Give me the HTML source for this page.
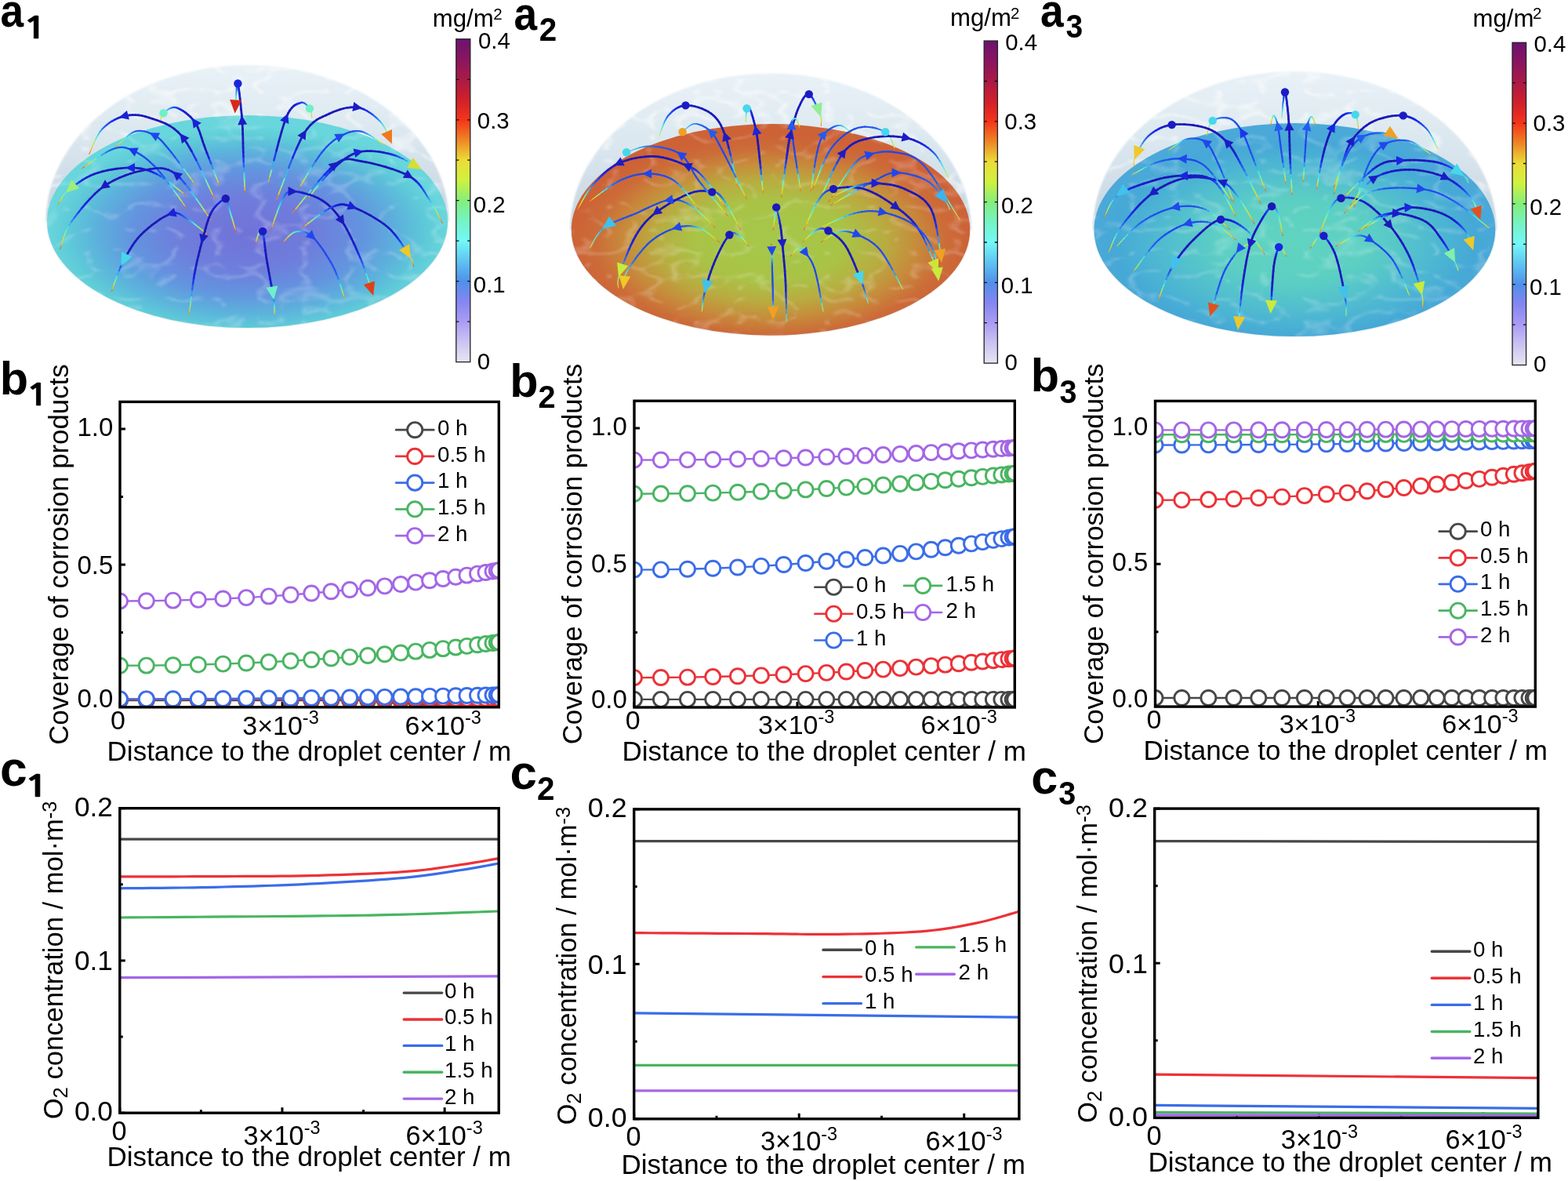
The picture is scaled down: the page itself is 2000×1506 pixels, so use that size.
<!DOCTYPE html>
<html><head><meta charset="utf-8"><title>Droplet corrosion simulation</title>
<style>html,body{margin:0;padding:0;background:#fff;}svg{display:block;}</style></head>
<body><svg xmlns="http://www.w3.org/2000/svg" width="2000" height="1506" viewBox="0 0 2000 1506" font-family="'Liberation Sans', Arial, sans-serif">
<defs>
<linearGradient id="cbar" x1="0" y1="0" x2="0" y2="1"><stop offset="0.0000" stop-color="#6b1370"/><stop offset="0.0625" stop-color="#8a1560"/><stop offset="0.1250" stop-color="#aa1a45"/><stop offset="0.1875" stop-color="#d0202a"/><stop offset="0.2500" stop-color="#f5341a"/><stop offset="0.3125" stop-color="#ee8624"/><stop offset="0.3750" stop-color="#ecdc38"/><stop offset="0.4375" stop-color="#cff23e"/><stop offset="0.5000" stop-color="#84ee7c"/><stop offset="0.5625" stop-color="#74f4c4"/><stop offset="0.6250" stop-color="#74f8f8"/><stop offset="0.6875" stop-color="#5ec4f2"/><stop offset="0.7500" stop-color="#5090ea"/><stop offset="0.8125" stop-color="#8486f2"/><stop offset="0.8750" stop-color="#aa9cf4"/><stop offset="0.9375" stop-color="#cac4f2"/><stop offset="1.0000" stop-color="#e6e6f2"/></linearGradient>
<filter id="soft" x="-2%" y="-2%" width="104%" height="104%"><feGaussianBlur stdDeviation="0.9"/></filter>
<radialGradient id="base0" gradientUnits="userSpaceOnUse" cx="315.5" cy="296.5" r="255.5" gradientTransform="translate(315.5,296.5) scale(1,0.5303) translate(-315.5,-296.5)"><stop offset="0.0" stop-color="#7272d8"/><stop offset="0.35" stop-color="#6e7edc"/><stop offset="0.58" stop-color="#6394df"/><stop offset="0.76" stop-color="#5cb2dc"/><stop offset="0.9" stop-color="#5ecbd8"/><stop offset="1.0" stop-color="#68d6dc"/></radialGradient>
<linearGradient id="domeg0" gradientUnits="userSpaceOnUse" x1="0" y1="83" x2="0" y2="282.5"><stop offset="0" stop-color="#e9f2f7"/><stop offset="0.45" stop-color="#dbe7ef"/><stop offset="0.8" stop-color="#cddbe5"/><stop offset="1" stop-color="#c7d5e0"/></linearGradient>
<clipPath id="dclip0"><path d="M58.5,282.5 A257,199.5 0 0 1 572.5,282.5 L571,282.5 A255.5,135.5 0 0 1 60,282.5 Z"/></clipPath>
<clipPath id="bclip0"><ellipse cx="315.5" cy="282.5" rx="255.5" ry="135.5"/></clipPath>
<filter id="marb0" x="0" y="0" width="1" height="1" filterUnits="objectBoundingBox"><feTurbulence type="turbulence" baseFrequency="0.018 0.034" numOctaves="2" seed="3"/><feColorMatrix type="matrix" values="0 0 0 0 1 0 0 0 0 1 0 0 0 0 1 -6 0 0 0 1.0"/><feGaussianBlur stdDeviation="1.3"/></filter>
<radialGradient id="base1" gradientUnits="userSpaceOnUse" cx="983" cy="306.9" r="254.2" gradientTransform="translate(983,306.9) scale(1,0.5303) translate(-983,-306.9)"><stop offset="0.0" stop-color="#a4c84a"/><stop offset="0.38" stop-color="#a9c346"/><stop offset="0.58" stop-color="#b9ab40"/><stop offset="0.74" stop-color="#c78a3b"/><stop offset="0.88" stop-color="#cc6c38"/><stop offset="1.0" stop-color="#cd6236"/></radialGradient>
<linearGradient id="domeg1" gradientUnits="userSpaceOnUse" x1="0" y1="93.5" x2="0" y2="292.9"><stop offset="0" stop-color="#e9f2f7"/><stop offset="0.45" stop-color="#dbe7ef"/><stop offset="0.8" stop-color="#cddbe5"/><stop offset="1" stop-color="#c7d5e0"/></linearGradient>
<clipPath id="dclip1"><path d="M727.3,292.9 A255.7,199.4 0 0 1 1238.7,292.9 L1237.2,292.9 A254.2,134.8 0 0 1 728.8,292.9 Z"/></clipPath>
<clipPath id="bclip1"><ellipse cx="983" cy="292.9" rx="254.2" ry="134.8"/></clipPath>
<filter id="marb1" x="0" y="0" width="1" height="1" filterUnits="objectBoundingBox"><feTurbulence type="turbulence" baseFrequency="0.018 0.034" numOctaves="2" seed="5"/><feColorMatrix type="matrix" values="0 0 0 0 1 0 0 0 0 1 0 0 0 0 1 -6 0 0 0 1.0"/><feGaussianBlur stdDeviation="1.3"/></filter>
<radialGradient id="base2" gradientUnits="userSpaceOnUse" cx="1651.4" cy="307.1" r="255.9" gradientTransform="translate(1651.4,307.1) scale(1,0.5315) translate(-1651.4,-307.1)"><stop offset="0.0" stop-color="#60d4c0"/><stop offset="0.38" stop-color="#5ccfc3"/><stop offset="0.6" stop-color="#53c0cd"/><stop offset="0.78" stop-color="#4ab2d4"/><stop offset="0.9" stop-color="#46a8d6"/><stop offset="1.0" stop-color="#4aa9d8"/></radialGradient>
<linearGradient id="domeg2" gradientUnits="userSpaceOnUse" x1="0" y1="91.1" x2="0" y2="293.1"><stop offset="0" stop-color="#e9f2f7"/><stop offset="0.45" stop-color="#dbe7ef"/><stop offset="0.8" stop-color="#cddbe5"/><stop offset="1" stop-color="#c7d5e0"/></linearGradient>
<clipPath id="dclip2"><path d="M1394,293.1 A257.4,202 0 0 1 1908.8,293.1 L1907.3,293.1 A255.9,136 0 0 1 1395.5,293.1 Z"/></clipPath>
<clipPath id="bclip2"><ellipse cx="1651.4" cy="293.1" rx="255.9" ry="136"/></clipPath>
<filter id="marb2" x="0" y="0" width="1" height="1" filterUnits="objectBoundingBox"><feTurbulence type="turbulence" baseFrequency="0.018 0.034" numOctaves="2" seed="7"/><feColorMatrix type="matrix" values="0 0 0 0 1 0 0 0 0 1 0 0 0 0 1 -6 0 0 0 1.0"/><feGaussianBlur stdDeviation="1.3"/></filter>
<clipPath id="clip0"><rect x="153" y="512.4" width="483.3" height="389.4"/></clipPath>
<clipPath id="clip1"><rect x="809" y="511.25" width="485.3" height="390.75"/></clipPath>
<clipPath id="clip2"><rect x="1473.5" y="511.4" width="484.8" height="389.7"/></clipPath>
<clipPath id="clip3"><rect x="152.8" y="1030.7" width="483.4" height="388.5"/></clipPath>
<clipPath id="clip4"><rect x="808.7" y="1031.9" width="491.2" height="394.9"/></clipPath>
<clipPath id="clip5"><rect x="1472.7" y="1031.1" width="489.2" height="394.3"/></clipPath>
</defs>
<rect width="2000" height="1506" fill="#fff"/>
<path d="M58.5,282.5 A257,199.5 0 0 1 572.5,282.5 L571,282.5 A255.5,135.5 0 0 1 60,282.5 Z" fill="url(#domeg0)" filter="url(#soft)"/>
<g clip-path="url(#dclip0)"><rect x="57" y="80" width="517" height="341" fill="#fff" filter="url(#marb0)" opacity="0.55"/></g>
<ellipse cx="315.5" cy="282.5" rx="255.5" ry="135.5" fill="url(#base0)"/>
<g clip-path="url(#bclip0)"><rect x="57" y="80" width="517" height="341" fill="#fff" filter="url(#marb0)" opacity="0.22" transform="translate(0,0)"/></g>
<g fill="none" stroke-linecap="round"><path d="M312.4,246L312.3,242.5" stroke="#ed6e1d" stroke-width="1.0"/><path d="M312.3,242.5L312.1,237.8" stroke="#efc928" stroke-width="1.3"/><path d="M312.1,237.8L311.8,232.2" stroke="#cae93b" stroke-width="1.5"/><path d="M311.8,232.2L311.6,225.9" stroke="#80efab" stroke-width="1.8"/><path d="M311.6,225.9L311.3,219.3" stroke="#4edce4" stroke-width="2.0"/><path d="M311.3,219.3L311,212.6" stroke="#369eee" stroke-width="2.2"/><path d="M311,212.6L310.7,206.1" stroke="#2664ef" stroke-width="2.3"/><path d="M310.7,206.1L310.5,200" stroke="#1f43ed" stroke-width="2.5"/><path d="M310.5,200L310.3,194.2" stroke="#1926e6" stroke-width="2.6"/><path d="M310.3,194.2L310.1,188.3" stroke="#1c1dc9" stroke-width="2.7"/><path d="M310.1,188.3L310,182.4" stroke="#1c1cc4" stroke-width="2.7"/><path d="M310,182.4L309.9,176.5" stroke="#1c1abf" stroke-width="2.7"/><path d="M309.9,176.5L309.7,170.6" stroke="#1d19bb" stroke-width="2.7"/><path d="M309.7,170.6L309.5,164.7" stroke="#1d18b7" stroke-width="2.7"/><path d="M309.5,164.7L309.2,158.9" stroke="#1d18b5" stroke-width="2.7"/><path d="M309.2,158.9L308.8,153" stroke="#1d17b5" stroke-width="2.7"/><path d="M308.8,153L308.3,146.7" stroke="#1d18b6" stroke-width="2.7"/><path d="M308.3,146.7L307.6,139.8" stroke="#1d18b8" stroke-width="2.7"/><path d="M307.6,139.8L306.9,132.7" stroke="#1d1abc" stroke-width="2.7"/><path d="M306.9,132.7L306.1,125.7" stroke="#1c1bc1" stroke-width="2.7"/><path d="M306.1,125.7L305.4,119.2" stroke="#1c1dc7" stroke-width="2.7"/><path d="M305.4,119.2L304.6,113.5" stroke="#1b1fcf" stroke-width="2.7"/><path d="M304.6,113.5L304,109.2" stroke="#1a25e2" stroke-width="2.6"/><path d="M304,109.2L303.4,106.5" stroke="#1b2fec" stroke-width="2.5"/><path d="M303.4,106.5L302.9,105.7" stroke="#1c38ec" stroke-width="2.4"/><path d="M302.9,105.7L302.6,106.6" stroke="#1d3cec" stroke-width="2.4"/><path d="M302.6,106.6L302.2,108.8" stroke="#1f45ed" stroke-width="2.3"/><path d="M302.2,108.8L301.9,111.8" stroke="#2253ee" stroke-width="2.2"/><path d="M301.9,111.8L301.7,115.4" stroke="#2767f0" stroke-width="2.1"/><path d="M301.7,115.4L301.4,119" stroke="#318eee" stroke-width="1.9"/><path d="M301.4,119L301.2,122.3" stroke="#3ebcec" stroke-width="1.8"/><path d="M301.2,122.3L301,125" stroke="#4fdde3" stroke-width="1.7"/><path d="M301,125L300.8,127.3" stroke="#64ead1" stroke-width="1.6"/><path d="M300.8,127.3L300.6,129.6" stroke="#80efac" stroke-width="1.5"/><path d="M300.6,129.6L300.4,132" stroke="#a6ed70" stroke-width="1.4"/><path d="M300.4,132L300.3,134.4" stroke="#cbe93b" stroke-width="1.3"/><path d="M300.3,134.4L300.2,136.5" stroke="#ddd831" stroke-width="1.2"/><path d="M300.2,136.5L300.1,138.5" stroke="#efc928" stroke-width="1.1"/><path d="M300.1,138.5L300,140.1" stroke="#f0a524" stroke-width="1.1"/><path d="M300,140.1L299.9,141.4" stroke="#f08620" stroke-width="1.0"/><path d="M279.7,236.2L278.3,232.6" stroke="#f07e1f" stroke-width="1.1"/><path d="M278.3,232.6L276.4,227.6" stroke="#dfd730" stroke-width="1.4"/><path d="M276.4,227.6L274.2,221.8" stroke="#98ee87" stroke-width="1.7"/><path d="M274.2,221.8L271.7,215.3" stroke="#50dde3" stroke-width="2.0"/><path d="M271.7,215.3L269.1,208.5" stroke="#318cef" stroke-width="2.2"/><path d="M269.1,208.5L266.6,201.8" stroke="#214fee" stroke-width="2.4"/><path d="M266.6,201.8L264.1,195.5" stroke="#1926e5" stroke-width="2.6"/><path d="M264.1,195.5L262,190" stroke="#1c1dc7" stroke-width="2.7"/><path d="M262,190L260.2,185" stroke="#1c1bc1" stroke-width="2.7"/><path d="M260.2,185L258.5,180.1" stroke="#1d1abc" stroke-width="2.7"/><path d="M258.5,180.1L257,175.4" stroke="#1d18b8" stroke-width="2.7"/><path d="M257,175.4L255.5,170.9" stroke="#1d18b6" stroke-width="2.7"/><path d="M255.5,170.9L254,166.6" stroke="#1d17b5" stroke-width="2.7"/><path d="M254,166.6L252.3,162.5" stroke="#1d17b5" stroke-width="2.7"/><path d="M252.3,162.5L250.5,158.8" stroke="#1d18b6" stroke-width="2.7"/><path d="M250.5,158.8L248.3,155.3" stroke="#1d18b8" stroke-width="2.7"/><path d="M248.3,155.3L245.8,152.1" stroke="#1d19bb" stroke-width="2.7"/><path d="M245.8,152.1L242.9,149" stroke="#1c1abf" stroke-width="2.7"/><path d="M242.9,149L239.8,146.2" stroke="#1c1cc3" stroke-width="2.7"/><path d="M239.8,146.2L236.6,143.6" stroke="#1c1dc7" stroke-width="2.7"/><path d="M236.6,143.6L233.4,141.4" stroke="#1b1ecc" stroke-width="2.7"/><path d="M233.4,141.4L230.2,139.6" stroke="#1a22d9" stroke-width="2.7"/><path d="M230.2,139.6L227.3,138.1" stroke="#1928eb" stroke-width="2.5"/><path d="M227.3,138.1L224.6,137.2" stroke="#1c37ec" stroke-width="2.4"/><path d="M224.6,137.2L222.1,136.9" stroke="#2047ed" stroke-width="2.2"/><path d="M222.1,136.9L219.7,137.2" stroke="#2356ee" stroke-width="2.1"/><path d="M219.7,137.2L217.5,137.9" stroke="#2767f0" stroke-width="2.0"/><path d="M217.5,137.9L215.3,139" stroke="#2e82ef" stroke-width="1.9"/><path d="M215.3,139L213.3,140.4" stroke="#38a5ed" stroke-width="1.8"/><path d="M213.3,140.4L211.5,141.8" stroke="#42c9ec" stroke-width="1.7"/><path d="M211.5,141.8L209.9,143.1" stroke="#52dfe0" stroke-width="1.6"/><path d="M209.9,143.1L208.5,144.2" stroke="#65ead0" stroke-width="1.5"/><path d="M208.5,144.2L207.4,145.2" stroke="#7aefb5" stroke-width="1.4"/><path d="M207.4,145.2L206.7,146.4" stroke="#94ee8d" stroke-width="1.3"/><path d="M206.7,146.4L206.1,147.6" stroke="#aded67" stroke-width="1.3"/><path d="M206.1,147.6L205.7,148.8" stroke="#c5eb41" stroke-width="1.2"/><path d="M205.7,148.8L205.5,149.9" stroke="#d2e337" stroke-width="1.2"/><path d="M205.5,149.9L205.3,151" stroke="#dcda32" stroke-width="1.1"/><path d="M205.3,151L205.2,151.9" stroke="#e5d12d" stroke-width="1.1"/><path d="M205.2,151.9L205,152.5" stroke="#edcb2a" stroke-width="1.0"/><path d="M274,254.3L270.9,247.8" stroke="#f08420" stroke-width="1.1"/><path d="M270.9,247.8L266.7,238.7" stroke="#d9dd34" stroke-width="1.5"/><path d="M266.7,238.7L261.7,227.9" stroke="#81efab" stroke-width="1.8"/><path d="M261.7,227.9L256.2,216.1" stroke="#42c7ec" stroke-width="2.0"/><path d="M256.2,216.1L250.3,204.1" stroke="#2769f0" stroke-width="2.3"/><path d="M250.3,204.1L244.4,192.7" stroke="#1c36ec" stroke-width="2.5"/><path d="M244.4,192.7L238.5,182.7" stroke="#1c1ec9" stroke-width="2.7"/><path d="M238.5,182.7L233,174.8" stroke="#1c1cc2" stroke-width="2.7"/><path d="M233,174.8L227.6,168.9" stroke="#1d1abd" stroke-width="2.7"/><path d="M227.6,168.9L222.1,164.2" stroke="#1d19ba" stroke-width="2.7"/><path d="M222.1,164.2L216.6,160.5" stroke="#1d18b7" stroke-width="2.7"/><path d="M216.6,160.5L211,157.5" stroke="#1d18b6" stroke-width="2.7"/><path d="M211,157.5L205.4,155.2" stroke="#1d17b5" stroke-width="2.7"/><path d="M205.4,155.2L200.1,153.3" stroke="#1d17b5" stroke-width="2.7"/><path d="M200.1,153.3L194.9,151.6" stroke="#1d18b6" stroke-width="2.7"/><path d="M194.9,151.6L190,150" stroke="#1d18b7" stroke-width="2.7"/><path d="M190,150L185.4,148.6" stroke="#1d19b9" stroke-width="2.7"/><path d="M185.4,148.6L181,147.5" stroke="#1d19bb" stroke-width="2.7"/><path d="M181,147.5L176.9,146.9" stroke="#1d1abd" stroke-width="2.7"/><path d="M176.9,146.9L172.8,146.6" stroke="#1c1abf" stroke-width="2.7"/><path d="M172.8,146.6L168.9,146.6" stroke="#1c1bc1" stroke-width="2.7"/><path d="M168.9,146.6L165.1,146.9" stroke="#1c1cc4" stroke-width="2.7"/><path d="M165.1,146.9L161.3,147.5" stroke="#1c1dc6" stroke-width="2.7"/><path d="M161.3,147.5L157.6,148.3" stroke="#1c1dc9" stroke-width="2.7"/><path d="M157.6,148.3L153.8,149.4" stroke="#1b1ecb" stroke-width="2.7"/><path d="M153.8,149.4L150.1,150.8" stroke="#1b20d2" stroke-width="2.7"/><path d="M150.1,150.8L146.4,152.6" stroke="#1a24df" stroke-width="2.6"/><path d="M146.4,152.6L142.8,154.6" stroke="#1a2beb" stroke-width="2.5"/><path d="M142.8,154.6L139.3,156.8" stroke="#1d39ec" stroke-width="2.4"/><path d="M139.3,156.8L136,159.4" stroke="#2049ed" stroke-width="2.3"/><path d="M136,159.4L132.9,162.1" stroke="#245bef" stroke-width="2.2"/><path d="M132.9,162.1L130,165" stroke="#286ff0" stroke-width="2.1"/><path d="M130,165L127.3,168.4" stroke="#3497ee" stroke-width="1.9"/><path d="M127.3,168.4L124.7,172.6" stroke="#41c6ec" stroke-width="1.8"/><path d="M124.7,172.6L122.3,177.1" stroke="#5ce5d8" stroke-width="1.7"/><path d="M122.3,177.1L120.1,181.8" stroke="#8aee9c" stroke-width="1.5"/><path d="M120.1,181.8L118.1,186.3" stroke="#c9ea3c" stroke-width="1.4"/><path d="M118.1,186.3L116.4,190.5" stroke="#e6d02d" stroke-width="1.2"/><path d="M116.4,190.5L114.9,194" stroke="#f09d23" stroke-width="1.1"/><path d="M114.9,194L113.7,196.5" stroke="#eb671d" stroke-width="1.0"/><path d="M249.7,236.2L246.9,232.4" stroke="#f0781e" stroke-width="1.0"/><path d="M246.9,232.4L243.1,227.2" stroke="#e5d22e" stroke-width="1.3"/><path d="M243.1,227.2L238.5,221" stroke="#a9ed6c" stroke-width="1.5"/><path d="M238.5,221L233.5,214.2" stroke="#5de5d7" stroke-width="1.8"/><path d="M233.5,214.2L228.4,207.3" stroke="#39a9ed" stroke-width="2.0"/><path d="M228.4,207.3L223.4,200.7" stroke="#2664ef" stroke-width="2.1"/><path d="M223.4,200.7L218.8,194.7" stroke="#2252ee" stroke-width="2.2"/><path d="M218.8,194.7L215,190" stroke="#214dee" stroke-width="2.2"/><path d="M215,190L211.9,186.3" stroke="#204aed" stroke-width="2.2"/><path d="M211.9,186.3L209.3,183.2" stroke="#2048ed" stroke-width="2.2"/><path d="M209.3,183.2L207,180.6" stroke="#2047ed" stroke-width="2.2"/><path d="M207,180.6L204.9,178.4" stroke="#2047ed" stroke-width="2.2"/><path d="M204.9,178.4L202.8,176.5" stroke="#2047ed" stroke-width="2.2"/><path d="M202.8,176.5L200.8,174.9" stroke="#2048ed" stroke-width="2.2"/><path d="M200.8,174.9L198.5,173.4" stroke="#2048ed" stroke-width="2.2"/><path d="M198.5,173.4L196,172" stroke="#2049ed" stroke-width="2.2"/><path d="M196,172L193.2,170.7" stroke="#204bed" stroke-width="2.2"/><path d="M193.2,170.7L190.3,169.4" stroke="#214cee" stroke-width="2.2"/><path d="M190.3,169.4L187.3,168.3" stroke="#214fee" stroke-width="2.2"/><path d="M187.3,168.3L184.2,167.5" stroke="#2251ee" stroke-width="2.2"/><path d="M184.2,167.5L181,167" stroke="#2253ee" stroke-width="2.2"/><path d="M181,167L177.9,166.8" stroke="#2356ee" stroke-width="2.2"/><path d="M177.9,166.8L174.7,167.1" stroke="#2459ef" stroke-width="2.2"/><path d="M174.7,167.1L171.6,167.9" stroke="#2562ef" stroke-width="2.2"/><path d="M171.6,167.9L168.3,169.5" stroke="#2971f0" stroke-width="2.0"/><path d="M168.3,169.5L164.8,171.9" stroke="#3395ee" stroke-width="1.9"/><path d="M164.8,171.9L161.1,174.8" stroke="#41c6ec" stroke-width="1.8"/><path d="M161.1,174.8L157.5,178.1" stroke="#60e7d4" stroke-width="1.6"/><path d="M157.5,178.1L154.1,181.4" stroke="#9ded7f" stroke-width="1.4"/><path d="M154.1,181.4L151,184.5" stroke="#d7de34" stroke-width="1.3"/><path d="M151,184.5L148.4,187" stroke="#f0b225" stroke-width="1.2"/><path d="M148.4,187L146.5,188.8" stroke="#ed6e1d" stroke-width="1.0"/><path d="M238.5,266.2L235.5,262.1" stroke="#ee711e" stroke-width="1.0"/><path d="M235.5,262.1L231.4,256.3" stroke="#ebcc2a" stroke-width="1.3"/><path d="M231.4,256.3L226.6,249.5" stroke="#beec4c" stroke-width="1.5"/><path d="M226.6,249.5L221.2,242.1" stroke="#6defc9" stroke-width="1.7"/><path d="M221.2,242.1L215.6,234.4" stroke="#43cdeb" stroke-width="1.9"/><path d="M215.6,234.4L210,227" stroke="#2e84ef" stroke-width="2.1"/><path d="M210,227L204.7,220.4" stroke="#2357ee" stroke-width="2.2"/><path d="M204.7,220.4L200,215" stroke="#2252ee" stroke-width="2.2"/><path d="M200,215L195.7,210.6" stroke="#214eee" stroke-width="2.2"/><path d="M195.7,210.6L191.5,206.7" stroke="#204bed" stroke-width="2.2"/><path d="M191.5,206.7L187.5,203.2" stroke="#2049ed" stroke-width="2.2"/><path d="M187.5,203.2L183.6,200.2" stroke="#2048ed" stroke-width="2.2"/><path d="M183.6,200.2L179.7,197.5" stroke="#2047ed" stroke-width="2.2"/><path d="M179.7,197.5L176,195.3" stroke="#2047ed" stroke-width="2.2"/><path d="M176,195.3L172.4,193.3" stroke="#2048ed" stroke-width="2.2"/><path d="M172.4,193.3L168.8,191.6" stroke="#2049ed" stroke-width="2.2"/><path d="M168.8,191.6L165.5,190.2" stroke="#204aed" stroke-width="2.2"/><path d="M165.5,190.2L162.4,189.1" stroke="#214cee" stroke-width="2.2"/><path d="M162.4,189.1L159.6,188.3" stroke="#214eee" stroke-width="2.2"/><path d="M159.6,188.3L156.7,187.9" stroke="#214fee" stroke-width="2.2"/><path d="M156.7,187.9L153.9,187.9" stroke="#2251ee" stroke-width="2.2"/><path d="M153.9,187.9L150.8,188.2" stroke="#2253ee" stroke-width="2.2"/><path d="M150.8,188.2L147.5,189" stroke="#2355ee" stroke-width="2.2"/><path d="M147.5,189L143.7,190.2" stroke="#2357ee" stroke-width="2.2"/><path d="M143.7,190.2L139.2,192.2" stroke="#255fef" stroke-width="2.2"/><path d="M139.2,192.2L134,195.1" stroke="#2970f0" stroke-width="2.0"/><path d="M134,195.1L128.3,198.5" stroke="#36a0ee" stroke-width="1.9"/><path d="M128.3,198.5L122.6,202.3" stroke="#4cdbe6" stroke-width="1.7"/><path d="M122.6,202.3L117,206.1" stroke="#7fefad" stroke-width="1.5"/><path d="M117,206.1L112,209.6" stroke="#cde73a" stroke-width="1.3"/><path d="M112,209.6L107.7,212.5" stroke="#f0c027" stroke-width="1.2"/><path d="M107.7,212.5L104.6,214.6" stroke="#ee721e" stroke-width="1.1"/><path d="M269.2,280.8L265.7,275.9" stroke="#ee721e" stroke-width="1.1"/><path d="M265.7,275.9L261.1,269" stroke="#eacd2b" stroke-width="1.3"/><path d="M261.1,269L255.5,260.8" stroke="#b8ec54" stroke-width="1.6"/><path d="M255.5,260.8L249.3,251.9" stroke="#69edcd" stroke-width="1.8"/><path d="M249.3,251.9L242.9,242.9" stroke="#41c4ec" stroke-width="2.1"/><path d="M242.9,242.9L236.4,234.6" stroke="#2c7bef" stroke-width="2.2"/><path d="M236.4,234.6L230.2,227.5" stroke="#2252ee" stroke-width="2.4"/><path d="M230.2,227.5L224.6,222.3" stroke="#1c36ec" stroke-width="2.5"/><path d="M224.6,222.3L219.5,218.9" stroke="#1a24df" stroke-width="2.6"/><path d="M219.5,218.9L214.8,216.6" stroke="#1c1eca" stroke-width="2.7"/><path d="M214.8,216.6L210.1,215.2" stroke="#1c1dc7" stroke-width="2.7"/><path d="M210.1,215.2L205.6,214.5" stroke="#1c1cc4" stroke-width="2.7"/><path d="M205.6,214.5L200.9,214.5" stroke="#1c1bc2" stroke-width="2.7"/><path d="M200.9,214.5L196.1,215" stroke="#1c1abf" stroke-width="2.7"/><path d="M196.1,215L191,215.8" stroke="#1d1abd" stroke-width="2.7"/><path d="M191,215.8L185.5,216.7" stroke="#1d19ba" stroke-width="2.7"/><path d="M185.5,216.7L179.5,217.9" stroke="#1d18b8" stroke-width="2.7"/><path d="M179.5,217.9L173,219.5" stroke="#1d18b6" stroke-width="2.7"/><path d="M173,219.5L166.2,221.5" stroke="#1d17b5" stroke-width="2.7"/><path d="M166.2,221.5L159.2,223.9" stroke="#1d17b5" stroke-width="2.7"/><path d="M159.2,223.9L152.2,226.8" stroke="#1d17b5" stroke-width="2.7"/><path d="M152.2,226.8L145.3,230" stroke="#1d18b7" stroke-width="2.7"/><path d="M145.3,230L138.7,233.6" stroke="#1d19b9" stroke-width="2.7"/><path d="M138.7,233.6L132.5,237.6" stroke="#1d19bc" stroke-width="2.7"/><path d="M132.5,237.6L126.5,242.2" stroke="#1c1bbf" stroke-width="2.7"/><path d="M126.5,242.2L120.6,247.6" stroke="#1c1cc4" stroke-width="2.7"/><path d="M120.6,247.6L114.7,253.6" stroke="#1c1dc8" stroke-width="2.7"/><path d="M114.7,253.6L109.1,259.8" stroke="#1b20d0" stroke-width="2.7"/><path d="M109.1,259.8L103.7,266.2" stroke="#1927e8" stroke-width="2.6"/><path d="M103.7,266.2L98.8,272.4" stroke="#1e3eed" stroke-width="2.4"/><path d="M98.8,272.4L94.3,278.3" stroke="#245bef" stroke-width="2.2"/><path d="M94.3,278.3L90.5,283.7" stroke="#2e82ef" stroke-width="2.0"/><path d="M90.5,283.7L87.3,288.8" stroke="#3db9ec" stroke-width="1.8"/><path d="M87.3,288.8L84.7,293.8" stroke="#55e0de" stroke-width="1.7"/><path d="M84.7,293.8L82.6,298.8" stroke="#7befb4" stroke-width="1.6"/><path d="M82.6,298.8L80.9,303.5" stroke="#b3ec5c" stroke-width="1.4"/><path d="M80.9,303.5L79.6,307.9" stroke="#d8dd34" stroke-width="1.3"/><path d="M79.6,307.9L78.4,311.8" stroke="#f0c628" stroke-width="1.2"/><path d="M78.4,311.8L77.5,315.1" stroke="#f09121" stroke-width="1.1"/><path d="M77.5,315.1L76.6,317.6" stroke="#ea641d" stroke-width="1.0"/><path d="M236.6,248.6L233.8,246.4" stroke="#ec6b1d" stroke-width="1.0"/><path d="M233.8,246.4L230,243.4" stroke="#f0c528" stroke-width="1.3"/><path d="M230,243.4L225.4,239.8" stroke="#cde73a" stroke-width="1.5"/><path d="M225.4,239.8L220.4,235.8" stroke="#88efa0" stroke-width="1.7"/><path d="M220.4,235.8L215.1,231.8" stroke="#54e0df" stroke-width="1.9"/><path d="M215.1,231.8L209.8,228" stroke="#3aaded" stroke-width="2.1"/><path d="M209.8,228L204.7,224.6" stroke="#2970f0" stroke-width="2.3"/><path d="M204.7,224.6L200,222" stroke="#2252ee" stroke-width="2.4"/><path d="M200,222L195.7,220" stroke="#1d3aec" stroke-width="2.5"/><path d="M195.7,220L191.6,218.3" stroke="#1926e6" stroke-width="2.6"/><path d="M191.6,218.3L187.6,216.9" stroke="#1c1eca" stroke-width="2.7"/><path d="M187.6,216.9L183.6,215.8" stroke="#1c1dc7" stroke-width="2.7"/><path d="M183.6,215.8L179.5,214.9" stroke="#1c1cc3" stroke-width="2.7"/><path d="M179.5,214.9L175.3,214.4" stroke="#1c1bc0" stroke-width="2.7"/><path d="M175.3,214.4L170.8,214" stroke="#1d1abd" stroke-width="2.7"/><path d="M170.8,214L166,213.9" stroke="#1d19ba" stroke-width="2.7"/><path d="M166,213.9L160.7,214" stroke="#1d18b8" stroke-width="2.7"/><path d="M160.7,214L155.1,214.5" stroke="#1d18b6" stroke-width="2.7"/><path d="M155.1,214.5L149.1,215.1" stroke="#1d17b5" stroke-width="2.7"/><path d="M149.1,215.1L143,216.1" stroke="#1d17b5" stroke-width="2.7"/><path d="M143,216.1L136.9,217.2" stroke="#1d18b7" stroke-width="2.7"/><path d="M136.9,217.2L130.9,218.6" stroke="#1d19ba" stroke-width="2.7"/><path d="M130.9,218.6L125.3,220.2" stroke="#1d1abd" stroke-width="2.7"/><path d="M125.3,220.2L120,222" stroke="#1c1bc1" stroke-width="2.7"/><path d="M120,222L115,224.1" stroke="#1c1dc6" stroke-width="2.7"/><path d="M115,224.1L110.1,226.6" stroke="#1c1eca" stroke-width="2.7"/><path d="M110.1,226.6L105.3,229.4" stroke="#1b22d7" stroke-width="2.7"/><path d="M105.3,229.4L100.8,232.4" stroke="#1a2beb" stroke-width="2.5"/><path d="M100.8,232.4L96.5,235.5" stroke="#1f43ed" stroke-width="2.3"/><path d="M96.5,235.5L92.5,238.5" stroke="#255eef" stroke-width="2.1"/><path d="M92.5,238.5L89,241.3" stroke="#2f86ef" stroke-width="2.0"/><path d="M89,241.3L85.9,243.9" stroke="#3ebbec" stroke-width="1.8"/><path d="M85.9,243.9L83.3,246.3" stroke="#53dfe0" stroke-width="1.7"/><path d="M83.3,246.3L81.2,248.8" stroke="#6ef0c8" stroke-width="1.5"/><path d="M81.2,248.8L79.5,251.2" stroke="#9ced80" stroke-width="1.4"/><path d="M79.5,251.2L78.1,253.6" stroke="#c8eb3c" stroke-width="1.3"/><path d="M78.1,253.6L77,255.7" stroke="#dcda32" stroke-width="1.2"/><path d="M77,255.7L76.1,257.6" stroke="#eeca29" stroke-width="1.2"/><path d="M76.1,257.6L75.3,259.3" stroke="#f0a724" stroke-width="1.1"/><path d="M75.3,259.3L74.6,260.5" stroke="#f08720" stroke-width="1.0"/><path d="M265.2,299.7L263.2,298.1" stroke="#e85d1c" stroke-width="1.0"/><path d="M263.2,298.1L260.6,295.9" stroke="#f0a424" stroke-width="1.2"/><path d="M260.6,295.9L257.5,293.2" stroke="#e2d42f" stroke-width="1.4"/><path d="M257.5,293.2L254,290.3" stroke="#c3eb44" stroke-width="1.6"/><path d="M254,290.3L250.3,287.4" stroke="#8aee9c" stroke-width="1.7"/><path d="M250.3,287.4L246.7,284.5" stroke="#60e7d4" stroke-width="1.9"/><path d="M246.7,284.5L243.2,282" stroke="#45d5eb" stroke-width="2.0"/><path d="M243.2,282L240,280" stroke="#3aaced" stroke-width="2.1"/><path d="M240,280L237.2,278.2" stroke="#308aef" stroke-width="2.2"/><path d="M237.2,278.2L234.7,276.5" stroke="#286cf0" stroke-width="2.3"/><path d="M234.7,276.5L232.2,274.8" stroke="#245def" stroke-width="2.4"/><path d="M232.2,274.8L229.8,273.3" stroke="#214eee" stroke-width="2.4"/><path d="M229.8,273.3L227.3,272.2" stroke="#1e41ed" stroke-width="2.5"/><path d="M227.3,272.2L224.6,271.6" stroke="#1b33ec" stroke-width="2.5"/><path d="M224.6,271.6L221.5,271.7" stroke="#1927e8" stroke-width="2.6"/><path d="M221.5,271.7L218,272.5" stroke="#1b20d2" stroke-width="2.7"/><path d="M218,272.5L213.9,274.2" stroke="#1c1dc8" stroke-width="2.7"/><path d="M213.9,274.2L209.2,276.6" stroke="#1c1cc4" stroke-width="2.7"/><path d="M209.2,276.6L204.1,279.7" stroke="#1c1bbf" stroke-width="2.7"/><path d="M204.1,279.7L198.9,283.3" stroke="#1d19bb" stroke-width="2.7"/><path d="M198.9,283.3L193.6,287.2" stroke="#1d18b8" stroke-width="2.7"/><path d="M193.6,287.2L188.5,291.4" stroke="#1d18b6" stroke-width="2.7"/><path d="M188.5,291.4L183.7,295.6" stroke="#1d17b5" stroke-width="2.7"/><path d="M183.7,295.6L179.5,299.7" stroke="#1d18b5" stroke-width="2.7"/><path d="M179.5,299.7L175.7,303.9" stroke="#1d18b7" stroke-width="2.7"/><path d="M175.7,303.9L172.2,308.3" stroke="#1d19ba" stroke-width="2.7"/><path d="M172.2,308.3L169,313" stroke="#1c1abe" stroke-width="2.7"/><path d="M169,313L166,317.8" stroke="#1c1bc2" stroke-width="2.7"/><path d="M166,317.8L163.1,322.7" stroke="#1c1dc7" stroke-width="2.7"/><path d="M163.1,322.7L160.5,327.5" stroke="#1b1ecc" stroke-width="2.7"/><path d="M160.5,327.5L158,332.3" stroke="#1a23dc" stroke-width="2.7"/><path d="M158,332.3L155.6,336.9" stroke="#1b31ec" stroke-width="2.5"/><path d="M155.6,336.9L153.3,341.6" stroke="#204bed" stroke-width="2.3"/><path d="M153.3,341.6L151.2,346.6" stroke="#276bf0" stroke-width="2.1"/><path d="M151.2,346.6L149.3,351.8" stroke="#3aaced" stroke-width="1.9"/><path d="M149.3,351.8L147.5,356.8" stroke="#58e2db" stroke-width="1.7"/><path d="M147.5,356.8L145.8,361.5" stroke="#97ee89" stroke-width="1.5"/><path d="M145.8,361.5L144.4,365.7" stroke="#d5df35" stroke-width="1.3"/><path d="M144.4,365.7L143.3,369.3" stroke="#f0b526" stroke-width="1.2"/><path d="M143.3,369.3L142.3,372" stroke="#ed6f1d" stroke-width="1.1"/><path d="M301,295.7L300.3,293.2" stroke="#e75b1c" stroke-width="1.0"/><path d="M300.3,293.2L299.3,289.7" stroke="#f09f23" stroke-width="1.2"/><path d="M299.3,289.7L298.1,285.6" stroke="#e5d12d" stroke-width="1.4"/><path d="M298.1,285.6L296.8,281.1" stroke="#cae93b" stroke-width="1.5"/><path d="M296.8,281.1L295.4,276.5" stroke="#97ee89" stroke-width="1.7"/><path d="M295.4,276.5L294.1,272.1" stroke="#69edcc" stroke-width="1.8"/><path d="M294.1,272.1L293,268.1" stroke="#51dee2" stroke-width="1.9"/><path d="M293,268.1L292,265" stroke="#41c7ec" stroke-width="2.0"/><path d="M292,265L291.3,262.4" stroke="#3aaced" stroke-width="2.1"/><path d="M291.3,262.4L290.9,260.1" stroke="#3396ee" stroke-width="2.2"/><path d="M290.9,260.1L290.7,257.9" stroke="#2e82ef" stroke-width="2.2"/><path d="M290.7,257.9L290.5,256.1" stroke="#2971f0" stroke-width="2.3"/><path d="M290.5,256.1L290.2,254.7" stroke="#2768f0" stroke-width="2.3"/><path d="M290.2,254.7L289.7,253.7" stroke="#2562ef" stroke-width="2.3"/><path d="M289.7,253.7L288.9,253.2" stroke="#245def" stroke-width="2.4"/><path d="M288.9,253.2L287.8,253.2" stroke="#2359ee" stroke-width="2.4"/><path d="M287.8,253.2L286.2,253.8" stroke="#2252ee" stroke-width="2.4"/><path d="M286.2,253.8L284.2,255" stroke="#2049ed" stroke-width="2.4"/><path d="M284.2,255L281.8,256.6" stroke="#1e3eed" stroke-width="2.5"/><path d="M281.8,256.6L279.4,258.7" stroke="#1b30ec" stroke-width="2.6"/><path d="M279.4,258.7L276.8,261.1" stroke="#1a25e2" stroke-width="2.6"/><path d="M276.8,261.1L274.3,263.8" stroke="#1b1fcd" stroke-width="2.7"/><path d="M274.3,263.8L272,266.8" stroke="#1c1dc8" stroke-width="2.7"/><path d="M272,266.8L270,270" stroke="#1c1cc5" stroke-width="2.7"/><path d="M270,270L268.3,273.4" stroke="#1c1bc2" stroke-width="2.7"/><path d="M268.3,273.4L266.7,277.2" stroke="#1c1bbf" stroke-width="2.7"/><path d="M266.7,277.2L265.2,281.4" stroke="#1d1abd" stroke-width="2.7"/><path d="M265.2,281.4L263.8,285.7" stroke="#1d19ba" stroke-width="2.7"/><path d="M263.8,285.7L262.5,290.3" stroke="#1d18b8" stroke-width="2.7"/><path d="M262.5,290.3L261.2,295.1" stroke="#1d18b6" stroke-width="2.7"/><path d="M261.2,295.1L259.8,300" stroke="#1d17b5" stroke-width="2.7"/><path d="M259.8,300L258.5,305" stroke="#1d17b5" stroke-width="2.7"/><path d="M258.5,305L257.1,310.1" stroke="#1d17b5" stroke-width="2.7"/><path d="M257.1,310.1L255.7,315.4" stroke="#1d18b6" stroke-width="2.7"/><path d="M255.7,315.4L254.3,320.9" stroke="#1d18b9" stroke-width="2.7"/><path d="M254.3,320.9L253,326.5" stroke="#1d19bb" stroke-width="2.7"/><path d="M253,326.5L251.6,332.2" stroke="#1c1abf" stroke-width="2.7"/><path d="M251.6,332.2L250.3,338.1" stroke="#1c1cc3" stroke-width="2.7"/><path d="M250.3,338.1L249.1,344" stroke="#1c1dc8" stroke-width="2.7"/><path d="M249.1,344L248,350" stroke="#1b1fce" stroke-width="2.7"/><path d="M248,350L246.9,356.5" stroke="#1a25e2" stroke-width="2.6"/><path d="M246.9,356.5L245.9,363.6" stroke="#1d3bec" stroke-width="2.4"/><path d="M245.9,363.6L244.9,371" stroke="#245def" stroke-width="2.1"/><path d="M244.9,371L244,378.5" stroke="#369eee" stroke-width="1.9"/><path d="M244,378.5L243.2,385.5" stroke="#58e2db" stroke-width="1.6"/><path d="M243.2,385.5L242.4,391.9" stroke="#a2ed78" stroke-width="1.4"/><path d="M242.4,391.9L241.8,397.3" stroke="#dfd731" stroke-width="1.2"/><path d="M241.8,397.3L241.3,401.3" stroke="#f09d23" stroke-width="1.1"/><path d="M342.4,231.9L344.2,225.2" stroke="#f0ac25" stroke-width="1.2"/><path d="M344.2,225.2L346.6,215.7" stroke="#99ee86" stroke-width="1.7"/><path d="M346.6,215.7L349.4,204.5" stroke="#3aaded" stroke-width="2.1"/><path d="M349.4,204.5L352.6,192.2" stroke="#1e3eed" stroke-width="2.5"/><path d="M352.6,192.2L355.8,179.8" stroke="#1c1cc4" stroke-width="2.7"/><path d="M355.8,179.8L359.1,168.1" stroke="#1d18b9" stroke-width="2.7"/><path d="M359.1,168.1L362.2,157.9" stroke="#1d17b5" stroke-width="2.7"/><path d="M362.2,157.9L365,150.1" stroke="#1d18b8" stroke-width="2.7"/><path d="M365,150.1L367.5,144.5" stroke="#1d1abd" stroke-width="2.7"/><path d="M367.5,144.5L370,140.3" stroke="#1c1cc3" stroke-width="2.7"/><path d="M370,140.3L372.5,137.2" stroke="#1c1dc8" stroke-width="2.7"/><path d="M372.5,137.2L374.8,135" stroke="#1b1ecc" stroke-width="2.7"/><path d="M374.8,135L377.1,133.5" stroke="#1b21d5" stroke-width="2.7"/><path d="M377.1,133.5L379.3,132.5" stroke="#1a25e2" stroke-width="2.6"/><path d="M379.3,132.5L381.4,131.8" stroke="#1a2ceb" stroke-width="2.5"/><path d="M381.4,131.8L383.3,131.1" stroke="#1c37ec" stroke-width="2.4"/><path d="M383.3,131.1L385.1,130.7" stroke="#1f43ed" stroke-width="2.3"/><path d="M385.1,130.7L386.9,131" stroke="#214eee" stroke-width="2.2"/><path d="M386.9,131L388.6,131.7" stroke="#245bef" stroke-width="2.1"/><path d="M388.6,131.7L390.1,132.8" stroke="#2768f0" stroke-width="2.0"/><path d="M390.1,132.8L391.5,134.2" stroke="#2d7fef" stroke-width="1.9"/><path d="M391.5,134.2L392.8,135.7" stroke="#359cee" stroke-width="1.8"/><path d="M392.8,135.7L394,137.1" stroke="#3ebaec" stroke-width="1.7"/><path d="M394,137.1L395,138.4" stroke="#46d7eb" stroke-width="1.6"/><path d="M395,138.4L395.8,139.7" stroke="#55e1de" stroke-width="1.6"/><path d="M395.8,139.7L396.4,141.3" stroke="#65ebd0" stroke-width="1.5"/><path d="M396.4,141.3L396.9,142.9" stroke="#7eefb0" stroke-width="1.4"/><path d="M396.9,142.9L397.2,144.7" stroke="#9eed7d" stroke-width="1.3"/><path d="M397.2,144.7L397.4,146.3" stroke="#bfec4a" stroke-width="1.2"/><path d="M397.4,146.3L397.6,147.8" stroke="#d3e237" stroke-width="1.1"/><path d="M397.6,147.8L397.7,149.1" stroke="#e0d630" stroke-width="1.1"/><path d="M397.7,149.1L397.9,150" stroke="#ebcc2a" stroke-width="1.0"/><path d="M352.6,254.6L355.3,247.7" stroke="#f08820" stroke-width="1.1"/><path d="M355.3,247.7L359,238.1" stroke="#d5e035" stroke-width="1.5"/><path d="M359,238.1L363.3,226.7" stroke="#75f0bd" stroke-width="1.8"/><path d="M363.3,226.7L368.1,214.2" stroke="#3db8ec" stroke-width="2.1"/><path d="M368.1,214.2L373.1,201.5" stroke="#255eef" stroke-width="2.3"/><path d="M373.1,201.5L378.2,189.5" stroke="#1a2aeb" stroke-width="2.6"/><path d="M378.2,189.5L383.1,178.9" stroke="#1c1dc7" stroke-width="2.7"/><path d="M383.1,178.9L387.6,170.6" stroke="#1c1bc0" stroke-width="2.7"/><path d="M387.6,170.6L391.7,164.5" stroke="#1d19bb" stroke-width="2.7"/><path d="M391.7,164.5L395.8,159.7" stroke="#1d18b8" stroke-width="2.7"/><path d="M395.8,159.7L399.8,155.9" stroke="#1d18b6" stroke-width="2.7"/><path d="M399.8,155.9L403.7,153" stroke="#1d18b5" stroke-width="2.7"/><path d="M403.7,153L407.7,150.7" stroke="#1d17b5" stroke-width="2.7"/><path d="M407.7,150.7L411.7,148.8" stroke="#1d17b5" stroke-width="2.7"/><path d="M411.7,148.8L415.8,147" stroke="#1d17b5" stroke-width="2.7"/><path d="M415.8,147L420,145" stroke="#1d18b6" stroke-width="2.7"/><path d="M420,145L424.4,143" stroke="#1d18b8" stroke-width="2.7"/><path d="M424.4,143L429,141.2" stroke="#1d19b9" stroke-width="2.7"/><path d="M429,141.2L433.7,139.6" stroke="#1d19bc" stroke-width="2.7"/><path d="M433.7,139.6L438.4,138.3" stroke="#1c1abe" stroke-width="2.7"/><path d="M438.4,138.3L443.1,137.3" stroke="#1c1bc1" stroke-width="2.7"/><path d="M443.1,137.3L447.7,136.8" stroke="#1c1cc4" stroke-width="2.7"/><path d="M447.7,136.8L452.1,136.6" stroke="#1c1dc7" stroke-width="2.7"/><path d="M452.1,136.6L456.3,137" stroke="#1c1eca" stroke-width="2.7"/><path d="M456.3,137L460.4,138" stroke="#1b20d0" stroke-width="2.7"/><path d="M460.4,138L464.4,139.5" stroke="#1a23db" stroke-width="2.7"/><path d="M464.4,139.5L468.3,141.5" stroke="#1928eb" stroke-width="2.5"/><path d="M468.3,141.5L472.1,143.9" stroke="#1c36ec" stroke-width="2.4"/><path d="M472.1,143.9L475.7,146.5" stroke="#2047ed" stroke-width="2.3"/><path d="M475.7,146.5L479.1,149.3" stroke="#245bef" stroke-width="2.2"/><path d="M479.1,149.3L482.2,152.2" stroke="#2970f0" stroke-width="2.0"/><path d="M482.2,152.2L485,155" stroke="#3496ee" stroke-width="1.9"/><path d="M485,155L487.5,158" stroke="#3fbeec" stroke-width="1.8"/><path d="M487.5,158L489.8,161.5" stroke="#51dee2" stroke-width="1.7"/><path d="M489.8,161.5L491.8,165.2" stroke="#6cefca" stroke-width="1.6"/><path d="M491.8,165.2L493.6,169" stroke="#9ced80" stroke-width="1.4"/><path d="M493.6,169L495.2,172.7" stroke="#cbe83a" stroke-width="1.3"/><path d="M495.2,172.7L496.6,176" stroke="#e3d42f" stroke-width="1.2"/><path d="M496.6,176L497.7,178.8" stroke="#f0b426" stroke-width="1.1"/><path d="M497.7,178.8L498.7,180.8" stroke="#f08a20" stroke-width="1.0"/><path d="M381,240.7L383.3,237" stroke="#ee711e" stroke-width="1.0"/><path d="M383.3,237L386.3,231.9" stroke="#eccc2a" stroke-width="1.3"/><path d="M386.3,231.9L390,225.8" stroke="#bfec4a" stroke-width="1.5"/><path d="M390,225.8L394,219.2" stroke="#6ef0c8" stroke-width="1.7"/><path d="M394,219.2L398.2,212.4" stroke="#44ceeb" stroke-width="1.9"/><path d="M398.2,212.4L402.4,205.8" stroke="#2f86ef" stroke-width="2.0"/><path d="M402.4,205.8L406.4,199.9" stroke="#2358ee" stroke-width="2.2"/><path d="M406.4,199.9L410,195" stroke="#2252ee" stroke-width="2.2"/><path d="M410,195L413.3,191" stroke="#214eee" stroke-width="2.2"/><path d="M413.3,191L416.4,187.6" stroke="#214bee" stroke-width="2.2"/><path d="M416.4,187.6L419.4,184.5" stroke="#2049ed" stroke-width="2.2"/><path d="M419.4,184.5L422.4,181.8" stroke="#2048ed" stroke-width="2.2"/><path d="M422.4,181.8L425.3,179.4" stroke="#2047ed" stroke-width="2.2"/><path d="M425.3,179.4L428.3,177.2" stroke="#2047ed" stroke-width="2.2"/><path d="M428.3,177.2L431.3,175.3" stroke="#2048ed" stroke-width="2.2"/><path d="M431.3,175.3L434.4,173.5" stroke="#2049ed" stroke-width="2.2"/><path d="M434.4,173.5L437.6,171.9" stroke="#204aed" stroke-width="2.2"/><path d="M437.6,171.9L440.8,170.4" stroke="#214cee" stroke-width="2.2"/><path d="M440.8,170.4L444,169.1" stroke="#214eee" stroke-width="2.2"/><path d="M444,169.1L447.2,168.1" stroke="#2250ee" stroke-width="2.2"/><path d="M447.2,168.1L450.5,167.4" stroke="#2253ee" stroke-width="2.2"/><path d="M450.5,167.4L453.8,167.1" stroke="#2355ee" stroke-width="2.2"/><path d="M453.8,167.1L457.2,167.1" stroke="#2358ee" stroke-width="2.2"/><path d="M457.2,167.1L460.7,167.6" stroke="#255fef" stroke-width="2.2"/><path d="M460.7,167.6L464.5,168.8" stroke="#276bf0" stroke-width="2.1"/><path d="M464.5,168.8L468.6,170.8" stroke="#2f88ef" stroke-width="1.9"/><path d="M468.6,170.8L473,173.3" stroke="#3cb3ed" stroke-width="1.8"/><path d="M473,173.3L477.3,176" stroke="#50dde2" stroke-width="1.6"/><path d="M477.3,176L481.4,178.9" stroke="#78efb9" stroke-width="1.4"/><path d="M481.4,178.9L485.1,181.5" stroke="#b8ec56" stroke-width="1.3"/><path d="M485.1,181.5L488.3,183.7" stroke="#ddd831" stroke-width="1.2"/><path d="M488.3,183.7L490.6,185.2" stroke="#f0ba26" stroke-width="1.0"/><path d="M392,253.8L394.5,250.7" stroke="#ef751e" stroke-width="1.1"/><path d="M394.5,250.7L397.9,246.4" stroke="#e7d02c" stroke-width="1.4"/><path d="M397.9,246.4L402,241.3" stroke="#b2ec5f" stroke-width="1.6"/><path d="M402,241.3L406.4,235.7" stroke="#64ead1" stroke-width="1.9"/><path d="M406.4,235.7L411.2,230" stroke="#3db8ec" stroke-width="2.1"/><path d="M411.2,230L416,224.4" stroke="#286cf0" stroke-width="2.3"/><path d="M416,224.4L420.7,219.3" stroke="#1f45ed" stroke-width="2.5"/><path d="M420.7,219.3L425,215" stroke="#1926e5" stroke-width="2.6"/><path d="M425,215L429,211.4" stroke="#1c1dc9" stroke-width="2.7"/><path d="M429,211.4L433,207.9" stroke="#1c1cc4" stroke-width="2.7"/><path d="M433,207.9L436.9,204.7" stroke="#1c1bbf" stroke-width="2.7"/><path d="M436.9,204.7L440.8,201.8" stroke="#1d19bc" stroke-width="2.7"/><path d="M440.8,201.8L444.8,199.3" stroke="#1d19b9" stroke-width="2.7"/><path d="M444.8,199.3L448.9,197.1" stroke="#1d18b7" stroke-width="2.7"/><path d="M448.9,197.1L453.3,195.3" stroke="#1d17b5" stroke-width="2.7"/><path d="M453.3,195.3L457.8,193.9" stroke="#1d17b5" stroke-width="2.7"/><path d="M457.8,193.9L462.7,193" stroke="#1d17b5" stroke-width="2.7"/><path d="M462.7,193L467.9,192.6" stroke="#1d18b7" stroke-width="2.7"/><path d="M467.9,192.6L473.2,192.7" stroke="#1d19b9" stroke-width="2.7"/><path d="M473.2,192.7L478.8,193" stroke="#1d1abd" stroke-width="2.7"/><path d="M478.8,193L484.3,193.7" stroke="#1c1bc1" stroke-width="2.7"/><path d="M484.3,193.7L489.7,194.7" stroke="#1c1dc6" stroke-width="2.7"/><path d="M489.7,194.7L495,195.8" stroke="#1b1ecb" stroke-width="2.7"/><path d="M495,195.8L500,197" stroke="#1a23da" stroke-width="2.7"/><path d="M500,197L505,198.6" stroke="#1a2eeb" stroke-width="2.4"/><path d="M505,198.6L510.1,200.8" stroke="#2047ed" stroke-width="2.2"/><path d="M510.1,200.8L515.3,203.2" stroke="#2666ef" stroke-width="2.0"/><path d="M515.3,203.2L520.2,205.9" stroke="#37a2ee" stroke-width="1.8"/><path d="M520.2,205.9L524.9,208.5" stroke="#51dee2" stroke-width="1.6"/><path d="M524.9,208.5L529,210.9" stroke="#84efa6" stroke-width="1.4"/><path d="M529,210.9L532.5,213" stroke="#c8eb3c" stroke-width="1.2"/><path d="M532.5,213L535.2,214.4" stroke="#e4d32e" stroke-width="1.1"/><path d="M373,271.4L377.3,266.3" stroke="#f07c1e" stroke-width="1.1"/><path d="M377.3,266.3L383.2,259" stroke="#e1d630" stroke-width="1.4"/><path d="M383.2,259L390.2,250.4" stroke="#9aee83" stroke-width="1.7"/><path d="M390.2,250.4L397.9,241" stroke="#51dee1" stroke-width="1.9"/><path d="M397.9,241L405.9,231.5" stroke="#3290ee" stroke-width="2.2"/><path d="M405.9,231.5L413.7,222.8" stroke="#2254ee" stroke-width="2.4"/><path d="M413.7,222.8L420.9,215.4" stroke="#1a2deb" stroke-width="2.6"/><path d="M420.9,215.4L427,210" stroke="#1c1eca" stroke-width="2.7"/><path d="M427,210L432,206.6" stroke="#1c1cc5" stroke-width="2.7"/><path d="M432,206.6L436.2,204.3" stroke="#1c1bc2" stroke-width="2.7"/><path d="M436.2,204.3L439.9,203.1" stroke="#1c1bc0" stroke-width="2.7"/><path d="M439.9,203.1L443.4,202.8" stroke="#1c1abe" stroke-width="2.7"/><path d="M443.4,202.8L446.9,203" stroke="#1d1abc" stroke-width="2.7"/><path d="M446.9,203L450.8,203.7" stroke="#1d19ba" stroke-width="2.7"/><path d="M450.8,203.7L455.3,204.6" stroke="#1d19b9" stroke-width="2.7"/><path d="M455.3,204.6L460.7,205.6" stroke="#1d18b7" stroke-width="2.7"/><path d="M460.7,205.6L467.3,206.8" stroke="#1d18b6" stroke-width="2.7"/><path d="M467.3,206.8L474.9,208.4" stroke="#1d17b5" stroke-width="2.7"/><path d="M474.9,208.4L483.2,210.5" stroke="#1d17b5" stroke-width="2.7"/><path d="M483.2,210.5L491.8,212.9" stroke="#1d18b7" stroke-width="2.7"/><path d="M491.8,212.9L500.4,215.6" stroke="#1d19ba" stroke-width="2.7"/><path d="M500.4,215.6L508.5,218.5" stroke="#1c1abe" stroke-width="2.7"/><path d="M508.5,218.5L515.8,221.5" stroke="#1c1bc2" stroke-width="2.7"/><path d="M515.8,221.5L522,224.6" stroke="#1c1dc7" stroke-width="2.7"/><path d="M522,224.6L527,227.9" stroke="#1b1ecb" stroke-width="2.7"/><path d="M527,227.9L531.2,231.4" stroke="#1b21d4" stroke-width="2.7"/><path d="M531.2,231.4L534.8,235.2" stroke="#1a26e4" stroke-width="2.6"/><path d="M534.8,235.2L537.8,239.1" stroke="#1b32ec" stroke-width="2.5"/><path d="M537.8,239.1L540.5,243.2" stroke="#1f43ed" stroke-width="2.3"/><path d="M540.5,243.2L543,247.2" stroke="#2356ee" stroke-width="2.2"/><path d="M543,247.2L545.5,251.2" stroke="#276bf0" stroke-width="2.1"/><path d="M545.5,251.2L548,255" stroke="#3292ee" stroke-width="2.0"/><path d="M548,255L550.6,258.9" stroke="#3fbeec" stroke-width="1.8"/><path d="M550.6,258.9L553.2,263.1" stroke="#54e0df" stroke-width="1.7"/><path d="M553.2,263.1L555.6,267.4" stroke="#75f0bd" stroke-width="1.6"/><path d="M555.6,267.4L557.8,271.6" stroke="#aded67" stroke-width="1.4"/><path d="M557.8,271.6L559.9,275.6" stroke="#d6df35" stroke-width="1.3"/><path d="M559.9,275.6L561.7,279.2" stroke="#efc928" stroke-width="1.2"/><path d="M561.7,279.2L563.2,282.2" stroke="#f09221" stroke-width="1.1"/><path d="M563.2,282.2L564.4,284.5" stroke="#ea641d" stroke-width="1.0"/><path d="M346.1,292.2L347.2,289.2" stroke="#e85e1c" stroke-width="1.0"/><path d="M347.2,289.2L348.6,284.9" stroke="#f0a624" stroke-width="1.2"/><path d="M348.6,284.9L350.3,279.8" stroke="#e1d530" stroke-width="1.4"/><path d="M350.3,279.8L352.2,274.3" stroke="#bfeb4a" stroke-width="1.6"/><path d="M352.2,274.3L354.2,268.7" stroke="#86efa2" stroke-width="1.7"/><path d="M354.2,268.7L356.2,263.3" stroke="#5ee6d6" stroke-width="1.9"/><path d="M356.2,263.3L358.2,258.6" stroke="#45d4eb" stroke-width="2.0"/><path d="M358.2,258.6L360,255" stroke="#3bafed" stroke-width="2.1"/><path d="M360,255L361.6,252.2" stroke="#3393ee" stroke-width="2.2"/><path d="M361.6,252.2L362.9,249.9" stroke="#2c7def" stroke-width="2.2"/><path d="M362.9,249.9L364.1,248" stroke="#286cf0" stroke-width="2.3"/><path d="M364.1,248L365.4,246.5" stroke="#2664ef" stroke-width="2.3"/><path d="M365.4,246.5L366.8,245.4" stroke="#245cef" stroke-width="2.4"/><path d="M366.8,245.4L368.6,244.7" stroke="#2355ee" stroke-width="2.4"/><path d="M368.6,244.7L370.8,244.2" stroke="#214cee" stroke-width="2.4"/><path d="M370.8,244.2L373.6,244.1" stroke="#1f43ed" stroke-width="2.5"/><path d="M373.6,244.1L377.1,244.3" stroke="#1c36ec" stroke-width="2.5"/><path d="M377.1,244.3L381.3,244.9" stroke="#1928eb" stroke-width="2.6"/><path d="M381.3,244.9L386,245.9" stroke="#1b21d3" stroke-width="2.7"/><path d="M386,245.9L391,247.2" stroke="#1c1dc8" stroke-width="2.7"/><path d="M391,247.2L396.1,248.8" stroke="#1c1cc5" stroke-width="2.7"/><path d="M396.1,248.8L401.1,250.6" stroke="#1c1bc1" stroke-width="2.7"/><path d="M401.1,250.6L405.8,252.7" stroke="#1c1abe" stroke-width="2.7"/><path d="M405.8,252.7L410,255" stroke="#1d19bc" stroke-width="2.7"/><path d="M410,255L413.8,257.5" stroke="#1d19b9" stroke-width="2.7"/><path d="M413.8,257.5L417.3,260.1" stroke="#1d18b8" stroke-width="2.7"/><path d="M417.3,260.1L420.6,263" stroke="#1d18b6" stroke-width="2.7"/><path d="M420.6,263L423.8,266.1" stroke="#1d18b5" stroke-width="2.7"/><path d="M423.8,266.1L426.9,269.6" stroke="#1d17b5" stroke-width="2.7"/><path d="M426.9,269.6L430,273.3" stroke="#1d17b5" stroke-width="2.7"/><path d="M430,273.3L433,277.4" stroke="#1d17b5" stroke-width="2.7"/><path d="M433,277.4L436.1,281.9" stroke="#1d18b6" stroke-width="2.7"/><path d="M436.1,281.9L439.3,286.9" stroke="#1d18b8" stroke-width="2.7"/><path d="M439.3,286.9L442.4,292.5" stroke="#1d19bb" stroke-width="2.7"/><path d="M442.4,292.5L445.6,298.6" stroke="#1c1abe" stroke-width="2.7"/><path d="M445.6,298.6L448.7,304.9" stroke="#1c1cc3" stroke-width="2.7"/><path d="M448.7,304.9L451.8,311.3" stroke="#1c1dc7" stroke-width="2.7"/><path d="M451.8,311.3L454.7,317.8" stroke="#1b1fcd" stroke-width="2.7"/><path d="M454.7,317.8L457.4,324" stroke="#1a24de" stroke-width="2.6"/><path d="M457.4,324L460,330" stroke="#1b33ec" stroke-width="2.4"/><path d="M460,330L462.4,336" stroke="#214bee" stroke-width="2.3"/><path d="M462.4,336L464.8,342.3" stroke="#2769f0" stroke-width="2.1"/><path d="M464.8,342.3L467,348.7" stroke="#38a4ed" stroke-width="1.9"/><path d="M467,348.7L469.1,355" stroke="#51dee1" stroke-width="1.7"/><path d="M469.1,355L471.1,360.9" stroke="#85efa4" stroke-width="1.5"/><path d="M471.1,360.9L472.8,366.2" stroke="#cae93b" stroke-width="1.3"/><path d="M472.8,366.2L474.2,370.6" stroke="#eacd2b" stroke-width="1.2"/><path d="M474.2,370.6L475.3,374" stroke="#f09522" stroke-width="1.1"/><path d="M326.1,310L326.4,309" stroke="#e24d1b" stroke-width="0.9"/><path d="M326.4,309L326.8,307.6" stroke="#f07e1f" stroke-width="1.1"/><path d="M326.8,307.6L327.2,306" stroke="#f0af25" stroke-width="1.2"/><path d="M327.2,306L327.7,304.2" stroke="#e6d02d" stroke-width="1.4"/><path d="M327.7,304.2L328.3,302.4" stroke="#d4e136" stroke-width="1.5"/><path d="M328.3,302.4L328.8,300.6" stroke="#bdec4d" stroke-width="1.6"/><path d="M328.8,300.6L329.4,299.2" stroke="#9eed7d" stroke-width="1.7"/><path d="M329.4,299.2L330,298" stroke="#86efa3" stroke-width="1.7"/><path d="M330,298L330.6,296.9" stroke="#71f0c4" stroke-width="1.8"/><path d="M330.6,296.9L331.2,295.7" stroke="#64ead1" stroke-width="1.9"/><path d="M331.2,295.7L331.8,294.5" stroke="#58e2dc" stroke-width="1.9"/><path d="M331.8,294.5L332.5,293.6" stroke="#4cdbe5" stroke-width="2.0"/><path d="M332.5,293.6L333.1,292.9" stroke="#45d2eb" stroke-width="2.0"/><path d="M333.1,292.9L333.8,292.9" stroke="#41c7ec" stroke-width="2.0"/><path d="M333.8,292.9L334.5,293.5" stroke="#3ebbec" stroke-width="2.1"/><path d="M334.5,293.5L335.1,295" stroke="#39a9ed" stroke-width="2.1"/><path d="M335.1,295L335.7,297.5" stroke="#308bef" stroke-width="2.2"/><path d="M335.7,297.5L336.2,300.7" stroke="#2768f0" stroke-width="2.3"/><path d="M336.2,300.7L336.8,304.7" stroke="#214dee" stroke-width="2.4"/><path d="M336.8,304.7L337.3,309.2" stroke="#1a2feb" stroke-width="2.6"/><path d="M337.3,309.2L337.9,314.1" stroke="#1c1eca" stroke-width="2.7"/><path d="M337.9,314.1L338.5,319.3" stroke="#1c1cc4" stroke-width="2.7"/><path d="M338.5,319.3L339.2,324.7" stroke="#1c1abe" stroke-width="2.7"/><path d="M339.2,324.7L340,330" stroke="#1d19b9" stroke-width="2.7"/><path d="M340,330L341,335.7" stroke="#1d18b6" stroke-width="2.7"/><path d="M341,335.7L342.1,342" stroke="#1d17b5" stroke-width="2.7"/><path d="M342.1,342L343.3,348.8" stroke="#1d18b7" stroke-width="2.7"/><path d="M343.3,348.8L344.6,355.7" stroke="#1d1abc" stroke-width="2.7"/><path d="M344.6,355.7L345.9,362.4" stroke="#1c1cc4" stroke-width="2.7"/><path d="M345.9,362.4L347,368.8" stroke="#1b1ecc" stroke-width="2.7"/><path d="M347,368.8L348,374.6" stroke="#1928ea" stroke-width="2.5"/><path d="M348,374.6L348.8,379.5" stroke="#2048ed" stroke-width="2.2"/><path d="M348.8,379.5L349.3,383.6" stroke="#276af0" stroke-width="2.0"/><path d="M349.3,383.6L349.7,387.2" stroke="#37a4ed" stroke-width="1.8"/><path d="M349.7,387.2L349.9,390.2" stroke="#4bdae7" stroke-width="1.6"/><path d="M349.9,390.2L350.1,392.9" stroke="#6aedcc" stroke-width="1.5"/><path d="M350.1,392.9L350.1,395.2" stroke="#97ee88" stroke-width="1.3"/><path d="M350.1,395.2L350.1,397.1" stroke="#c3eb44" stroke-width="1.2"/><path d="M350.1,397.1L350.1,398.7" stroke="#d8dd34" stroke-width="1.1"/><path d="M350.1,398.7L350.2,400.1" stroke="#e8cf2c" stroke-width="1.0"/><path d="M360.5,309.4L361.7,308.2" stroke="#e4511c" stroke-width="0.9"/><path d="M361.7,308.2L363.4,306.5" stroke="#f08820" stroke-width="1.1"/><path d="M363.4,306.5L365.3,304.4" stroke="#f0bf27" stroke-width="1.2"/><path d="M365.3,304.4L367.4,302.1" stroke="#ded831" stroke-width="1.3"/><path d="M367.4,302.1L369.7,299.9" stroke="#c9ea3c" stroke-width="1.5"/><path d="M369.7,299.9L372.2,298" stroke="#a2ed77" stroke-width="1.6"/><path d="M372.2,298L374.6,296.5" stroke="#7eefaf" stroke-width="1.7"/><path d="M374.6,296.5L377,295.6" stroke="#65ebcf" stroke-width="1.7"/><path d="M377,295.6L379.4,295.2" stroke="#56e1dd" stroke-width="1.8"/><path d="M379.4,295.2L381.9,295" stroke="#47d7ea" stroke-width="1.9"/><path d="M381.9,295L384.4,295.1" stroke="#3fbeec" stroke-width="1.9"/><path d="M384.4,295.1L387,295.5" stroke="#37a4ed" stroke-width="2.0"/><path d="M387,295.5L389.7,296.3" stroke="#3089ef" stroke-width="2.0"/><path d="M389.7,296.3L392.5,297.5" stroke="#286df0" stroke-width="2.1"/><path d="M392.5,297.5L395.3,299.4" stroke="#245cef" stroke-width="2.2"/><path d="M395.3,299.4L398.3,301.8" stroke="#2355ee" stroke-width="2.2"/><path d="M398.3,301.8L401.5,305" stroke="#2251ee" stroke-width="2.2"/><path d="M401.5,305L404.9,309" stroke="#214dee" stroke-width="2.2"/><path d="M404.9,309L408.4,313.7" stroke="#204aed" stroke-width="2.2"/><path d="M408.4,313.7L412.1,318.7" stroke="#2048ed" stroke-width="2.2"/><path d="M412.1,318.7L415.6,324.1" stroke="#2047ed" stroke-width="2.2"/><path d="M415.6,324.1L419,329.5" stroke="#2048ed" stroke-width="2.2"/><path d="M419,329.5L422.2,334.9" stroke="#214bee" stroke-width="2.2"/><path d="M422.2,334.9L425,340" stroke="#2150ee" stroke-width="2.2"/><path d="M425,340L427.5,345.3" stroke="#2354ee" stroke-width="2.2"/><path d="M427.5,345.3L429.8,351" stroke="#245cef" stroke-width="2.2"/><path d="M429.8,351L432,356.9" stroke="#2b77f0" stroke-width="2.0"/><path d="M432,356.9L434,362.8" stroke="#3db6ed" stroke-width="1.8"/><path d="M434,362.8L435.7,368.4" stroke="#60e7d4" stroke-width="1.6"/><path d="M435.7,368.4L437.3,373.5" stroke="#a9ed6d" stroke-width="1.4"/><path d="M437.3,373.5L438.6,377.7" stroke="#e0d630" stroke-width="1.2"/><path d="M438.6,377.7L439.6,380.9" stroke="#f09d23" stroke-width="1.1"/><path d="M386,290.1L389,287.9" stroke="#ed6e1d" stroke-width="1.0"/><path d="M389,287.9L393,284.8" stroke="#efc929" stroke-width="1.3"/><path d="M393,284.8L397.9,281.1" stroke="#c8eb3c" stroke-width="1.6"/><path d="M397.9,281.1L403.2,277.1" stroke="#7befb4" stroke-width="1.8"/><path d="M403.2,277.1L408.7,273" stroke="#4bdae7" stroke-width="2.0"/><path d="M408.7,273L414.2,269.3" stroke="#359cee" stroke-width="2.2"/><path d="M414.2,269.3L419.3,266.2" stroke="#2666ef" stroke-width="2.3"/><path d="M419.3,266.2L423.7,264" stroke="#204bed" stroke-width="2.4"/><path d="M423.7,264L427.4,262.6" stroke="#1c35ec" stroke-width="2.5"/><path d="M427.4,262.6L430.6,261.6" stroke="#1926e5" stroke-width="2.6"/><path d="M430.6,261.6L433.5,260.9" stroke="#1b20d0" stroke-width="2.7"/><path d="M433.5,260.9L436.3,260.7" stroke="#1c1dc9" stroke-width="2.7"/><path d="M436.3,260.7L439.2,260.9" stroke="#1c1dc6" stroke-width="2.7"/><path d="M439.2,260.9L442.3,261.6" stroke="#1c1cc4" stroke-width="2.7"/><path d="M442.3,261.6L445.8,262.6" stroke="#1c1bc1" stroke-width="2.7"/><path d="M445.8,262.6L449.9,264" stroke="#1c1abe" stroke-width="2.7"/><path d="M449.9,264L454.8,265.9" stroke="#1d19bb" stroke-width="2.7"/><path d="M454.8,265.9L460.3,268.4" stroke="#1d18b8" stroke-width="2.7"/><path d="M460.3,268.4L466.2,271.4" stroke="#1d18b6" stroke-width="2.7"/><path d="M466.2,271.4L472.4,274.7" stroke="#1d17b5" stroke-width="2.7"/><path d="M472.4,274.7L478.5,278.3" stroke="#1d18b6" stroke-width="2.7"/><path d="M478.5,278.3L484.5,282.1" stroke="#1d18b8" stroke-width="2.7"/><path d="M484.5,282.1L490.1,286" stroke="#1d1abc" stroke-width="2.7"/><path d="M490.1,286L495,290" stroke="#1c1bc1" stroke-width="2.7"/><path d="M495,290L499.5,294.3" stroke="#1c1dc6" stroke-width="2.7"/><path d="M499.5,294.3L503.7,299.1" stroke="#1b1ecc" stroke-width="2.7"/><path d="M503.7,299.1L507.7,304.2" stroke="#1a25e1" stroke-width="2.6"/><path d="M507.7,304.2L511.4,309.4" stroke="#1d3cec" stroke-width="2.4"/><path d="M511.4,309.4L514.7,314.6" stroke="#255fef" stroke-width="2.2"/><path d="M514.7,314.6L517.8,319.4" stroke="#3498ee" stroke-width="1.9"/><path d="M517.8,319.4L520.4,323.7" stroke="#4cdbe6" stroke-width="1.7"/><path d="M520.4,323.7L522.7,327.2" stroke="#77f0ba" stroke-width="1.6"/><path d="M522.7,327.2L524.4,330" stroke="#b2ec5e" stroke-width="1.4"/><path d="M524.4,330L525.6,332.3" stroke="#d5df35" stroke-width="1.3"/><path d="M525.6,332.3L526.4,334.2" stroke="#e8cf2c" stroke-width="1.2"/><path d="M526.4,334.2L526.9,335.7" stroke="#f0b526" stroke-width="1.2"/><path d="M526.9,335.7L527.1,336.9" stroke="#f09822" stroke-width="1.1"/><path d="M527.1,336.9L527.3,338" stroke="#f0801f" stroke-width="1.1"/><path d="M527.3,338L527.4,338.8" stroke="#ec6b1d" stroke-width="1.0"/><path d="M527.4,338.8L527.6,339.6" stroke="#e6591c" stroke-width="1.0"/></g><path d="M308.4,147L315.2,158.5L303.3,159.4Z" fill="#1c1cc5"/><circle cx="303.4" cy="106.5" r="5.2" fill="#1a25e0"/><path d="M299.7,144.4L293.2,127L308.2,127.9Z" fill="#d72819"/><path d="M244.9,150.4L256.7,156.8L246.8,163.7Z" fill="#1b21d5"/><circle cx="208.5" cy="144.2" r="5.2" fill="#6ef0c8"/><path d="M229.3,170.1L241.4,175.8L232,183.2Z" fill="#1c1cc5"/><path d="M151.8,149.8L161.9,141L164.9,152.6Z" fill="#1b21d5"/><path d="M190.7,169.2L204.1,169.4L198.6,180.1Z" fill="#2047ed"/><path d="M163.3,189.1L176.7,188.6L171.8,199.5Z" fill="#1c34ec"/><path d="M220,218.5L233.1,221.5L225.4,230.8Z" fill="#1c1eca"/><path d="M127.6,241.1L133.9,229.2L140.9,239Z" fill="#1c1bc0"/><path d="M160,213.9L172,207.9L172,219.9Z" fill="#1a25e0"/><path d="M83.7,245.9L91.2,228.9L101.3,240Z" fill="#9eed7d"/><path d="M212.3,274.3L221.9,264.9L225.6,276.4Z" fill="#1b21d5"/><path d="M154.3,339.6L155,321L168.5,327.6Z" fill="#46d7eb"/><circle cx="287.8" cy="253.2" r="5.2" fill="#1d17b5"/><path d="M256.9,310.8L254.3,297.7L265.8,300.8Z" fill="#1c1cc5"/><path d="M367.2,144.5L368.4,157.9L357.2,153.5Z" fill="#1b21d5"/><circle cx="395" cy="138.4" r="5.2" fill="#6ef0c8"/><path d="M390.6,165.4L389.7,178.8L379.4,172.7Z" fill="#1c1cc5"/><path d="M462.2,138L449.4,142L451.3,130.1Z" fill="#1c1cc5"/><path d="M499.9,183.5L486.2,171L500,165Z" fill="#f0781e"/><path d="M439.7,170.6L432,181.6L426.3,171.1Z" fill="#2047ed"/><path d="M463.6,192.5L453.3,201.1L450.6,189.4Z" fill="#1b21d5"/><path d="M537.8,215.9L519.3,214.1L526.7,201Z" fill="#d5df35"/><path d="M431.6,206.2L426.2,218.4L418.6,209.2Z" fill="#1c1cc5"/><path d="M527.2,227.6L513.8,226.8L519.8,216.4Z" fill="#1c1cc5"/><path d="M379.6,244.2L367.5,250L367.7,238Z" fill="#1c1cc5"/><path d="M439.4,286.9L427.8,280.1L437.9,273.6Z" fill="#1d19ba"/><path d="M476.2,376.9L463.8,363L478.1,358.4Z" fill="#de401a"/><circle cx="335.1" cy="295" r="5.2" fill="#1c1cc5"/><path d="M349.2,382.5L339.4,366.7L354.2,364.6Z" fill="#6ef0c8"/><path d="M402.7,305.9L389.8,302.1L398,293.3Z" fill="#2047ed"/><path d="M455.5,266.1L442.2,267.5L446.4,256.3Z" fill="#1b21d5"/><path d="M524.3,329.8L509,319.1L521.9,311.3Z" fill="#f0c828"/>
<path d="M727.3,292.9 A255.7,199.4 0 0 1 1238.7,292.9 L1237.2,292.9 A254.2,134.8 0 0 1 728.8,292.9 Z" fill="url(#domeg1)" filter="url(#soft)"/>
<g clip-path="url(#dclip1)"><rect x="725.8" y="90.5" width="514.4" height="340.2" fill="#fff" filter="url(#marb1)" opacity="0.55"/></g>
<ellipse cx="983" cy="292.9" rx="254.2" ry="134.8" fill="url(#base1)"/>
<g clip-path="url(#bclip1)"><rect x="725.8" y="90.5" width="514.4" height="340.2" fill="#fff" filter="url(#marb1)" opacity="0.22" transform="translate(0,0)"/></g>
<g fill="none" stroke-linecap="round"><path d="M940.8,238.4L939.6,233.1" stroke="#f0811f" stroke-width="1.1"/><path d="M939.6,233.1L938.1,225.9" stroke="#dcd932" stroke-width="1.4"/><path d="M938.1,225.9L936.2,217.2" stroke="#8cee99" stroke-width="1.7"/><path d="M936.2,217.2L934.1,207.7" stroke="#46d7eb" stroke-width="2.0"/><path d="M934.1,207.7L931.9,198" stroke="#2b79ef" stroke-width="2.2"/><path d="M931.9,198L929.6,188.6" stroke="#1f44ed" stroke-width="2.5"/><path d="M929.6,188.6L927.4,180.2" stroke="#1b22d7" stroke-width="2.7"/><path d="M927.4,180.2L925.2,173.4" stroke="#1c1cc5" stroke-width="2.7"/><path d="M925.2,173.4L923.1,168" stroke="#1c1bc0" stroke-width="2.7"/><path d="M923.1,168L921.2,163.3" stroke="#1d1abc" stroke-width="2.7"/><path d="M921.2,163.3L919.2,159.2" stroke="#1d19ba" stroke-width="2.7"/><path d="M919.2,159.2L917.2,155.7" stroke="#1d18b8" stroke-width="2.7"/><path d="M917.2,155.7L915,152.6" stroke="#1d18b6" stroke-width="2.7"/><path d="M915,152.6L912.6,149.8" stroke="#1d17b5" stroke-width="2.7"/><path d="M912.6,149.8L910,147.3" stroke="#1d17b5" stroke-width="2.7"/><path d="M910,147.3L907,144.8" stroke="#1d17b5" stroke-width="2.7"/><path d="M907,144.8L903.6,142.5" stroke="#1d18b5" stroke-width="2.7"/><path d="M903.6,142.5L899.6,140.4" stroke="#1d18b7" stroke-width="2.7"/><path d="M899.6,140.4L895.4,138.5" stroke="#1d18b8" stroke-width="2.7"/><path d="M895.4,138.5L891,137" stroke="#1d19bb" stroke-width="2.7"/><path d="M891,137L886.6,135.8" stroke="#1c1abe" stroke-width="2.7"/><path d="M886.6,135.8L882.2,134.9" stroke="#1c1bc1" stroke-width="2.7"/><path d="M882.2,134.9L878.2,134.5" stroke="#1c1cc4" stroke-width="2.7"/><path d="M878.2,134.5L874.5,134.4" stroke="#1c1dc8" stroke-width="2.7"/><path d="M874.5,134.4L871.2,134.8" stroke="#1b1ecb" stroke-width="2.7"/><path d="M871.2,134.8L868,135.7" stroke="#1b1fcf" stroke-width="2.7"/><path d="M868,135.7L865,137" stroke="#1b22d7" stroke-width="2.7"/><path d="M865,137L862.1,138.6" stroke="#1a25e2" stroke-width="2.5"/><path d="M862.1,138.6L859.5,140.5" stroke="#1a2ceb" stroke-width="2.4"/><path d="M859.5,140.5L856.9,142.7" stroke="#1c37ec" stroke-width="2.3"/><path d="M856.9,142.7L854.6,145" stroke="#1f44ed" stroke-width="2.2"/><path d="M854.6,145L852.4,147.4" stroke="#2252ee" stroke-width="2.1"/><path d="M852.4,147.4L850.4,150.2" stroke="#2562ef" stroke-width="2.0"/><path d="M850.4,150.2L848.5,153.6" stroke="#2b7aef" stroke-width="1.8"/><path d="M848.5,153.6L846.7,157.3" stroke="#37a2ee" stroke-width="1.7"/><path d="M846.7,157.3L845.2,161.2" stroke="#43ceeb" stroke-width="1.5"/><path d="M845.2,161.2L843.8,165" stroke="#5be4d8" stroke-width="1.4"/><path d="M843.8,165L842.6,168.4" stroke="#7befb4" stroke-width="1.3"/><path d="M842.6,168.4L841.5,171.3" stroke="#a5ed73" stroke-width="1.1"/><path d="M841.5,171.3L840.7,173.4" stroke="#c7eb3e" stroke-width="1.0"/><path d="M952.5,254L950.1,249.2" stroke="#f0811f" stroke-width="1.1"/><path d="M950.1,249.2L946.8,242.5" stroke="#dcda32" stroke-width="1.4"/><path d="M946.8,242.5L942.8,234.5" stroke="#8bee9b" stroke-width="1.6"/><path d="M942.8,234.5L938.5,225.7" stroke="#45d5eb" stroke-width="1.9"/><path d="M938.5,225.7L934.1,216.8" stroke="#2a76f0" stroke-width="2.1"/><path d="M934.1,216.8L929.8,208.2" stroke="#2253ee" stroke-width="2.2"/><path d="M929.8,208.2L925.9,200.5" stroke="#214cee" stroke-width="2.2"/><path d="M925.9,200.5L922.6,194.2" stroke="#2049ed" stroke-width="2.2"/><path d="M922.6,194.2L920,189.2" stroke="#2047ed" stroke-width="2.2"/><path d="M920,189.2L917.8,185" stroke="#2047ed" stroke-width="2.2"/><path d="M917.8,185L915.9,181.3" stroke="#2048ed" stroke-width="2.2"/><path d="M915.9,181.3L914.2,178.1" stroke="#204aed" stroke-width="2.2"/><path d="M914.2,178.1L912.6,175.3" stroke="#214cee" stroke-width="2.2"/><path d="M912.6,175.3L910.9,172.8" stroke="#214eee" stroke-width="2.2"/><path d="M910.9,172.8L909.1,170.5" stroke="#2250ee" stroke-width="2.2"/><path d="M909.1,170.5L907,168.2" stroke="#2252ee" stroke-width="2.2"/><path d="M907,168.2L904.6,166" stroke="#2355ee" stroke-width="2.2"/><path d="M904.6,166L902,164" stroke="#2357ee" stroke-width="2.2"/><path d="M902,164L899.4,162.2" stroke="#245aef" stroke-width="2.2"/><path d="M899.4,162.2L896.6,160.7" stroke="#255eef" stroke-width="2.1"/><path d="M896.6,160.7L893.8,159.5" stroke="#2663ef" stroke-width="2.0"/><path d="M893.8,159.5L891.2,158.6" stroke="#2769f0" stroke-width="1.9"/><path d="M891.2,158.6L888.6,158" stroke="#2971f0" stroke-width="1.8"/><path d="M888.6,158L886.2,157.8" stroke="#2c7def" stroke-width="1.7"/><path d="M886.2,157.8L883.9,158.2" stroke="#3089ef" stroke-width="1.6"/><path d="M883.9,158.2L881.6,159.2" stroke="#3395ee" stroke-width="1.5"/><path d="M881.6,159.2L879.3,160.6" stroke="#38a4ed" stroke-width="1.4"/><path d="M879.3,160.6L877.1,162.4" stroke="#3cb5ed" stroke-width="1.3"/><path d="M877.1,162.4L875.1,164.1" stroke="#41c6ec" stroke-width="1.3"/><path d="M875.1,164.1L873.3,165.8" stroke="#46d7eb" stroke-width="1.2"/><path d="M873.3,165.8L871.8,167.3" stroke="#4fdde3" stroke-width="1.1"/><path d="M871.8,167.3L870.6,168.2" stroke="#57e2dc" stroke-width="1.0"/><path d="M973.3,246.2L972.9,242" stroke="#f08720" stroke-width="1.1"/><path d="M972.9,242L972.3,236.3" stroke="#d6df35" stroke-width="1.5"/><path d="M972.3,236.3L971.7,229.5" stroke="#78efb9" stroke-width="1.8"/><path d="M971.7,229.5L970.9,222" stroke="#3ebcec" stroke-width="2.1"/><path d="M970.9,222L970.2,214.3" stroke="#2560ef" stroke-width="2.3"/><path d="M970.2,214.3L969.4,206.8" stroke="#1a2ceb" stroke-width="2.6"/><path d="M969.4,206.8L968.7,199.9" stroke="#1c1dc7" stroke-width="2.7"/><path d="M968.7,199.9L968.1,194.2" stroke="#1c1bc0" stroke-width="2.7"/><path d="M968.1,194.2L967.6,189.5" stroke="#1d19bb" stroke-width="2.7"/><path d="M967.6,189.5L967.1,185.4" stroke="#1d18b8" stroke-width="2.7"/><path d="M967.1,185.4L966.7,181.7" stroke="#1d18b6" stroke-width="2.7"/><path d="M966.7,181.7L966.3,178.4" stroke="#1d17b5" stroke-width="2.7"/><path d="M966.3,178.4L965.9,175.2" stroke="#1d17b5" stroke-width="2.7"/><path d="M965.9,175.2L965.4,172.1" stroke="#1d18b6" stroke-width="2.7"/><path d="M965.4,172.1L964.9,169" stroke="#1d18b7" stroke-width="2.7"/><path d="M964.9,169L964.2,165.6" stroke="#1d19b9" stroke-width="2.7"/><path d="M964.2,165.6L963.4,161.9" stroke="#1d1abc" stroke-width="2.7"/><path d="M963.4,161.9L962.4,158" stroke="#1c1bc0" stroke-width="2.7"/><path d="M962.4,158L961.4,154.1" stroke="#1c1cc4" stroke-width="2.7"/><path d="M961.4,154.1L960.3,150.2" stroke="#1c1ec9" stroke-width="2.7"/><path d="M960.3,150.2L959.2,146.5" stroke="#1b20d0" stroke-width="2.7"/><path d="M959.2,146.5L958.2,143.2" stroke="#1a25e1" stroke-width="2.6"/><path d="M958.2,143.2L957.2,140.4" stroke="#1b2fec" stroke-width="2.4"/><path d="M957.2,140.4L956.4,138.3" stroke="#1e3ded" stroke-width="2.3"/><path d="M956.4,138.3L955.7,136.9" stroke="#2049ed" stroke-width="2.2"/><path d="M955.7,136.9L955.1,136" stroke="#2252ee" stroke-width="2.1"/><path d="M955.1,136L954.5,135.6" stroke="#2358ee" stroke-width="2.1"/><path d="M954.5,135.6L954,135.5" stroke="#245cef" stroke-width="2.0"/><path d="M954,135.5L953.6,135.9" stroke="#2560ef" stroke-width="2.0"/><path d="M953.6,135.9L953.2,136.5" stroke="#2665ef" stroke-width="2.0"/><path d="M953.2,136.5L952.8,137.3" stroke="#276bf0" stroke-width="1.9"/><path d="M952.8,137.3L952.5,138.3" stroke="#2a76f0" stroke-width="1.9"/><path d="M952.5,138.3L952.2,139.7" stroke="#2f88ef" stroke-width="1.8"/><path d="M952.2,139.7L952,141.7" stroke="#37a2ee" stroke-width="1.7"/><path d="M952,141.7L951.8,144.1" stroke="#41c6ec" stroke-width="1.6"/><path d="M951.8,144.1L951.6,146.8" stroke="#54e0df" stroke-width="1.5"/><path d="M951.6,146.8L951.5,149.4" stroke="#6ff0c7" stroke-width="1.4"/><path d="M951.5,149.4L951.4,151.8" stroke="#9ded7f" stroke-width="1.2"/><path d="M951.4,151.8L951.3,153.8" stroke="#c8eb3c" stroke-width="1.1"/><path d="M951.3,153.8L951.2,155.2" stroke="#d8dd34" stroke-width="1.0"/><path d="M996.7,251.4L997.2,247.5" stroke="#ee711e" stroke-width="1.1"/><path d="M997.2,247.5L997.9,242.1" stroke="#ebcc2a" stroke-width="1.3"/><path d="M997.9,242.1L998.7,235.7" stroke="#beec4c" stroke-width="1.6"/><path d="M998.7,235.7L999.6,228.7" stroke="#6defc9" stroke-width="1.8"/><path d="M999.6,228.7L1000.6,221.4" stroke="#43cdeb" stroke-width="2.0"/><path d="M1000.6,221.4L1001.5,214.2" stroke="#2e84ef" stroke-width="2.2"/><path d="M1001.5,214.2L1002.4,207.6" stroke="#2356ee" stroke-width="2.4"/><path d="M1002.4,207.6L1003.2,202" stroke="#1c38ec" stroke-width="2.5"/><path d="M1003.2,202L1003.9,197.2" stroke="#1a24de" stroke-width="2.6"/><path d="M1003.9,197.2L1004.5,193" stroke="#1c1ec9" stroke-width="2.7"/><path d="M1004.5,193L1005,189.1" stroke="#1c1cc5" stroke-width="2.7"/><path d="M1005,189.1L1005.6,185.4" stroke="#1c1bc2" stroke-width="2.7"/><path d="M1005.6,185.4L1006.1,181.9" stroke="#1c1bbf" stroke-width="2.7"/><path d="M1006.1,181.9L1006.8,178.4" stroke="#1d1abd" stroke-width="2.7"/><path d="M1006.8,178.4L1007.5,174.7" stroke="#1d19ba" stroke-width="2.7"/><path d="M1007.5,174.7L1008.4,170.8" stroke="#1d18b8" stroke-width="2.7"/><path d="M1008.4,170.8L1009.4,166.6" stroke="#1d18b7" stroke-width="2.7"/><path d="M1009.4,166.6L1010.6,162.1" stroke="#1d18b5" stroke-width="2.7"/><path d="M1010.6,162.1L1011.8,157.6" stroke="#1d17b5" stroke-width="2.7"/><path d="M1011.8,157.6L1013.1,153" stroke="#1d17b5" stroke-width="2.7"/><path d="M1013.1,153L1014.5,148.6" stroke="#1d18b6" stroke-width="2.7"/><path d="M1014.5,148.6L1015.9,144.3" stroke="#1d18b8" stroke-width="2.7"/><path d="M1015.9,144.3L1017.3,140.4" stroke="#1d19ba" stroke-width="2.7"/><path d="M1017.3,140.4L1018.8,137" stroke="#1d1abc" stroke-width="2.7"/><path d="M1018.8,137L1020.3,133.8" stroke="#1c1abf" stroke-width="2.7"/><path d="M1020.3,133.8L1021.8,130.6" stroke="#1c1bc2" stroke-width="2.7"/><path d="M1021.8,130.6L1023.4,127.5" stroke="#1c1cc5" stroke-width="2.7"/><path d="M1023.4,127.5L1025.1,124.8" stroke="#1c1dc8" stroke-width="2.7"/><path d="M1025.1,124.8L1026.7,122.6" stroke="#1c1eca" stroke-width="2.7"/><path d="M1026.7,122.6L1028.4,120.9" stroke="#1b1fcd" stroke-width="2.7"/><path d="M1028.4,120.9L1030.1,120" stroke="#1b21d3" stroke-width="2.7"/><path d="M1030.1,120L1031.8,120.1" stroke="#1a23da" stroke-width="2.7"/><path d="M1031.8,120.1L1033.6,121.4" stroke="#1a25e2" stroke-width="2.6"/><path d="M1033.6,121.4L1035.6,123.9" stroke="#1a2beb" stroke-width="2.5"/><path d="M1035.6,123.9L1037.6,127.2" stroke="#1d3bec" stroke-width="2.4"/><path d="M1037.6,127.2L1039.7,131.2" stroke="#2250ee" stroke-width="2.2"/><path d="M1039.7,131.2L1041.6,135.3" stroke="#276bf0" stroke-width="2.1"/><path d="M1041.6,135.3L1043.4,139.4" stroke="#369eee" stroke-width="1.9"/><path d="M1043.4,139.4L1044.9,143.1" stroke="#46d6eb" stroke-width="1.7"/><path d="M1044.9,143.1L1046.1,146.1" stroke="#62e9d2" stroke-width="1.6"/><path d="M1046.1,146.1L1046.9,148.5" stroke="#85efa5" stroke-width="1.5"/><path d="M1046.9,148.5L1047.4,150.8" stroke="#aaed6a" stroke-width="1.4"/><path d="M1047.4,150.8L1047.6,152.9" stroke="#cbe83b" stroke-width="1.3"/><path d="M1047.6,152.9L1047.6,154.9" stroke="#dbda33" stroke-width="1.2"/><path d="M1047.6,154.9L1047.6,156.6" stroke="#eacd2b" stroke-width="1.2"/><path d="M1047.6,156.6L1047.5,158.1" stroke="#f0b726" stroke-width="1.1"/><path d="M1047.5,158.1L1047.4,159.4" stroke="#f09a22" stroke-width="1.1"/><path d="M1047.4,159.4L1047.4,160.4" stroke="#f0831f" stroke-width="1.0"/><path d="M1021.4,243.6L1020.8,239.7" stroke="#f07d1f" stroke-width="1.1"/><path d="M1020.8,239.7L1019.9,234.4" stroke="#e0d630" stroke-width="1.3"/><path d="M1019.9,234.4L1018.9,228.1" stroke="#99ee86" stroke-width="1.6"/><path d="M1018.9,228.1L1017.7,221.1" stroke="#50dde2" stroke-width="1.8"/><path d="M1017.7,221.1L1016.6,213.8" stroke="#318def" stroke-width="2.0"/><path d="M1016.6,213.8L1015.5,206.7" stroke="#2356ee" stroke-width="2.2"/><path d="M1015.5,206.7L1014.4,200" stroke="#214fee" stroke-width="2.2"/><path d="M1014.4,200L1013.6,194.2" stroke="#204aed" stroke-width="2.2"/><path d="M1013.6,194.2L1012.9,188.9" stroke="#2047ed" stroke-width="2.2"/><path d="M1012.9,188.9L1012.1,183.8" stroke="#2047ed" stroke-width="2.2"/><path d="M1012.1,183.8L1011.5,178.8" stroke="#2049ed" stroke-width="2.2"/><path d="M1011.5,178.8L1010.8,174.1" stroke="#214cee" stroke-width="2.2"/><path d="M1010.8,174.1L1010.3,169.6" stroke="#2251ee" stroke-width="2.2"/><path d="M1010.3,169.6L1009.9,165.6" stroke="#2355ee" stroke-width="2.2"/><path d="M1009.9,165.6L1009.7,162.1" stroke="#245aef" stroke-width="2.2"/><path d="M1009.7,162.1L1009.7,159.1" stroke="#2667ef" stroke-width="2.1"/><path d="M1009.7,159.1L1009.9,156.7" stroke="#2c7bef" stroke-width="2.0"/><path d="M1009.9,156.7L1010.4,154.8" stroke="#3395ee" stroke-width="1.9"/><path d="M1010.4,154.8L1011,153.3" stroke="#3aaced" stroke-width="1.8"/><path d="M1011,153.3L1011.7,152.3" stroke="#40c1ec" stroke-width="1.8"/><path d="M1011.7,152.3L1012.6,151.6" stroke="#45d3eb" stroke-width="1.7"/><path d="M1012.6,151.6L1013.4,151.2" stroke="#4cdbe5" stroke-width="1.7"/><path d="M1013.4,151.2L1014.2,151.2" stroke="#54e0de" stroke-width="1.6"/><path d="M1014.2,151.2L1014.9,151.3" stroke="#5ce5d8" stroke-width="1.6"/><path d="M1014.9,151.3L1015.6,151.9" stroke="#64ead1" stroke-width="1.5"/><path d="M1015.6,151.9L1016.3,153.1" stroke="#72f0c2" stroke-width="1.5"/><path d="M1016.3,153.1L1017.1,154.8" stroke="#90ee93" stroke-width="1.4"/><path d="M1017.1,154.8L1017.8,156.7" stroke="#b5ec59" stroke-width="1.3"/><path d="M1017.8,156.7L1018.5,158.6" stroke="#d3e136" stroke-width="1.3"/><path d="M1018.5,158.6L1019.2,160.4" stroke="#e8cf2c" stroke-width="1.2"/><path d="M1019.2,160.4L1019.7,162" stroke="#f0ac25" stroke-width="1.1"/><path d="M1019.7,162L1020.1,163" stroke="#f08720" stroke-width="1.0"/><path d="M1034.4,243.6L1035,239.6" stroke="#f0791e" stroke-width="1.0"/><path d="M1035,239.6L1035.8,234.1" stroke="#e3d32e" stroke-width="1.3"/><path d="M1035.8,234.1L1036.7,227.6" stroke="#a3ed75" stroke-width="1.6"/><path d="M1036.7,227.6L1037.7,220.4" stroke="#58e2db" stroke-width="1.8"/><path d="M1037.7,220.4L1038.8,213" stroke="#36a0ee" stroke-width="2.0"/><path d="M1038.8,213L1040,205.9" stroke="#245def" stroke-width="2.2"/><path d="M1040,205.9L1041.1,199.5" stroke="#2251ee" stroke-width="2.2"/><path d="M1041.1,199.5L1042.2,194.2" stroke="#214cee" stroke-width="2.2"/><path d="M1042.2,194.2L1043.2,189.9" stroke="#2049ed" stroke-width="2.2"/><path d="M1043.2,189.9L1044.1,186.2" stroke="#2048ed" stroke-width="2.2"/><path d="M1044.1,186.2L1045.1,183" stroke="#2047ed" stroke-width="2.2"/><path d="M1045.1,183L1046,180.1" stroke="#2047ed" stroke-width="2.2"/><path d="M1046,180.1L1047.1,177.5" stroke="#2048ed" stroke-width="2.2"/><path d="M1047.1,177.5L1048.3,175.2" stroke="#2049ed" stroke-width="2.2"/><path d="M1048.3,175.2L1049.7,173" stroke="#204bed" stroke-width="2.2"/><path d="M1049.7,173L1051.3,170.8" stroke="#214cee" stroke-width="2.2"/><path d="M1051.3,170.8L1053.3,168.7" stroke="#214fee" stroke-width="2.2"/><path d="M1053.3,168.7L1055.5,166.7" stroke="#2251ee" stroke-width="2.2"/><path d="M1055.5,166.7L1058,164.8" stroke="#2254ee" stroke-width="2.2"/><path d="M1058,164.8L1060.6,163.2" stroke="#2357ee" stroke-width="2.2"/><path d="M1060.6,163.2L1063.2,161.8" stroke="#245cef" stroke-width="2.2"/><path d="M1063.2,161.8L1065.9,160.8" stroke="#2666ef" stroke-width="2.1"/><path d="M1065.9,160.8L1068.4,160.1" stroke="#2a75f0" stroke-width="2.0"/><path d="M1068.4,160.1L1070.8,159.9" stroke="#318def" stroke-width="1.9"/><path d="M1070.8,159.9L1073.2,160.3" stroke="#38a6ed" stroke-width="1.8"/><path d="M1073.2,160.3L1075.6,161.3" stroke="#41c4ec" stroke-width="1.7"/><path d="M1075.6,161.3L1078.1,162.9" stroke="#50dde2" stroke-width="1.6"/><path d="M1078.1,162.9L1080.5,164.7" stroke="#68eccd" stroke-width="1.4"/><path d="M1080.5,164.7L1082.7,166.5" stroke="#91ee92" stroke-width="1.3"/><path d="M1082.7,166.5L1084.7,168.3" stroke="#beec4b" stroke-width="1.2"/><path d="M1084.7,168.3L1086.4,169.8" stroke="#d8dd34" stroke-width="1.1"/><path d="M1086.4,169.8L1087.7,170.8" stroke="#e9ce2c" stroke-width="1.0"/><path d="M1037,241L1038.7,236.8" stroke="#ed6f1d" stroke-width="1.0"/><path d="M1038.7,236.8L1041,231" stroke="#edcb29" stroke-width="1.3"/><path d="M1041,231L1043.6,224.2" stroke="#c4eb42" stroke-width="1.5"/><path d="M1043.6,224.2L1046.6,216.6" stroke="#75f0bd" stroke-width="1.7"/><path d="M1046.6,216.6L1049.8,208.9" stroke="#46d7eb" stroke-width="1.9"/><path d="M1049.8,208.9L1053.3,201.4" stroke="#3290ee" stroke-width="2.0"/><path d="M1053.3,201.4L1056.8,194.6" stroke="#255eef" stroke-width="2.2"/><path d="M1056.8,194.6L1060.4,189" stroke="#2253ee" stroke-width="2.2"/><path d="M1060.4,189L1064.1,184.3" stroke="#214fee" stroke-width="2.2"/><path d="M1064.1,184.3L1068.1,179.9" stroke="#214bee" stroke-width="2.2"/><path d="M1068.1,179.9L1072.3,176" stroke="#2049ed" stroke-width="2.2"/><path d="M1072.3,176L1076.6,172.4" stroke="#2047ed" stroke-width="2.2"/><path d="M1076.6,172.4L1081,169.3" stroke="#2047ed" stroke-width="2.2"/><path d="M1081,169.3L1085.4,166.7" stroke="#2048ed" stroke-width="2.2"/><path d="M1085.4,166.7L1089.8,164.6" stroke="#2049ed" stroke-width="2.2"/><path d="M1089.8,164.6L1094.2,163" stroke="#214bee" stroke-width="2.2"/><path d="M1094.2,163L1098.7,162.1" stroke="#214eee" stroke-width="2.2"/><path d="M1098.7,162.1L1103.4,161.7" stroke="#2251ee" stroke-width="2.2"/><path d="M1103.4,161.7L1108.3,162" stroke="#2254ee" stroke-width="2.2"/><path d="M1108.3,162L1113.1,162.7" stroke="#2357ee" stroke-width="2.2"/><path d="M1113.1,162.7L1117.8,163.7" stroke="#255fef" stroke-width="2.2"/><path d="M1117.8,163.7L1122.1,165.1" stroke="#286cf0" stroke-width="2.0"/><path d="M1122.1,165.1L1126,166.6" stroke="#2f87ef" stroke-width="1.9"/><path d="M1126,166.6L1129.3,168.2" stroke="#38a6ed" stroke-width="1.8"/><path d="M1129.3,168.2L1132,170.2" stroke="#41c4ec" stroke-width="1.7"/><path d="M1132,170.2L1134.1,172.8" stroke="#4ddce5" stroke-width="1.6"/><path d="M1134.1,172.8L1135.9,175.8" stroke="#62e8d3" stroke-width="1.5"/><path d="M1135.9,175.8L1137.3,178.9" stroke="#7fefae" stroke-width="1.4"/><path d="M1137.3,178.9L1138.5,182" stroke="#a6ed71" stroke-width="1.3"/><path d="M1138.5,182L1139.4,184.9" stroke="#cbe93b" stroke-width="1.2"/><path d="M1139.4,184.9L1140.3,187.3" stroke="#dcda32" stroke-width="1.1"/><path d="M1140.3,187.3L1141,189" stroke="#eacd2b" stroke-width="1.0"/><path d="M1044.8,256.6L1047.2,251.5" stroke="#f0771e" stroke-width="1.1"/><path d="M1047.2,251.5L1050.3,244.4" stroke="#e5d22e" stroke-width="1.4"/><path d="M1050.3,244.4L1054.1,235.8" stroke="#a9ed6c" stroke-width="1.6"/><path d="M1054.1,235.8L1058.3,226.5" stroke="#5de5d7" stroke-width="1.9"/><path d="M1058.3,226.5L1062.7,217.1" stroke="#39aaed" stroke-width="2.1"/><path d="M1062.7,217.1L1067.3,208.2" stroke="#2664ef" stroke-width="2.3"/><path d="M1067.3,208.2L1071.8,200.3" stroke="#1e3eed" stroke-width="2.5"/><path d="M1071.8,200.3L1076,194.2" stroke="#1a24de" stroke-width="2.6"/><path d="M1076,194.2L1080,189.7" stroke="#1c1dc8" stroke-width="2.7"/><path d="M1080,189.7L1084,186.1" stroke="#1c1cc5" stroke-width="2.7"/><path d="M1084,186.1L1087.9,183.3" stroke="#1c1bc1" stroke-width="2.7"/><path d="M1087.9,183.3L1091.9,181.2" stroke="#1c1abe" stroke-width="2.7"/><path d="M1091.9,181.2L1096.1,179.5" stroke="#1d1abc" stroke-width="2.7"/><path d="M1096.1,179.5L1100.4,178.2" stroke="#1d19ba" stroke-width="2.7"/><path d="M1100.4,178.2L1104.9,177.1" stroke="#1d18b8" stroke-width="2.7"/><path d="M1104.9,177.1L1109.8,176" stroke="#1d18b6" stroke-width="2.7"/><path d="M1109.8,176L1115.1,175" stroke="#1d18b5" stroke-width="2.7"/><path d="M1115.1,175L1120.9,174.3" stroke="#1d17b5" stroke-width="2.7"/><path d="M1120.9,174.3L1127,173.9" stroke="#1d17b5" stroke-width="2.7"/><path d="M1127,173.9L1133.2,173.7" stroke="#1d18b6" stroke-width="2.7"/><path d="M1133.2,173.7L1139.4,173.9" stroke="#1d18b8" stroke-width="2.7"/><path d="M1139.4,173.9L1145.5,174.3" stroke="#1d19bb" stroke-width="2.7"/><path d="M1145.5,174.3L1151.3,175" stroke="#1c1abe" stroke-width="2.7"/><path d="M1151.3,175L1156.6,176" stroke="#1c1bc1" stroke-width="2.7"/><path d="M1156.6,176L1161.5,177.3" stroke="#1c1cc4" stroke-width="2.7"/><path d="M1161.5,177.3L1166.3,178.9" stroke="#1c1dc8" stroke-width="2.7"/><path d="M1166.3,178.9L1170.9,180.9" stroke="#1b1ecb" stroke-width="2.7"/><path d="M1170.9,180.9L1175.2,183.1" stroke="#1b20d3" stroke-width="2.7"/><path d="M1175.2,183.1L1179.3,185.5" stroke="#1a24df" stroke-width="2.6"/><path d="M1179.3,185.5L1183.3,188.2" stroke="#1a2ceb" stroke-width="2.5"/><path d="M1183.3,188.2L1186.9,191.1" stroke="#1d3aec" stroke-width="2.3"/><path d="M1186.9,191.1L1190.4,194.2" stroke="#204aed" stroke-width="2.2"/><path d="M1190.4,194.2L1193.7,197.8" stroke="#245def" stroke-width="2.0"/><path d="M1193.7,197.8L1196.7,202.1" stroke="#2a76f0" stroke-width="1.9"/><path d="M1196.7,202.1L1199.6,206.8" stroke="#37a4ed" stroke-width="1.7"/><path d="M1199.6,206.8L1202.3,211.6" stroke="#46d6eb" stroke-width="1.6"/><path d="M1202.3,211.6L1204.6,216.3" stroke="#64ead1" stroke-width="1.4"/><path d="M1204.6,216.3L1206.7,220.5" stroke="#90ee93" stroke-width="1.3"/><path d="M1206.7,220.5L1208.5,224.1" stroke="#c0eb49" stroke-width="1.1"/><path d="M1208.5,224.1L1209.9,226.7" stroke="#d7de34" stroke-width="1.0"/><path d="M1056.5,257.9L1059.1,253.9" stroke="#e8601c" stroke-width="1.0"/><path d="M1059.1,253.9L1062.6,248.4" stroke="#f0ab24" stroke-width="1.2"/><path d="M1062.6,248.4L1066.8,241.8" stroke="#ddd831" stroke-width="1.4"/><path d="M1066.8,241.8L1071.5,234.7" stroke="#b6ec58" stroke-width="1.5"/><path d="M1071.5,234.7L1076.2,227.4" stroke="#7befb3" stroke-width="1.7"/><path d="M1076.2,227.4L1080.9,220.5" stroke="#57e1dc" stroke-width="1.8"/><path d="M1080.9,220.5L1085.3,214.5" stroke="#41c5ec" stroke-width="1.9"/><path d="M1085.3,214.5L1089,209.8" stroke="#369fee" stroke-width="2.0"/><path d="M1089,209.8L1092.1,206.4" stroke="#2e81ef" stroke-width="2.1"/><path d="M1092.1,206.4L1094.8,203.8" stroke="#286cf0" stroke-width="2.1"/><path d="M1094.8,203.8L1097.2,201.9" stroke="#2562ef" stroke-width="2.2"/><path d="M1097.2,201.9L1099.5,200.5" stroke="#245aef" stroke-width="2.2"/><path d="M1099.5,200.5L1101.8,199.4" stroke="#2356ee" stroke-width="2.2"/><path d="M1101.8,199.4L1104.1,198.5" stroke="#2355ee" stroke-width="2.2"/><path d="M1104.1,198.5L1106.8,197.7" stroke="#2253ee" stroke-width="2.2"/><path d="M1106.8,197.7L1109.8,196.8" stroke="#2252ee" stroke-width="2.2"/><path d="M1109.8,196.8L1113.2,195.9" stroke="#2251ee" stroke-width="2.2"/><path d="M1113.2,195.9L1116.7,195" stroke="#214fee" stroke-width="2.2"/><path d="M1116.7,195L1120.5,194.3" stroke="#214dee" stroke-width="2.2"/><path d="M1120.5,194.3L1124.4,193.7" stroke="#214cee" stroke-width="2.2"/><path d="M1124.4,193.7L1128.5,193.4" stroke="#204bed" stroke-width="2.2"/><path d="M1128.5,193.4L1132.6,193.3" stroke="#204aed" stroke-width="2.2"/><path d="M1132.6,193.3L1136.8,193.6" stroke="#2049ed" stroke-width="2.2"/><path d="M1136.8,193.6L1141,194.2" stroke="#2048ed" stroke-width="2.2"/><path d="M1141,194.2L1145.2,194.9" stroke="#2047ed" stroke-width="2.2"/><path d="M1145.2,194.9L1149.5,195.5" stroke="#2047ed" stroke-width="2.2"/><path d="M1149.5,195.5L1153.8,196.3" stroke="#2047ed" stroke-width="2.2"/><path d="M1153.8,196.3L1158.2,197.4" stroke="#2048ed" stroke-width="2.2"/><path d="M1158.2,197.4L1162.8,199.2" stroke="#2048ed" stroke-width="2.2"/><path d="M1162.8,199.2L1167.4,201.6" stroke="#2049ed" stroke-width="2.2"/><path d="M1167.4,201.6L1172.3,205.1" stroke="#204bed" stroke-width="2.2"/><path d="M1172.3,205.1L1177.4,209.8" stroke="#214dee" stroke-width="2.2"/><path d="M1177.4,209.8L1183.1,216.4" stroke="#2251ee" stroke-width="2.2"/><path d="M1183.1,216.4L1189.5,225.2" stroke="#2355ee" stroke-width="2.2"/><path d="M1189.5,225.2L1196.2,235.2" stroke="#255eef" stroke-width="2.2"/><path d="M1196.2,235.2L1203.1,245.9" stroke="#2d80ef" stroke-width="1.9"/><path d="M1203.1,245.9L1209.6,256.4" stroke="#40c3ec" stroke-width="1.7"/><path d="M1209.6,256.4L1215.5,266.1" stroke="#68edcd" stroke-width="1.4"/><path d="M1215.5,266.1L1220.5,274.2" stroke="#b5ec59" stroke-width="1.2"/><path d="M1220.5,274.2L1224.2,280" stroke="#e1d530" stroke-width="1.1"/><path d="M1059.1,261.8L1063.6,259.3" stroke="#ed701d" stroke-width="1.0"/><path d="M1063.6,259.3L1069.8,255.7" stroke="#edcb2a" stroke-width="1.3"/><path d="M1069.8,255.7L1077.2,251.5" stroke="#c2eb46" stroke-width="1.5"/><path d="M1077.2,251.5L1085.3,246.8" stroke="#72f0c2" stroke-width="1.7"/><path d="M1085.3,246.8L1093.6,242.1" stroke="#45d4eb" stroke-width="1.9"/><path d="M1093.6,242.1L1101.6,237.7" stroke="#318def" stroke-width="2.0"/><path d="M1101.6,237.7L1108.9,233.7" stroke="#245def" stroke-width="2.2"/><path d="M1108.9,233.7L1115,230.6" stroke="#2253ee" stroke-width="2.2"/><path d="M1115,230.6L1119.8,228.2" stroke="#214fee" stroke-width="2.2"/><path d="M1119.8,228.2L1123.8,226.1" stroke="#214dee" stroke-width="2.2"/><path d="M1123.8,226.1L1127.3,224.3" stroke="#204bed" stroke-width="2.2"/><path d="M1127.3,224.3L1130.4,222.8" stroke="#2049ed" stroke-width="2.2"/><path d="M1130.4,222.8L1133.3,221.7" stroke="#2048ed" stroke-width="2.2"/><path d="M1133.3,221.7L1136.4,220.8" stroke="#2048ed" stroke-width="2.2"/><path d="M1136.4,220.8L1139.7,220.4" stroke="#2047ed" stroke-width="2.2"/><path d="M1139.7,220.4L1143.6,220.2" stroke="#2047ed" stroke-width="2.2"/><path d="M1143.6,220.2L1148.1,220.4" stroke="#2047ed" stroke-width="2.2"/><path d="M1148.1,220.4L1153,221" stroke="#2048ed" stroke-width="2.2"/><path d="M1153,221L1158.1,221.9" stroke="#204aed" stroke-width="2.2"/><path d="M1158.1,221.9L1163.4,223.1" stroke="#214cee" stroke-width="2.2"/><path d="M1163.4,223.1L1168.7,224.6" stroke="#214eee" stroke-width="2.2"/><path d="M1168.7,224.6L1173.7,226.4" stroke="#2251ee" stroke-width="2.2"/><path d="M1173.7,226.4L1178.4,228.4" stroke="#2355ee" stroke-width="2.2"/><path d="M1178.4,228.4L1182.6,230.6" stroke="#2357ee" stroke-width="2.2"/><path d="M1182.6,230.6L1186.4,233.2" stroke="#245cef" stroke-width="2.2"/><path d="M1186.4,233.2L1190,236.4" stroke="#2663ef" stroke-width="2.1"/><path d="M1190,236.4L1193.3,239.9" stroke="#286cf0" stroke-width="1.9"/><path d="M1193.3,239.9L1196.4,243.6" stroke="#2d80ef" stroke-width="1.8"/><path d="M1196.4,243.6L1199.2,247.3" stroke="#3497ee" stroke-width="1.7"/><path d="M1199.2,247.3L1201.8,250.8" stroke="#3bb0ed" stroke-width="1.6"/><path d="M1201.8,250.8L1204.1,254" stroke="#42c8ec" stroke-width="1.4"/><path d="M1204.1,254L1206,256.6" stroke="#4bdae7" stroke-width="1.4"/><path d="M1206,256.6L1207.6,258.7" stroke="#56e1dd" stroke-width="1.3"/><path d="M1207.6,258.7L1208.7,260.5" stroke="#60e7d5" stroke-width="1.2"/><path d="M1208.7,260.5L1209.5,262.1" stroke="#68ecce" stroke-width="1.2"/><path d="M1209.5,262.1L1210.1,263.4" stroke="#6ff0c7" stroke-width="1.1"/><path d="M1210.1,263.4L1210.4,264.5" stroke="#78efb8" stroke-width="1.1"/><path d="M1210.4,264.5L1210.7,265.5" stroke="#81efab" stroke-width="1.1"/><path d="M1210.7,265.5L1210.9,266.3" stroke="#88efa0" stroke-width="1.0"/><path d="M1210.9,266.3L1211.2,267" stroke="#8eee97" stroke-width="1.0"/><path d="M1025.3,293L1026.8,289.8" stroke="#e85e1c" stroke-width="1.0"/><path d="M1026.8,289.8L1028.8,285.4" stroke="#f0a724" stroke-width="1.2"/><path d="M1028.8,285.4L1031.2,280.1" stroke="#e0d630" stroke-width="1.4"/><path d="M1031.2,280.1L1033.9,274.3" stroke="#bdec4d" stroke-width="1.6"/><path d="M1033.9,274.3L1036.7,268.4" stroke="#83efa7" stroke-width="1.8"/><path d="M1036.7,268.4L1039.6,262.8" stroke="#5ce5d8" stroke-width="1.9"/><path d="M1039.6,262.8L1042.3,257.9" stroke="#44cfeb" stroke-width="2.0"/><path d="M1042.3,257.9L1044.8,254" stroke="#39a9ed" stroke-width="2.1"/><path d="M1044.8,254L1047,251" stroke="#308bef" stroke-width="2.2"/><path d="M1047,251L1049,248.6" stroke="#2973f0" stroke-width="2.3"/><path d="M1049,248.6L1050.8,246.6" stroke="#2666ef" stroke-width="2.3"/><path d="M1050.8,246.6L1052.7,245.1" stroke="#245cef" stroke-width="2.4"/><path d="M1052.7,245.1L1054.7,243.8" stroke="#2253ee" stroke-width="2.4"/><path d="M1054.7,243.8L1057,242.7" stroke="#204aed" stroke-width="2.4"/><path d="M1057,242.7L1059.7,241.8" stroke="#1e40ed" stroke-width="2.5"/><path d="M1059.7,241.8L1063,241" stroke="#1c35ec" stroke-width="2.5"/><path d="M1063,241L1066.9,240.2" stroke="#1928eb" stroke-width="2.6"/><path d="M1066.9,240.2L1071.2,239.5" stroke="#1b22d7" stroke-width="2.7"/><path d="M1071.2,239.5L1076,239" stroke="#1c1ec9" stroke-width="2.7"/><path d="M1076,239L1081,238.7" stroke="#1c1dc6" stroke-width="2.7"/><path d="M1081,238.7L1086.3,238.7" stroke="#1c1cc3" stroke-width="2.7"/><path d="M1086.3,238.7L1091.6,239.1" stroke="#1c1bc0" stroke-width="2.7"/><path d="M1091.6,239.1L1096.9,239.8" stroke="#1d1abd" stroke-width="2.7"/><path d="M1096.9,239.8L1102,241" stroke="#1d19bb" stroke-width="2.7"/><path d="M1102,241L1107.2,242.8" stroke="#1d18b8" stroke-width="2.7"/><path d="M1107.2,242.8L1112.5,245.1" stroke="#1d18b7" stroke-width="2.7"/><path d="M1112.5,245.1L1118,247.8" stroke="#1d18b5" stroke-width="2.7"/><path d="M1118,247.8L1123.5,250.9" stroke="#1d17b5" stroke-width="2.7"/><path d="M1123.5,250.9L1128.8,254.2" stroke="#1d17b5" stroke-width="2.7"/><path d="M1128.8,254.2L1134.1,257.6" stroke="#1d18b6" stroke-width="2.7"/><path d="M1134.1,257.6L1139,261.1" stroke="#1d18b8" stroke-width="2.7"/><path d="M1139,261.1L1143.6,264.4" stroke="#1d19ba" stroke-width="2.7"/><path d="M1143.6,264.4L1147.8,267.6" stroke="#1d1abc" stroke-width="2.7"/><path d="M1147.8,267.6L1151.8,270.6" stroke="#1c1abf" stroke-width="2.7"/><path d="M1151.8,270.6L1155.5,273.7" stroke="#1c1bc1" stroke-width="2.7"/><path d="M1155.5,273.7L1159,276.9" stroke="#1c1cc4" stroke-width="2.7"/><path d="M1159,276.9L1162.4,280.3" stroke="#1c1dc7" stroke-width="2.7"/><path d="M1162.4,280.3L1165.7,284.1" stroke="#1c1eca" stroke-width="2.7"/><path d="M1165.7,284.1L1169,288.3" stroke="#1b20d0" stroke-width="2.7"/><path d="M1169,288.3L1172.2,293" stroke="#1a24de" stroke-width="2.6"/><path d="M1172.2,293L1175.5,298.7" stroke="#1a2eeb" stroke-width="2.5"/><path d="M1175.5,298.7L1179,305.6" stroke="#1f44ed" stroke-width="2.3"/><path d="M1179,305.6L1182.4,313.1" stroke="#2561ef" stroke-width="2.0"/><path d="M1182.4,313.1L1185.7,320.8" stroke="#3498ee" stroke-width="1.8"/><path d="M1185.7,320.8L1188.8,328.3" stroke="#4cdbe6" stroke-width="1.6"/><path d="M1188.8,328.3L1191.5,335.1" stroke="#7eefae" stroke-width="1.4"/><path d="M1191.5,335.1L1193.8,340.8" stroke="#c5eb40" stroke-width="1.2"/><path d="M1193.8,340.8L1195.6,345" stroke="#e3d32e" stroke-width="1.1"/><path d="M1060.4,251.4L1062.6,250.3" stroke="#e6581c" stroke-width="1.0"/><path d="M1062.6,250.3L1065.5,248.9" stroke="#f09822" stroke-width="1.2"/><path d="M1065.5,248.9L1069,247.1" stroke="#eacd2b" stroke-width="1.3"/><path d="M1069,247.1L1072.9,245.2" stroke="#d1e337" stroke-width="1.5"/><path d="M1072.9,245.2L1077,243.2" stroke="#a8ed6e" stroke-width="1.6"/><path d="M1077,243.2L1081.2,241.4" stroke="#78efb8" stroke-width="1.8"/><path d="M1081.2,241.4L1085.2,239.7" stroke="#5ae4d9" stroke-width="1.9"/><path d="M1085.2,239.7L1089,238.4" stroke="#45d3eb" stroke-width="2.0"/><path d="M1089,238.4L1092.5,237.3" stroke="#3bb0ed" stroke-width="2.1"/><path d="M1092.5,237.3L1096,236.4" stroke="#3290ee" stroke-width="2.2"/><path d="M1096,236.4L1099.4,235.5" stroke="#2972f0" stroke-width="2.3"/><path d="M1099.4,235.5L1102.8,234.8" stroke="#2560ef" stroke-width="2.3"/><path d="M1102.8,234.8L1106.3,234.2" stroke="#2250ee" stroke-width="2.4"/><path d="M1106.3,234.2L1109.9,233.9" stroke="#1e41ed" stroke-width="2.5"/><path d="M1109.9,233.9L1113.7,233.7" stroke="#1b31ec" stroke-width="2.6"/><path d="M1113.7,233.7L1117.6,233.7" stroke="#1a25e0" stroke-width="2.6"/><path d="M1117.6,233.7L1121.8,233.9" stroke="#1c1eca" stroke-width="2.7"/><path d="M1121.8,233.9L1126.2,234.3" stroke="#1c1dc7" stroke-width="2.7"/><path d="M1126.2,234.3L1130.8,234.8" stroke="#1c1cc4" stroke-width="2.7"/><path d="M1130.8,234.8L1135.5,235.4" stroke="#1c1bc0" stroke-width="2.7"/><path d="M1135.5,235.4L1140.2,236.4" stroke="#1d1abd" stroke-width="2.7"/><path d="M1140.2,236.4L1144.9,237.6" stroke="#1d19ba" stroke-width="2.7"/><path d="M1144.9,237.6L1149.5,239.1" stroke="#1d18b8" stroke-width="2.7"/><path d="M1149.5,239.1L1154,241" stroke="#1d18b6" stroke-width="2.7"/><path d="M1154,241L1158.5,243.1" stroke="#1d17b5" stroke-width="2.7"/><path d="M1158.5,243.1L1163.1,245.3" stroke="#1d17b5" stroke-width="2.7"/><path d="M1163.1,245.3L1167.8,247.7" stroke="#1d17b5" stroke-width="2.7"/><path d="M1167.8,247.7L1172.4,250.4" stroke="#1d18b6" stroke-width="2.7"/><path d="M1172.4,250.4L1176.8,253.6" stroke="#1d18b8" stroke-width="2.7"/><path d="M1176.8,253.6L1180.9,257.3" stroke="#1d19bb" stroke-width="2.7"/><path d="M1180.9,257.3L1184.6,261.8" stroke="#1c1abe" stroke-width="2.7"/><path d="M1184.6,261.8L1187.8,267" stroke="#1c1bc2" stroke-width="2.7"/><path d="M1187.8,267L1190.5,273.7" stroke="#1c1dc7" stroke-width="2.7"/><path d="M1190.5,273.7L1192.8,282" stroke="#1b1fcf" stroke-width="2.7"/><path d="M1192.8,282L1194.8,291.4" stroke="#1a2beb" stroke-width="2.5"/><path d="M1194.8,291.4L1196.4,301.1" stroke="#2252ee" stroke-width="2.2"/><path d="M1196.4,301.1L1197.8,310.7" stroke="#3499ee" stroke-width="1.9"/><path d="M1197.8,310.7L1199,319.4" stroke="#5fe7d5" stroke-width="1.6"/><path d="M1199,319.4L1199.9,326.7" stroke="#bcec4e" stroke-width="1.3"/><path d="M1199.9,326.7L1200.8,332" stroke="#eeca29" stroke-width="1.1"/><path d="M1040.9,293L1044.7,291.3" stroke="#e8601c" stroke-width="1.0"/><path d="M1044.7,291.3L1049.8,288.8" stroke="#f0aa24" stroke-width="1.2"/><path d="M1049.8,288.8L1055.9,285.9" stroke="#ded831" stroke-width="1.3"/><path d="M1055.9,285.9L1062.6,282.7" stroke="#b8ec55" stroke-width="1.5"/><path d="M1062.6,282.7L1069.6,279.5" stroke="#7defb0" stroke-width="1.7"/><path d="M1069.6,279.5L1076.6,276.5" stroke="#57e2dc" stroke-width="1.8"/><path d="M1076.6,276.5L1083.2,274" stroke="#40c3ec" stroke-width="1.9"/><path d="M1083.2,274L1089,272.2" stroke="#3499ee" stroke-width="2.0"/><path d="M1089,272.2L1094.2,271" stroke="#2a75f0" stroke-width="2.1"/><path d="M1094.2,271L1099.1,270.1" stroke="#2561ef" stroke-width="2.2"/><path d="M1099.1,270.1L1103.8,269.5" stroke="#2356ee" stroke-width="2.2"/><path d="M1103.8,269.5L1108.3,269.2" stroke="#2253ee" stroke-width="2.2"/><path d="M1108.3,269.2L1112.8,269.2" stroke="#2251ee" stroke-width="2.2"/><path d="M1112.8,269.2L1117.3,269.5" stroke="#214fee" stroke-width="2.2"/><path d="M1117.3,269.5L1121.9,270.1" stroke="#214dee" stroke-width="2.2"/><path d="M1121.9,270.1L1126.7,270.9" stroke="#204bed" stroke-width="2.2"/><path d="M1126.7,270.9L1131.7,272" stroke="#2049ed" stroke-width="2.2"/><path d="M1131.7,272L1137,273.5" stroke="#2048ed" stroke-width="2.2"/><path d="M1137,273.5L1142.4,275.3" stroke="#2047ed" stroke-width="2.2"/><path d="M1142.4,275.3L1147.7,277.3" stroke="#2047ed" stroke-width="2.2"/><path d="M1147.7,277.3L1153,279.6" stroke="#2048ed" stroke-width="2.2"/><path d="M1153,279.6L1158.1,282.1" stroke="#2049ed" stroke-width="2.2"/><path d="M1158.1,282.1L1162.8,284.9" stroke="#204bed" stroke-width="2.2"/><path d="M1162.8,284.9L1167,287.8" stroke="#214dee" stroke-width="2.2"/><path d="M1167,287.8L1170.8,291" stroke="#214fee" stroke-width="2.2"/><path d="M1170.8,291L1174.4,294.5" stroke="#2251ee" stroke-width="2.2"/><path d="M1174.4,294.5L1177.8,298.2" stroke="#2254ee" stroke-width="2.2"/><path d="M1177.8,298.2L1180.8,302.2" stroke="#2357ee" stroke-width="2.2"/><path d="M1180.8,302.2L1183.6,306.3" stroke="#245bef" stroke-width="2.2"/><path d="M1183.6,306.3L1186.1,310.5" stroke="#2663ef" stroke-width="2.1"/><path d="M1186.1,310.5L1188.4,314.8" stroke="#286ff0" stroke-width="2.0"/><path d="M1188.4,314.8L1190.4,319" stroke="#2f87ef" stroke-width="1.9"/><path d="M1190.4,319L1192.1,323.6" stroke="#37a3ed" stroke-width="1.8"/><path d="M1192.1,323.6L1193.4,328.6" stroke="#41c5ec" stroke-width="1.7"/><path d="M1193.4,328.6L1194.4,333.9" stroke="#52dee1" stroke-width="1.6"/><path d="M1194.4,333.9L1195.1,339.1" stroke="#6aeecb" stroke-width="1.4"/><path d="M1195.1,339.1L1195.7,344.2" stroke="#95ee8c" stroke-width="1.3"/><path d="M1195.7,344.2L1196.1,348.7" stroke="#c1eb47" stroke-width="1.2"/><path d="M1196.1,348.7L1196.5,352.6" stroke="#d8dd34" stroke-width="1.1"/><path d="M1196.5,352.6L1196.9,355.4" stroke="#e9ce2c" stroke-width="1.0"/><path d="M1047.4,308.6L1049.2,307.5" stroke="#e5561c" stroke-width="1.0"/><path d="M1049.2,307.5L1051.6,305.9" stroke="#f09321" stroke-width="1.1"/><path d="M1051.6,305.9L1054.5,303.9" stroke="#edca29" stroke-width="1.3"/><path d="M1054.5,303.9L1057.6,301.9" stroke="#d5e035" stroke-width="1.4"/><path d="M1057.6,301.9L1061,299.8" stroke="#b3ec5d" stroke-width="1.5"/><path d="M1061,299.8L1064.4,298" stroke="#86efa3" stroke-width="1.6"/><path d="M1064.4,298L1067.7,296.5" stroke="#64ead0" stroke-width="1.7"/><path d="M1067.7,296.5L1070.8,295.6" stroke="#50dde2" stroke-width="1.8"/><path d="M1070.8,295.6L1073.7,295.2" stroke="#42caec" stroke-width="1.9"/><path d="M1073.7,295.2L1076.5,295" stroke="#3aaeed" stroke-width="2.0"/><path d="M1076.5,295L1079.3,295.1" stroke="#3394ee" stroke-width="2.0"/><path d="M1079.3,295.1L1082.2,295.5" stroke="#2b7aef" stroke-width="2.1"/><path d="M1082.2,295.5L1085,296.2" stroke="#2666ef" stroke-width="2.1"/><path d="M1085,296.2L1088,297" stroke="#2357ee" stroke-width="2.2"/><path d="M1088,297L1091,298.2" stroke="#2254ee" stroke-width="2.2"/><path d="M1091,298.2L1094.2,299.5" stroke="#2252ee" stroke-width="2.2"/><path d="M1094.2,299.5L1097.5,301" stroke="#214fee" stroke-width="2.2"/><path d="M1097.5,301L1101,302.6" stroke="#214dee" stroke-width="2.2"/><path d="M1101,302.6L1104.5,304.4" stroke="#204aed" stroke-width="2.2"/><path d="M1104.5,304.4L1108.2,306.4" stroke="#2049ed" stroke-width="2.2"/><path d="M1108.2,306.4L1111.8,308.8" stroke="#2047ed" stroke-width="2.2"/><path d="M1111.8,308.8L1115.5,311.7" stroke="#2047ed" stroke-width="2.2"/><path d="M1115.5,311.7L1119.2,315" stroke="#2048ed" stroke-width="2.2"/><path d="M1119.2,315L1122.8,319" stroke="#2049ed" stroke-width="2.2"/><path d="M1122.8,319L1126.6,324.1" stroke="#214cee" stroke-width="2.2"/><path d="M1126.6,324.1L1130.6,330.4" stroke="#2251ee" stroke-width="2.2"/><path d="M1130.6,330.4L1134.8,337.5" stroke="#2357ee" stroke-width="2.2"/><path d="M1134.8,337.5L1138.9,344.9" stroke="#2768f0" stroke-width="2.0"/><path d="M1138.9,344.9L1142.8,352.2" stroke="#359aee" stroke-width="1.8"/><path d="M1142.8,352.2L1146.3,358.8" stroke="#4bdae7" stroke-width="1.5"/><path d="M1146.3,358.8L1149.2,364.4" stroke="#79efb6" stroke-width="1.3"/><path d="M1149.2,364.4L1151.4,368.4" stroke="#b9ec53" stroke-width="1.1"/><path d="M1024,308.6L1025.4,307.3" stroke="#e75c1c" stroke-width="1.0"/><path d="M1025.4,307.3L1027.4,305.4" stroke="#f0a223" stroke-width="1.2"/><path d="M1027.4,305.4L1029.7,303.1" stroke="#e3d32e" stroke-width="1.4"/><path d="M1029.7,303.1L1032.2,300.7" stroke="#c6eb3f" stroke-width="1.6"/><path d="M1032.2,300.7L1034.9,298.3" stroke="#8fee95" stroke-width="1.7"/><path d="M1034.9,298.3L1037.5,296.1" stroke="#64ead1" stroke-width="1.9"/><path d="M1037.5,296.1L1040,294.2" stroke="#4bdae7" stroke-width="2.0"/><path d="M1040,294.2L1042.2,293" stroke="#3ebaec" stroke-width="2.1"/><path d="M1042.2,293L1044.1,292.2" stroke="#369eee" stroke-width="2.2"/><path d="M1044.1,292.2L1045.9,291.7" stroke="#2f86ef" stroke-width="2.2"/><path d="M1045.9,291.7L1047.5,291.4" stroke="#2971f0" stroke-width="2.3"/><path d="M1047.5,291.4L1049.1,291.5" stroke="#2665ef" stroke-width="2.3"/><path d="M1049.1,291.5L1050.7,291.7" stroke="#245bef" stroke-width="2.4"/><path d="M1050.7,291.7L1052.5,292.3" stroke="#2150ee" stroke-width="2.4"/><path d="M1052.5,292.3L1054.4,293.2" stroke="#1f43ed" stroke-width="2.5"/><path d="M1054.4,293.2L1056.5,294.3" stroke="#1c36ec" stroke-width="2.5"/><path d="M1056.5,294.3L1058.9,295.7" stroke="#1927e8" stroke-width="2.6"/><path d="M1058.9,295.7L1061.5,297.3" stroke="#1b20d1" stroke-width="2.7"/><path d="M1061.5,297.3L1064.3,299.1" stroke="#1c1dc8" stroke-width="2.7"/><path d="M1064.3,299.1L1067.1,301.2" stroke="#1c1cc4" stroke-width="2.7"/><path d="M1067.1,301.2L1070.1,303.7" stroke="#1c1bc0" stroke-width="2.7"/><path d="M1070.1,303.7L1073,306.6" stroke="#1d1abd" stroke-width="2.7"/><path d="M1073,306.6L1075.8,309.9" stroke="#1d19b9" stroke-width="2.7"/><path d="M1075.8,309.9L1078.6,313.8" stroke="#1d18b7" stroke-width="2.7"/><path d="M1078.6,313.8L1081.4,318.5" stroke="#1d17b5" stroke-width="2.7"/><path d="M1081.4,318.5L1084.2,324.1" stroke="#1d17b5" stroke-width="2.7"/><path d="M1084.2,324.1L1087.1,330.3" stroke="#1d18b7" stroke-width="2.7"/><path d="M1087.1,330.3L1089.9,336.8" stroke="#1d19bb" stroke-width="2.7"/><path d="M1089.9,336.8L1092.6,343.4" stroke="#1c1bc2" stroke-width="2.7"/><path d="M1092.6,343.4L1095.1,349.7" stroke="#1c1ec9" stroke-width="2.7"/><path d="M1095.1,349.7L1097.4,355.6" stroke="#1b22d6" stroke-width="2.6"/><path d="M1097.4,355.6L1099.4,360.6" stroke="#1a2beb" stroke-width="2.4"/><path d="M1099.4,360.6L1101.1,365" stroke="#1e41ed" stroke-width="2.1"/><path d="M1101.1,365L1102.4,369.2" stroke="#2358ee" stroke-width="1.9"/><path d="M1102.4,369.2L1103.6,373" stroke="#2972f0" stroke-width="1.7"/><path d="M1103.6,373L1104.6,376.5" stroke="#369dee" stroke-width="1.6"/><path d="M1104.6,376.5L1105.4,379.7" stroke="#42c8ec" stroke-width="1.4"/><path d="M1105.4,379.7L1106.1,382.4" stroke="#54e0df" stroke-width="1.3"/><path d="M1106.1,382.4L1106.7,384.7" stroke="#68edcd" stroke-width="1.1"/><path d="M1106.7,384.7L1107.2,386.6" stroke="#83efa8" stroke-width="1.0"/><path d="M1008.4,326.8L1009.2,325.9" stroke="#e34f1b" stroke-width="0.9"/><path d="M1009.2,325.9L1010.3,324.5" stroke="#f0831f" stroke-width="1.1"/><path d="M1010.3,324.5L1011.6,322.9" stroke="#f0b726" stroke-width="1.2"/><path d="M1011.6,322.9L1013,321.2" stroke="#e2d42f" stroke-width="1.3"/><path d="M1013,321.2L1014.5,319.5" stroke="#cee639" stroke-width="1.4"/><path d="M1014.5,319.5L1016,318.1" stroke="#b0ec61" stroke-width="1.5"/><path d="M1016,318.1L1017.5,317" stroke="#91ee91" stroke-width="1.6"/><path d="M1017.5,317L1018.8,316.4" stroke="#79efb7" stroke-width="1.7"/><path d="M1018.8,316.4L1020,316.3" stroke="#69edcc" stroke-width="1.7"/><path d="M1020,316.3L1021.1,316.5" stroke="#60e7d5" stroke-width="1.8"/><path d="M1021.1,316.5L1022.2,316.9" stroke="#56e1dd" stroke-width="1.8"/><path d="M1022.2,316.9L1023.3,317.6" stroke="#4cdbe5" stroke-width="1.8"/><path d="M1023.3,317.6L1024.4,318.6" stroke="#44d0eb" stroke-width="1.9"/><path d="M1024.4,318.6L1025.5,319.8" stroke="#3ebbec" stroke-width="1.9"/><path d="M1025.5,319.8L1026.6,321.2" stroke="#37a4ed" stroke-width="2.0"/><path d="M1026.6,321.2L1027.9,322.9" stroke="#308bef" stroke-width="2.0"/><path d="M1027.9,322.9L1029.2,324.7" stroke="#2970f0" stroke-width="2.1"/><path d="M1029.2,324.7L1030.7,326.6" stroke="#255fef" stroke-width="2.2"/><path d="M1030.7,326.6L1032.2,328.7" stroke="#2355ee" stroke-width="2.2"/><path d="M1032.2,328.7L1033.7,331.1" stroke="#2252ee" stroke-width="2.2"/><path d="M1033.7,331.1L1035.2,333.8" stroke="#214fee" stroke-width="2.2"/><path d="M1035.2,333.8L1036.7,337" stroke="#214cee" stroke-width="2.2"/><path d="M1036.7,337L1038.2,340.7" stroke="#204aed" stroke-width="2.2"/><path d="M1038.2,340.7L1039.6,345" stroke="#2048ed" stroke-width="2.2"/><path d="M1039.6,345L1041,350.4" stroke="#2047ed" stroke-width="2.2"/><path d="M1041,350.4L1042.5,357.1" stroke="#2049ed" stroke-width="2.2"/><path d="M1042.5,357.1L1044.1,364.6" stroke="#214fee" stroke-width="2.2"/><path d="M1044.1,364.6L1045.5,372.4" stroke="#2357ee" stroke-width="2.2"/><path d="M1045.5,372.4L1046.9,380" stroke="#286ef0" stroke-width="2.0"/><path d="M1046.9,380L1048.2,387" stroke="#3eb9ec" stroke-width="1.6"/><path d="M1048.2,387L1049.2,392.8" stroke="#67ecce" stroke-width="1.3"/><path d="M1049.2,392.8L1050,397" stroke="#b1ec5f" stroke-width="1.1"/><path d="M986.3,293L986.5,291.3" stroke="#e4521c" stroke-width="1.0"/><path d="M986.5,291.3L986.8,289" stroke="#f08a20" stroke-width="1.1"/><path d="M986.8,289L987.1,286.2" stroke="#f0c227" stroke-width="1.3"/><path d="M987.1,286.2L987.5,283.1" stroke="#dcd932" stroke-width="1.4"/><path d="M987.5,283.1L987.9,280" stroke="#c6eb40" stroke-width="1.6"/><path d="M987.9,280L988.3,277" stroke="#9ded7f" stroke-width="1.7"/><path d="M988.3,277L988.6,274.3" stroke="#7aefb5" stroke-width="1.8"/><path d="M988.6,274.3L988.9,272.2" stroke="#65ead0" stroke-width="1.9"/><path d="M988.9,272.2L989.1,270.4" stroke="#58e2db" stroke-width="1.9"/><path d="M989.1,270.4L989.2,268.6" stroke="#4cdbe6" stroke-width="2.0"/><path d="M989.2,268.6L989.3,267" stroke="#44cfeb" stroke-width="2.0"/><path d="M989.3,267L989.4,265.5" stroke="#3fbfec" stroke-width="2.1"/><path d="M989.4,265.5L989.5,264.5" stroke="#3bb1ed" stroke-width="2.1"/><path d="M989.5,264.5L989.6,263.9" stroke="#39a8ed" stroke-width="2.1"/><path d="M989.6,263.9L989.9,263.8" stroke="#37a4ed" stroke-width="2.1"/><path d="M989.9,263.8L990.2,264.4" stroke="#369fee" stroke-width="2.1"/><path d="M990.2,264.4L990.7,265.8" stroke="#3394ee" stroke-width="2.2"/><path d="M990.7,265.8L991.3,268.1" stroke="#2d81ef" stroke-width="2.2"/><path d="M991.3,268.1L992,270.9" stroke="#276af0" stroke-width="2.3"/><path d="M992,270.9L992.7,274.1" stroke="#2459ef" stroke-width="2.4"/><path d="M992.7,274.1L993.5,277.7" stroke="#2047ed" stroke-width="2.5"/><path d="M993.5,277.7L994.2,281.2" stroke="#1c35ec" stroke-width="2.5"/><path d="M994.2,281.2L994.8,284.7" stroke="#1a26e4" stroke-width="2.6"/><path d="M994.8,284.7L995.4,287.8" stroke="#1b1fcd" stroke-width="2.7"/><path d="M995.4,287.8L995.8,290.6" stroke="#1c1dc8" stroke-width="2.7"/><path d="M995.8,290.6L996.2,293.1" stroke="#1c1dc6" stroke-width="2.7"/><path d="M996.2,293.1L996.5,295.5" stroke="#1c1cc3" stroke-width="2.7"/><path d="M996.5,295.5L996.8,298" stroke="#1c1bc1" stroke-width="2.7"/><path d="M996.8,298L997,300.7" stroke="#1c1bbf" stroke-width="2.7"/><path d="M997,300.7L997.3,303.7" stroke="#1d1abd" stroke-width="2.7"/><path d="M997.3,303.7L997.6,307.2" stroke="#1d19bb" stroke-width="2.7"/><path d="M997.6,307.2L998,311.2" stroke="#1d19b9" stroke-width="2.7"/><path d="M998,311.2L998.4,315.9" stroke="#1d18b7" stroke-width="2.7"/><path d="M998.4,315.9L998.9,321.1" stroke="#1d17b5" stroke-width="2.7"/><path d="M998.9,321.1L999.5,326.8" stroke="#1d17b5" stroke-width="2.7"/><path d="M999.5,326.8L1000,332.8" stroke="#1d18b6" stroke-width="2.7"/><path d="M1000,332.8L1000.6,339" stroke="#1d18b8" stroke-width="2.7"/><path d="M1000.6,339L1001.1,345.4" stroke="#1d19bb" stroke-width="2.7"/><path d="M1001.1,345.4L1001.5,351.7" stroke="#1c1bc0" stroke-width="2.7"/><path d="M1001.5,351.7L1001.9,358" stroke="#1c1cc5" stroke-width="2.7"/><path d="M1001.9,358L1002.2,364.6" stroke="#1b1ecb" stroke-width="2.7"/><path d="M1002.2,364.6L1002.4,371.9" stroke="#1a22d8" stroke-width="2.6"/><path d="M1002.4,371.9L1002.6,379.4" stroke="#1a2deb" stroke-width="2.3"/><path d="M1002.6,379.4L1002.8,386.9" stroke="#2047ed" stroke-width="2.0"/><path d="M1002.8,386.9L1002.9,394.1" stroke="#2666ef" stroke-width="1.7"/><path d="M1002.9,394.1L1003,400.5" stroke="#359cee" stroke-width="1.5"/><path d="M1003,400.5L1003.1,406" stroke="#45d5eb" stroke-width="1.3"/><path d="M1003.1,406L1003.2,410" stroke="#61e8d3" stroke-width="1.1"/><path d="M983.7,311.2L983.8,311.8" stroke="#df411b" stroke-width="0.9"/><path d="M983.8,311.8L983.8,312.5" stroke="#e9601d" stroke-width="1.0"/><path d="M983.8,312.5L983.9,313.3" stroke="#f07d1f" stroke-width="1.1"/><path d="M983.9,313.3L984.1,314.2" stroke="#f09922" stroke-width="1.1"/><path d="M984.1,314.2L984.2,315.3" stroke="#f0b826" stroke-width="1.2"/><path d="M984.2,315.3L984.3,316.7" stroke="#e8cf2c" stroke-width="1.3"/><path d="M984.3,316.7L984.4,318.4" stroke="#d9dc33" stroke-width="1.4"/><path d="M984.4,318.4L984.5,320.3" stroke="#c8eb3c" stroke-width="1.5"/><path d="M984.5,320.3L984.6,322.6" stroke="#a1ed79" stroke-width="1.6"/><path d="M984.6,322.6L984.6,325.3" stroke="#76f0bc" stroke-width="1.7"/><path d="M984.6,325.3L984.7,328.4" stroke="#58e2db" stroke-width="1.8"/><path d="M984.7,328.4L984.7,331.6" stroke="#41c6ec" stroke-width="1.9"/><path d="M984.7,331.6L984.8,335" stroke="#3396ee" stroke-width="2.0"/><path d="M984.8,335L984.9,338.4" stroke="#276af0" stroke-width="2.1"/><path d="M984.9,338.4L984.9,341.7" stroke="#2356ee" stroke-width="2.2"/><path d="M984.9,341.7L985,345" stroke="#2252ee" stroke-width="2.2"/><path d="M985,345L985.1,348.1" stroke="#214eee" stroke-width="2.2"/><path d="M985.1,348.1L985.2,351.2" stroke="#214bee" stroke-width="2.2"/><path d="M985.2,351.2L985.3,354.3" stroke="#2049ed" stroke-width="2.2"/><path d="M985.3,354.3L985.4,357.4" stroke="#2048ed" stroke-width="2.2"/><path d="M985.4,357.4L985.5,360.6" stroke="#2047ed" stroke-width="2.2"/><path d="M985.5,360.6L985.6,363.9" stroke="#2048ed" stroke-width="2.2"/><path d="M985.6,363.9L985.7,367.4" stroke="#2049ed" stroke-width="2.2"/><path d="M985.7,367.4L985.8,371" stroke="#214cee" stroke-width="2.2"/><path d="M985.8,371L985.9,375.1" stroke="#2250ee" stroke-width="2.2"/><path d="M985.9,375.1L985.9,379.7" stroke="#2355ee" stroke-width="2.2"/><path d="M985.9,379.7L986,384.6" stroke="#2560ef" stroke-width="2.2"/><path d="M986,384.6L986.1,389.5" stroke="#308aef" stroke-width="1.9"/><path d="M986.1,389.5L986.2,394.3" stroke="#45d4eb" stroke-width="1.7"/><path d="M986.2,394.3L986.2,398.5" stroke="#7befb4" stroke-width="1.4"/><path d="M986.2,398.5L986.3,402.1" stroke="#cce73a" stroke-width="1.2"/><path d="M986.3,402.1L986.3,404.8" stroke="#f0c728" stroke-width="1.1"/><path d="M955.1,313.8L954.2,312.7" stroke="#e5541c" stroke-width="1.0"/><path d="M954.2,312.7L953,311.2" stroke="#f08e21" stroke-width="1.1"/><path d="M953,311.2L951.6,309.4" stroke="#f0c728" stroke-width="1.3"/><path d="M951.6,309.4L950.1,307.4" stroke="#d9dc34" stroke-width="1.5"/><path d="M950.1,307.4L948.4,305.4" stroke="#bdec4d" stroke-width="1.6"/><path d="M948.4,305.4L946.7,303.5" stroke="#93ee8f" stroke-width="1.7"/><path d="M946.7,303.5L945,302" stroke="#6df0c9" stroke-width="1.8"/><path d="M945,302L943.4,300.8" stroke="#5be4d9" stroke-width="1.9"/><path d="M943.4,300.8L941.9,299.8" stroke="#4bdae6" stroke-width="2.0"/><path d="M941.9,299.8L940.4,298.9" stroke="#41c7ec" stroke-width="2.0"/><path d="M940.4,298.9L938.8,298" stroke="#3bafed" stroke-width="2.1"/><path d="M938.8,298L937.3,297.3" stroke="#3498ee" stroke-width="2.2"/><path d="M937.3,297.3L935.7,297" stroke="#2e82ef" stroke-width="2.2"/><path d="M935.7,297L934,297.2" stroke="#286ef0" stroke-width="2.3"/><path d="M934,297.2L932.3,298" stroke="#2561ef" stroke-width="2.3"/><path d="M932.3,298L930.4,299.5" stroke="#2252ee" stroke-width="2.4"/><path d="M930.4,299.5L928.3,301.9" stroke="#1e3fed" stroke-width="2.5"/><path d="M928.3,301.9L926.1,305.1" stroke="#1928eb" stroke-width="2.6"/><path d="M926.1,305.1L923.7,308.9" stroke="#1c1eca" stroke-width="2.7"/><path d="M923.7,308.9L921.3,313.2" stroke="#1c1cc4" stroke-width="2.7"/><path d="M921.3,313.2L918.9,317.9" stroke="#1c1abf" stroke-width="2.7"/><path d="M918.9,317.9L916.5,322.6" stroke="#1d19ba" stroke-width="2.7"/><path d="M916.5,322.6L914.3,327.4" stroke="#1d18b7" stroke-width="2.7"/><path d="M914.3,327.4L912.2,332" stroke="#1d17b5" stroke-width="2.7"/><path d="M912.2,332L910.3,336.7" stroke="#1d17b5" stroke-width="2.7"/><path d="M910.3,336.7L908.4,341.6" stroke="#1d18b7" stroke-width="2.7"/><path d="M908.4,341.6L906.5,346.7" stroke="#1d19ba" stroke-width="2.7"/><path d="M906.5,346.7L904.8,351.9" stroke="#1c1abf" stroke-width="2.7"/><path d="M904.8,351.9L903.2,357" stroke="#1c1cc5" stroke-width="2.7"/><path d="M903.2,357L901.7,362" stroke="#1b1ecb" stroke-width="2.7"/><path d="M901.7,362L900.4,366.7" stroke="#1a22d9" stroke-width="2.6"/><path d="M900.4,366.7L899.2,371" stroke="#1a2deb" stroke-width="2.4"/><path d="M899.2,371L898.3,375" stroke="#1f43ed" stroke-width="2.2"/><path d="M898.3,375L897.5,379" stroke="#245cef" stroke-width="2.0"/><path d="M897.5,379L896.9,382.8" stroke="#2d81ef" stroke-width="1.8"/><path d="M896.9,382.8L896.4,386.4" stroke="#3cb5ed" stroke-width="1.6"/><path d="M896.4,386.4L896.1,389.7" stroke="#51dee1" stroke-width="1.4"/><path d="M896.1,389.7L895.8,392.6" stroke="#6ff0c7" stroke-width="1.3"/><path d="M895.8,392.6L895.5,395.1" stroke="#9ded7f" stroke-width="1.2"/><path d="M895.5,395.1L895.3,397" stroke="#c4eb42" stroke-width="1.0"/><path d="M917.4,308.6L915.4,307.1" stroke="#e5561c" stroke-width="1.0"/><path d="M915.4,307.1L912.8,304.9" stroke="#f09321" stroke-width="1.1"/><path d="M912.8,304.9L909.7,302.3" stroke="#edcb29" stroke-width="1.3"/><path d="M909.7,302.3L906.2,299.5" stroke="#d5e036" stroke-width="1.4"/><path d="M906.2,299.5L902.5,296.7" stroke="#b2ec5f" stroke-width="1.5"/><path d="M902.5,296.7L898.7,294.1" stroke="#84efa5" stroke-width="1.6"/><path d="M898.7,294.1L895,291.9" stroke="#63e9d1" stroke-width="1.7"/><path d="M895,291.9L891.4,290.4" stroke="#4fdce3" stroke-width="1.8"/><path d="M891.4,290.4L888,289.4" stroke="#41c7ec" stroke-width="1.9"/><path d="M888,289.4L884.6,288.7" stroke="#39aaed" stroke-width="2.0"/><path d="M884.6,288.7L881.1,288.3" stroke="#318eee" stroke-width="2.0"/><path d="M881.1,288.3L877.6,288.1" stroke="#2972f0" stroke-width="2.1"/><path d="M877.6,288.1L874,288.3" stroke="#2561ef" stroke-width="2.2"/><path d="M874,288.3L870.4,288.7" stroke="#2356ee" stroke-width="2.2"/><path d="M870.4,288.7L866.6,289.4" stroke="#2253ee" stroke-width="2.2"/><path d="M866.6,289.4L862.8,290.4" stroke="#2251ee" stroke-width="2.2"/><path d="M862.8,290.4L858.8,291.7" stroke="#214eee" stroke-width="2.2"/><path d="M858.8,291.7L854.6,293.2" stroke="#214cee" stroke-width="2.2"/><path d="M854.6,293.2L850.3,295.1" stroke="#204aed" stroke-width="2.2"/><path d="M850.3,295.1L845.9,297.2" stroke="#2048ed" stroke-width="2.2"/><path d="M845.9,297.2L841.5,299.6" stroke="#2047ed" stroke-width="2.2"/><path d="M841.5,299.6L837.2,302.3" stroke="#2047ed" stroke-width="2.2"/><path d="M837.2,302.3L833,305.3" stroke="#2048ed" stroke-width="2.2"/><path d="M833,305.3L829,308.6" stroke="#2049ed" stroke-width="2.2"/><path d="M829,308.6L825,312.4" stroke="#214bee" stroke-width="2.2"/><path d="M825,312.4L820.9,316.8" stroke="#214eee" stroke-width="2.2"/><path d="M820.9,316.8L816.9,321.6" stroke="#2252ee" stroke-width="2.2"/><path d="M816.9,321.6L812.9,326.6" stroke="#2357ee" stroke-width="2.2"/><path d="M812.9,326.6L809.2,331.7" stroke="#255fef" stroke-width="2.2"/><path d="M809.2,331.7L805.8,336.6" stroke="#2972f0" stroke-width="2.0"/><path d="M805.8,336.6L802.8,341.1" stroke="#3498ee" stroke-width="1.8"/><path d="M802.8,341.1L800.4,345" stroke="#40c1ec" stroke-width="1.7"/><path d="M800.4,345L798.6,348.5" stroke="#50dde2" stroke-width="1.6"/><path d="M798.6,348.5L797.3,351.8" stroke="#65ead0" stroke-width="1.5"/><path d="M797.3,351.8L796.5,354.9" stroke="#82efa8" stroke-width="1.4"/><path d="M796.5,354.9L796,357.7" stroke="#a4ed74" stroke-width="1.3"/><path d="M796,357.7L795.7,360.2" stroke="#c4eb42" stroke-width="1.2"/><path d="M795.7,360.2L795.6,362.4" stroke="#d4e036" stroke-width="1.1"/><path d="M795.6,362.4L795.4,364.3" stroke="#e1d530" stroke-width="1.1"/><path d="M795.4,364.3L795.2,365.8" stroke="#ebcc2a" stroke-width="1.0"/><path d="M912.2,290.4L909.8,288" stroke="#e75b1c" stroke-width="1.0"/><path d="M909.8,288L906.5,284.7" stroke="#f0a023" stroke-width="1.1"/><path d="M906.5,284.7L902.7,280.8" stroke="#e5d22e" stroke-width="1.3"/><path d="M902.7,280.8L898.4,276.5" stroke="#c9ea3b" stroke-width="1.5"/><path d="M898.4,276.5L893.9,272.2" stroke="#95ee8b" stroke-width="1.6"/><path d="M893.9,272.2L889.3,268.1" stroke="#68ecce" stroke-width="1.7"/><path d="M889.3,268.1L885,264.5" stroke="#4edce4" stroke-width="1.8"/><path d="M885,264.5L881,261.8" stroke="#3fbfec" stroke-width="1.9"/><path d="M881,261.8L877.4,259.8" stroke="#369fee" stroke-width="2.0"/><path d="M877.4,259.8L874,258.1" stroke="#2e84ef" stroke-width="2.1"/><path d="M874,258.1L870.7,256.7" stroke="#286cf0" stroke-width="2.1"/><path d="M870.7,256.7L867.3,255.7" stroke="#255fef" stroke-width="2.2"/><path d="M867.3,255.7L864,255.1" stroke="#2356ee" stroke-width="2.2"/><path d="M864,255.1L860.4,254.8" stroke="#2254ee" stroke-width="2.2"/><path d="M860.4,254.8L856.6,254.8" stroke="#2252ee" stroke-width="2.2"/><path d="M856.6,254.8L852.4,255.3" stroke="#2150ee" stroke-width="2.2"/><path d="M852.4,255.3L847.8,256.3" stroke="#214dee" stroke-width="2.2"/><path d="M847.8,256.3L842.9,257.8" stroke="#214bee" stroke-width="2.2"/><path d="M842.9,257.8L837.7,259.9" stroke="#2049ed" stroke-width="2.2"/><path d="M837.7,259.9L832.3,262.2" stroke="#2048ed" stroke-width="2.2"/><path d="M832.3,262.2L826.9,264.7" stroke="#2047ed" stroke-width="2.2"/><path d="M826.9,264.7L821.4,267.3" stroke="#2047ed" stroke-width="2.2"/><path d="M821.4,267.3L816,269.9" stroke="#2048ed" stroke-width="2.2"/><path d="M816,269.9L810.8,272.2" stroke="#204aed" stroke-width="2.2"/><path d="M810.8,272.2L805.5,274.4" stroke="#214cee" stroke-width="2.2"/><path d="M805.5,274.4L800.1,276.5" stroke="#214fee" stroke-width="2.2"/><path d="M800.1,276.5L794.6,278.6" stroke="#2252ee" stroke-width="2.2"/><path d="M794.6,278.6L789.2,280.7" stroke="#2356ee" stroke-width="2.2"/><path d="M789.2,280.7L783.9,282.9" stroke="#2459ef" stroke-width="2.2"/><path d="M783.9,282.9L779,285.3" stroke="#2562ef" stroke-width="2.1"/><path d="M779,285.3L774.5,287.7" stroke="#286df0" stroke-width="2.0"/><path d="M774.5,287.7L770.5,290.4" stroke="#2e85ef" stroke-width="1.9"/><path d="M770.5,290.4L767,293.5" stroke="#369fee" stroke-width="1.7"/><path d="M767,293.5L764,297" stroke="#3ebcec" stroke-width="1.6"/><path d="M764,297L761.3,300.7" stroke="#49d9e9" stroke-width="1.5"/><path d="M761.3,300.7L758.9,304.5" stroke="#5ce5d8" stroke-width="1.4"/><path d="M758.9,304.5L756.8,308.2" stroke="#71f0c3" stroke-width="1.3"/><path d="M756.8,308.2L755.1,311.5" stroke="#93ee8f" stroke-width="1.2"/><path d="M755.1,311.5L753.6,314.3" stroke="#b1ec60" stroke-width="1.1"/><path d="M753.6,314.3L752.3,316.4" stroke="#c9ea3b" stroke-width="1.0"/><path d="M944.7,293L942.9,289.8" stroke="#e8601c" stroke-width="1.0"/><path d="M942.9,289.8L940.5,285.3" stroke="#f0ab24" stroke-width="1.2"/><path d="M940.5,285.3L937.7,279.9" stroke="#ddd831" stroke-width="1.4"/><path d="M937.7,279.9L934.5,274.1" stroke="#b6ec59" stroke-width="1.6"/><path d="M934.5,274.1L931.3,268.1" stroke="#7befb4" stroke-width="1.8"/><path d="M931.3,268.1L928.1,262.6" stroke="#56e1dd" stroke-width="1.9"/><path d="M928.1,262.6L925.1,257.7" stroke="#41c5ec" stroke-width="2.0"/><path d="M925.1,257.7L922.6,254" stroke="#369fee" stroke-width="2.1"/><path d="M922.6,254L920.5,251.4" stroke="#2e83ef" stroke-width="2.2"/><path d="M920.5,251.4L918.8,249.4" stroke="#286ef0" stroke-width="2.3"/><path d="M918.8,249.4L917.2,247.9" stroke="#2665ef" stroke-width="2.3"/><path d="M917.2,247.9L915.8,246.9" stroke="#255eef" stroke-width="2.4"/><path d="M915.8,246.9L914.3,246.2" stroke="#2357ee" stroke-width="2.4"/><path d="M914.3,246.2L912.6,245.7" stroke="#2251ee" stroke-width="2.4"/><path d="M912.6,245.7L910.7,245.3" stroke="#204aed" stroke-width="2.4"/><path d="M910.7,245.3L908.3,244.9" stroke="#1f42ed" stroke-width="2.5"/><path d="M908.3,244.9L905.6,244.4" stroke="#1d39ec" stroke-width="2.5"/><path d="M905.6,244.4L902.8,243.9" stroke="#1b2fec" stroke-width="2.6"/><path d="M902.8,243.9L899.8,243.6" stroke="#1927e7" stroke-width="2.6"/><path d="M899.8,243.6L896.5,243.4" stroke="#1a22d8" stroke-width="2.7"/><path d="M896.5,243.4L893,243.5" stroke="#1c1eca" stroke-width="2.7"/><path d="M893,243.5L889.3,244" stroke="#1c1dc8" stroke-width="2.7"/><path d="M889.3,244L885.3,244.8" stroke="#1c1cc5" stroke-width="2.7"/><path d="M885.3,244.8L881,246.2" stroke="#1c1cc3" stroke-width="2.7"/><path d="M881,246.2L876.2,248.1" stroke="#1c1bc0" stroke-width="2.7"/><path d="M876.2,248.1L870.7,250.6" stroke="#1d1abd" stroke-width="2.7"/><path d="M870.7,250.6L864.9,253.5" stroke="#1d19ba" stroke-width="2.7"/><path d="M864.9,253.5L858.8,256.8" stroke="#1d18b8" stroke-width="2.7"/><path d="M858.8,256.8L852.8,260.2" stroke="#1d18b6" stroke-width="2.7"/><path d="M852.8,260.2L847,263.8" stroke="#1d17b5" stroke-width="2.7"/><path d="M847,263.8L841.6,267.4" stroke="#1d17b5" stroke-width="2.7"/><path d="M841.6,267.4L836.8,270.9" stroke="#1d18b6" stroke-width="2.7"/><path d="M836.8,270.9L832.6,274.3" stroke="#1d18b7" stroke-width="2.7"/><path d="M832.6,274.3L828.9,277.6" stroke="#1d19b9" stroke-width="2.7"/><path d="M828.9,277.6L825.5,280.9" stroke="#1d19bb" stroke-width="2.7"/><path d="M825.5,280.9L822.3,284.3" stroke="#1d1abd" stroke-width="2.7"/><path d="M822.3,284.3L819.4,287.9" stroke="#1c1bbf" stroke-width="2.7"/><path d="M819.4,287.9L816.5,291.8" stroke="#1c1bc2" stroke-width="2.7"/><path d="M816.5,291.8L813.7,296.1" stroke="#1c1cc5" stroke-width="2.7"/><path d="M813.7,296.1L810.8,300.8" stroke="#1c1dc9" stroke-width="2.7"/><path d="M810.8,300.8L807.8,306.3" stroke="#1b1fcd" stroke-width="2.7"/><path d="M807.8,306.3L804.8,312.5" stroke="#1a23da" stroke-width="2.7"/><path d="M804.8,312.5L801.8,319.3" stroke="#1a2deb" stroke-width="2.5"/><path d="M801.8,319.3L798.9,326.3" stroke="#1f44ed" stroke-width="2.3"/><path d="M798.9,326.3L796.1,333.2" stroke="#2560ef" stroke-width="2.1"/><path d="M796.1,333.2L793.7,339.7" stroke="#318cef" stroke-width="1.9"/><path d="M793.7,339.7L791.6,345.4" stroke="#41c5ec" stroke-width="1.7"/><path d="M791.6,345.4L790,350.2" stroke="#59e3da" stroke-width="1.5"/><path d="M790,350.2L788.9,354" stroke="#76f0bb" stroke-width="1.4"/><path d="M788.9,354L788.3,357.1" stroke="#9bee83" stroke-width="1.3"/><path d="M788.3,357.1L788,359.7" stroke="#b9ec53" stroke-width="1.2"/><path d="M788,359.7L788,361.7" stroke="#cde73a" stroke-width="1.2"/><path d="M788,361.7L788.2,363.4" stroke="#d7de35" stroke-width="1.1"/><path d="M788.2,363.4L788.5,364.8" stroke="#dfd730" stroke-width="1.1"/><path d="M788.5,364.8L788.7,366" stroke="#e7d02d" stroke-width="1.0"/><path d="M788.7,366L788.7,367.1" stroke="#edcb2a" stroke-width="1.0"/><path d="M891.4,267L889,264" stroke="#ea661d" stroke-width="1.0"/><path d="M889,264L885.9,259.8" stroke="#f0b826" stroke-width="1.2"/><path d="M885.9,259.8L882.2,254.8" stroke="#d5e036" stroke-width="1.4"/><path d="M882.2,254.8L878,249.4" stroke="#9eed7e" stroke-width="1.6"/><path d="M878,249.4L873.6,243.9" stroke="#64ead1" stroke-width="1.7"/><path d="M873.6,243.9L869,238.6" stroke="#43ceeb" stroke-width="1.9"/><path d="M869,238.6L864.5,234.1" stroke="#3497ee" stroke-width="2.0"/><path d="M864.5,234.1L860.2,230.6" stroke="#276bf0" stroke-width="2.1"/><path d="M860.2,230.6L856,228" stroke="#2356ee" stroke-width="2.2"/><path d="M856,228L851.7,226" stroke="#2253ee" stroke-width="2.2"/><path d="M851.7,226L847.3,224.4" stroke="#2250ee" stroke-width="2.2"/><path d="M847.3,224.4L842.9,223.2" stroke="#214dee" stroke-width="2.2"/><path d="M842.9,223.2L838.4,222.4" stroke="#204bed" stroke-width="2.2"/><path d="M838.4,222.4L834,221.9" stroke="#2049ed" stroke-width="2.2"/><path d="M834,221.9L829.5,221.6" stroke="#2048ed" stroke-width="2.2"/><path d="M829.5,221.6L825.1,221.5" stroke="#2047ed" stroke-width="2.2"/><path d="M825.1,221.5L820.7,221.7" stroke="#2047ed" stroke-width="2.2"/><path d="M820.7,221.7L816.4,222.1" stroke="#2048ed" stroke-width="2.2"/><path d="M816.4,222.1L812.1,222.8" stroke="#2049ed" stroke-width="2.2"/><path d="M812.1,222.8L807.7,223.9" stroke="#204aed" stroke-width="2.2"/><path d="M807.7,223.9L803.4,225.1" stroke="#214dee" stroke-width="2.2"/><path d="M803.4,225.1L799,226.7" stroke="#214fee" stroke-width="2.2"/><path d="M799,226.7L794.5,228.5" stroke="#2252ee" stroke-width="2.2"/><path d="M794.5,228.5L790,230.6" stroke="#2356ee" stroke-width="2.2"/><path d="M790,230.6L785.2,233.2" stroke="#245bef" stroke-width="2.2"/><path d="M785.2,233.2L779.9,236.5" stroke="#276bf0" stroke-width="2.1"/><path d="M779.9,236.5L774.4,240.3" stroke="#3497ee" stroke-width="1.9"/><path d="M774.4,240.3L769,244.2" stroke="#45d5eb" stroke-width="1.7"/><path d="M769,244.2L763.8,248" stroke="#6ff0c7" stroke-width="1.5"/><path d="M763.8,248L759.1,251.5" stroke="#bcec4f" stroke-width="1.3"/><path d="M759.1,251.5L755.2,254.5" stroke="#e6d12d" stroke-width="1.2"/><path d="M755.2,254.5L752.3,256.6" stroke="#f09822" stroke-width="1.1"/><path d="M925.2,264.4L922.9,261.2" stroke="#ea631d" stroke-width="1.0"/><path d="M922.9,261.2L919.9,256.8" stroke="#f0b325" stroke-width="1.2"/><path d="M919.9,256.8L916.2,251.5" stroke="#d8dd34" stroke-width="1.5"/><path d="M916.2,251.5L912.2,245.8" stroke="#a6ed70" stroke-width="1.7"/><path d="M912.2,245.8L908,239.9" stroke="#6aeecb" stroke-width="1.8"/><path d="M908,239.9L903.9,234.3" stroke="#49d9e9" stroke-width="2.0"/><path d="M903.9,234.3L900,229.4" stroke="#39a9ed" stroke-width="2.1"/><path d="M900,229.4L896.6,225.4" stroke="#2d7eef" stroke-width="2.2"/><path d="M896.6,225.4L893.8,222.4" stroke="#2664ef" stroke-width="2.3"/><path d="M893.8,222.4L891.3,220" stroke="#2356ee" stroke-width="2.4"/><path d="M891.3,220L889.1,218.1" stroke="#204aed" stroke-width="2.4"/><path d="M889.1,218.1L887,216.5" stroke="#1e3fed" stroke-width="2.5"/><path d="M887,216.5L884.8,215.2" stroke="#1c36ec" stroke-width="2.5"/><path d="M884.8,215.2L882.3,213.9" stroke="#1a2ceb" stroke-width="2.6"/><path d="M882.3,213.9L879.3,212.6" stroke="#1a25e1" stroke-width="2.6"/><path d="M879.3,212.6L875.8,211.1" stroke="#1b20d0" stroke-width="2.7"/><path d="M875.8,211.1L871.6,209.4" stroke="#1c1dc8" stroke-width="2.7"/><path d="M871.6,209.4L867,207.5" stroke="#1c1cc5" stroke-width="2.7"/><path d="M867,207.5L861.9,205.6" stroke="#1c1bc2" stroke-width="2.7"/><path d="M861.9,205.6L856.5,203.8" stroke="#1c1abf" stroke-width="2.7"/><path d="M856.5,203.8L851,202.1" stroke="#1d19bc" stroke-width="2.7"/><path d="M851,202.1L845.4,200.8" stroke="#1d19b9" stroke-width="2.7"/><path d="M845.4,200.8L839.7,199.8" stroke="#1d18b7" stroke-width="2.7"/><path d="M839.7,199.8L834.2,199.4" stroke="#1d18b6" stroke-width="2.7"/><path d="M834.2,199.4L828.6,199.4" stroke="#1d17b5" stroke-width="2.7"/><path d="M828.6,199.4L822.8,199.8" stroke="#1d17b5" stroke-width="2.7"/><path d="M822.8,199.8L816.9,200.5" stroke="#1d18b5" stroke-width="2.7"/><path d="M816.9,200.5L810.9,201.5" stroke="#1d18b7" stroke-width="2.7"/><path d="M810.9,201.5L805,202.8" stroke="#1d18b9" stroke-width="2.7"/><path d="M805,202.8L799.3,204.5" stroke="#1d19bb" stroke-width="2.7"/><path d="M799.3,204.5L793.8,206.3" stroke="#1c1abe" stroke-width="2.7"/><path d="M793.8,206.3L788.7,208.5" stroke="#1c1bc1" stroke-width="2.7"/><path d="M788.7,208.5L783.9,211" stroke="#1c1cc5" stroke-width="2.7"/><path d="M783.9,211L779.4,214" stroke="#1c1dc8" stroke-width="2.7"/><path d="M779.4,214L775,217.2" stroke="#1b1fcc" stroke-width="2.7"/><path d="M775,217.2L770.8,220.8" stroke="#1a22d8" stroke-width="2.7"/><path d="M770.8,220.8L766.9,224.5" stroke="#1928eb" stroke-width="2.5"/><path d="M766.9,224.5L763.1,228.3" stroke="#1d39ec" stroke-width="2.4"/><path d="M763.1,228.3L759.6,232.1" stroke="#214dee" stroke-width="2.2"/><path d="M759.6,232.1L756.2,235.8" stroke="#2663ef" stroke-width="2.1"/><path d="M756.2,235.8L753,239.7" stroke="#2f86ef" stroke-width="2.0"/><path d="M753,239.7L750,244.1" stroke="#3db7ed" stroke-width="1.8"/><path d="M750,244.1L747.1,248.6" stroke="#53dfe0" stroke-width="1.7"/><path d="M747.1,248.6L744.4,253.1" stroke="#79efb7" stroke-width="1.5"/><path d="M744.4,253.1L742,257.4" stroke="#b4ec5b" stroke-width="1.4"/><path d="M742,257.4L739.9,261.3" stroke="#dadb33" stroke-width="1.2"/><path d="M739.9,261.3L738.1,264.6" stroke="#f0c027" stroke-width="1.1"/><path d="M738.1,264.6L736.7,267" stroke="#f08e21" stroke-width="1.0"/><path d="M927.8,274.8L924.9,271.3" stroke="#ec6d1d" stroke-width="1.0"/><path d="M924.9,271.3L921,266.6" stroke="#f0c828" stroke-width="1.2"/><path d="M921,266.6L916.2,261" stroke="#cbe93b" stroke-width="1.5"/><path d="M916.2,261L911.1,254.8" stroke="#82efa9" stroke-width="1.6"/><path d="M911.1,254.8L905.7,248.4" stroke="#50dde3" stroke-width="1.8"/><path d="M905.7,248.4L900.4,242" stroke="#37a3ed" stroke-width="2.0"/><path d="M900.4,242L895.6,235.9" stroke="#2769f0" stroke-width="2.1"/><path d="M895.6,235.9L891.4,230.6" stroke="#2355ee" stroke-width="2.2"/><path d="M891.4,230.6L888,225.7" stroke="#2251ee" stroke-width="2.2"/><path d="M888,225.7L885,220.9" stroke="#214dee" stroke-width="2.2"/><path d="M885,220.9L882.4,216.1" stroke="#204bed" stroke-width="2.2"/><path d="M882.4,216.1L879.9,211.6" stroke="#2049ed" stroke-width="2.2"/><path d="M879.9,211.6L877.3,207.3" stroke="#2047ed" stroke-width="2.2"/><path d="M877.3,207.3L874.6,203.4" stroke="#2047ed" stroke-width="2.2"/><path d="M874.6,203.4L871.6,199.8" stroke="#2047ed" stroke-width="2.2"/><path d="M871.6,199.8L868,196.8" stroke="#2048ed" stroke-width="2.2"/><path d="M868,196.8L863.8,194.3" stroke="#204aed" stroke-width="2.2"/><path d="M863.8,194.3L859.1,192.1" stroke="#214cee" stroke-width="2.2"/><path d="M859.1,192.1L854.1,190.4" stroke="#214fee" stroke-width="2.2"/><path d="M854.1,190.4L848.9,189" stroke="#2253ee" stroke-width="2.2"/><path d="M848.9,189L843.6,187.9" stroke="#2356ee" stroke-width="2.2"/><path d="M843.6,187.9L838.5,187.2" stroke="#2459ef" stroke-width="2.2"/><path d="M838.5,187.2L833.5,186.7" stroke="#255eef" stroke-width="2.1"/><path d="M833.5,186.7L829,186.4" stroke="#2665ef" stroke-width="1.9"/><path d="M829,186.4L824.6,186.6" stroke="#286ef0" stroke-width="1.8"/><path d="M824.6,186.6L820.2,187.3" stroke="#2c7eef" stroke-width="1.7"/><path d="M820.2,187.3L815.8,188.3" stroke="#3291ee" stroke-width="1.6"/><path d="M815.8,188.3L811.6,189.7" stroke="#38a5ed" stroke-width="1.4"/><path d="M811.6,189.7L807.7,191" stroke="#3ebaec" stroke-width="1.3"/><path d="M807.7,191L804.3,192.4" stroke="#44cfeb" stroke-width="1.2"/><path d="M804.3,192.4L801.3,193.5" stroke="#4ddbe5" stroke-width="1.1"/><path d="M801.3,193.5L799.1,194.2" stroke="#56e1dd" stroke-width="1.0"/></g><path d="M923.3,167.7L932.8,177.2L921.4,181Z" fill="#1c1cc5"/><circle cx="874.5" cy="134.4" r="5.2" fill="#1c1cc5"/><path d="M902.7,164L915.5,168.2L907,176.7Z" fill="#245bef"/><circle cx="870.6" cy="168.2" r="5.2" fill="#f0a023"/><path d="M963,159.7L971.3,170.2L959.6,172.7Z" fill="#1a25e0"/><circle cx="952.5" cy="138.3" r="5.2" fill="#46d7eb"/><path d="M1009.8,165L1012.9,178L1001.2,175.3Z" fill="#1c1cc5"/><circle cx="1031.8" cy="120.1" r="5.2" fill="#1c1cc5"/><path d="M1047.1,148.9L1034.4,135.3L1048.6,130.4Z" fill="#91ee92"/><path d="M1009.9,153.1L1015.5,165.3L1003.5,164.9Z" fill="#245bef"/><path d="M1055.2,166.2L1052,179.3L1042.8,171.5Z" fill="#245bef"/><circle cx="1129.3" cy="168.2" r="5.2" fill="#46d7eb"/><path d="M1079.6,189.4L1077.2,202.6L1067.6,195.4Z" fill="#1c1cc5"/><path d="M1162.5,177.3L1149.4,180.5L1152.1,168.8Z" fill="#1c1cc5"/><path d="M1115.6,195.2L1105.6,204.2L1102.4,192.6Z" fill="#2047ed"/><path d="M1149.6,220.2L1137.6,226.2L1137.6,214.2Z" fill="#2047ed"/><path d="M1207.7,259L1191.8,249.5L1204,240.8Z" fill="#3cb4ed"/><circle cx="1063" cy="241" r="5.2" fill="#1d19ba"/><path d="M1148.4,267.9L1135.2,265.7L1142.3,256Z" fill="#1c1cc5"/><path d="M1196.7,347.8L1183.3,334.9L1197.2,329.2Z" fill="#cfe539"/><path d="M1123.6,233.9L1111.5,239.6L1111.8,227.6Z" fill="#1b21d5"/><path d="M1201.2,335L1191.3,319.2L1206.2,317.1Z" fill="#f0a023"/><path d="M1132.6,272.1L1119.6,275.6L1122,263.8Z" fill="#2047ed"/><path d="M1197.2,358.4L1187.8,342.4L1202.7,340.6Z" fill="#c8eb3c"/><path d="M1099.7,301.9L1086.3,302.7L1091,291.6Z" fill="#2047ed"/><circle cx="1056.5" cy="294.3" r="5.2" fill="#1d19ba"/><path d="M1100.5,363.4L1087.5,350.1L1101.5,344.9Z" fill="#46d7eb"/><path d="M1031.5,327.7L1019.5,321.8L1029,314.5Z" fill="#2047ed"/><circle cx="990.2" cy="264.4" r="5.2" fill="#1d19ba"/><path d="M998.6,317.2L991.5,305.8L1003.4,304.7Z" fill="#1c1cc5"/><path d="M984.7,326.3L978.3,314.5L990.2,314.1Z" fill="#2047ed"/><path d="M986.3,407.8L978.6,390.9L993.6,390.7Z" fill="#f0a023"/><circle cx="930.4" cy="299.5" r="5.2" fill="#1d19ba"/><path d="M898.5,373.9L895.3,355.6L909.8,359.2Z" fill="#40c2ec"/><path d="M857,292.1L866.9,283L870.2,294.5Z" fill="#2047ed"/><path d="M794.9,368.8L789.3,351L804.2,352.7Z" fill="#f0c828"/><path d="M846.5,256.3L857.3,248.3L859.4,260.2Z" fill="#2047ed"/><path d="M768.1,292.2L776.9,275.9L786.2,287.7Z" fill="#40c2ec"/><circle cx="908.3" cy="244.9" r="5.2" fill="#1d19ba"/><path d="M832,274.5L837.9,262.5L845.2,272Z" fill="#1c1cc5"/><path d="M789.1,353.1L787,334.6L801.3,339.1Z" fill="#c8eb3c"/><path d="M819.1,221.6L831,215.4L831.2,227.4Z" fill="#2047ed"/><path d="M870.3,208.8L883.7,207.9L879,219Z" fill="#1c1cc5"/><path d="M783.3,211.1L791.5,200.5L796.7,211.3Z" fill="#1c1cc5"/><path d="M863.1,193.3L876.4,195.5L869.3,205.2Z" fill="#2047ed"/><circle cx="799.1" cy="194.2" r="5.2" fill="#46d7eb"/>
<path d="M1394,293.1 A257.4,202 0 0 1 1908.8,293.1 L1907.3,293.1 A255.9,136 0 0 1 1395.5,293.1 Z" fill="url(#domeg2)" filter="url(#soft)"/>
<g clip-path="url(#dclip2)"><rect x="1392.5" y="88.1" width="517.8" height="344" fill="#fff" filter="url(#marb2)" opacity="0.55"/></g>
<ellipse cx="1651.4" cy="293.1" rx="255.9" ry="136" fill="url(#base2)"/>
<g clip-path="url(#bclip2)"><rect x="1392.5" y="88.1" width="517.8" height="344" fill="#fff" filter="url(#marb2)" opacity="0.22" transform="translate(0,0)"/></g>
<g fill="none" stroke-linecap="round"><path d="M1648.1,248.8L1647.9,245.2" stroke="#ee731e" stroke-width="1.1"/><path d="M1647.9,245.2L1647.6,240.3" stroke="#eacd2b" stroke-width="1.3"/><path d="M1647.6,240.3L1647.3,234.4" stroke="#bcec4f" stroke-width="1.6"/><path d="M1647.3,234.4L1646.9,228" stroke="#6beeca" stroke-width="1.8"/><path d="M1646.9,228L1646.5,221.2" stroke="#42c9ec" stroke-width="2.0"/><path d="M1646.5,221.2L1646.1,214.4" stroke="#2c7def" stroke-width="2.2"/><path d="M1646.1,214.4L1645.8,207.9" stroke="#2250ee" stroke-width="2.4"/><path d="M1645.8,207.9L1645.5,202" stroke="#1a2eeb" stroke-width="2.6"/><path d="M1645.5,202L1645.3,196.5" stroke="#1c1eca" stroke-width="2.7"/><path d="M1645.3,196.5L1645.1,190.9" stroke="#1c1cc5" stroke-width="2.7"/><path d="M1645.1,190.9L1645,185.4" stroke="#1c1bc0" stroke-width="2.7"/><path d="M1645,185.4L1644.8,180.1" stroke="#1d19bc" stroke-width="2.7"/><path d="M1644.8,180.1L1644.7,174.8" stroke="#1d18b8" stroke-width="2.7"/><path d="M1644.7,174.8L1644.6,169.8" stroke="#1d18b6" stroke-width="2.7"/><path d="M1644.6,169.8L1644.4,164.9" stroke="#1d17b5" stroke-width="2.7"/><path d="M1644.4,164.9L1644.2,160.4" stroke="#1d17b5" stroke-width="2.7"/><path d="M1644.2,160.4L1643.9,156.1" stroke="#1d18b6" stroke-width="2.7"/><path d="M1643.9,156.1L1643.6,152" stroke="#1d18b7" stroke-width="2.7"/><path d="M1643.6,152L1643.3,148.1" stroke="#1d19ba" stroke-width="2.7"/><path d="M1643.3,148.1L1643,144.4" stroke="#1d1abc" stroke-width="2.7"/><path d="M1643,144.4L1642.6,140.9" stroke="#1c1abf" stroke-width="2.7"/><path d="M1642.6,140.9L1642.3,137.6" stroke="#1c1bc2" stroke-width="2.7"/><path d="M1642.3,137.6L1641.9,134.6" stroke="#1c1cc5" stroke-width="2.7"/><path d="M1641.9,134.6L1641.6,131.8" stroke="#1c1dc8" stroke-width="2.7"/><path d="M1641.6,131.8L1641.3,129.1" stroke="#1c1eca" stroke-width="2.7"/><path d="M1641.3,129.1L1640.9,126.5" stroke="#1b1fcd" stroke-width="2.7"/><path d="M1640.9,126.5L1640.6,124.1" stroke="#1b21d3" stroke-width="2.7"/><path d="M1640.6,124.1L1640.3,122" stroke="#1a23da" stroke-width="2.6"/><path d="M1640.3,122L1640,120.1" stroke="#1a25e2" stroke-width="2.5"/><path d="M1640,120.1L1639.6,118.7" stroke="#1927e8" stroke-width="2.4"/><path d="M1639.6,118.7L1639.3,117.8" stroke="#192aeb" stroke-width="2.4"/><path d="M1639.3,117.8L1639,117.5" stroke="#1a2ceb" stroke-width="2.4"/><path d="M1639,117.5L1638.7,117.9" stroke="#1a2eeb" stroke-width="2.3"/><path d="M1638.7,117.9L1638.3,119" stroke="#1b31ec" stroke-width="2.3"/><path d="M1638.3,119L1638,120.6" stroke="#1c36ec" stroke-width="2.3"/><path d="M1638,120.6L1637.6,122.6" stroke="#1e3eed" stroke-width="2.2"/><path d="M1637.6,122.6L1637.3,124.9" stroke="#2047ed" stroke-width="2.1"/><path d="M1637.3,124.9L1637,127.3" stroke="#2251ee" stroke-width="2.0"/><path d="M1637,127.3L1636.7,129.6" stroke="#245def" stroke-width="1.9"/><path d="M1636.7,129.6L1636.4,131.8" stroke="#2769f0" stroke-width="1.8"/><path d="M1636.4,131.8L1636.2,134" stroke="#2b7aef" stroke-width="1.7"/><path d="M1636.2,134L1636,136.5" stroke="#3292ee" stroke-width="1.6"/><path d="M1636,136.5L1635.8,139.1" stroke="#3aaded" stroke-width="1.5"/><path d="M1635.8,139.1L1635.6,141.8" stroke="#43cbec" stroke-width="1.4"/><path d="M1635.6,141.8L1635.4,144.3" stroke="#50dde2" stroke-width="1.3"/><path d="M1635.4,144.3L1635.3,146.6" stroke="#61e8d3" stroke-width="1.2"/><path d="M1635.3,146.6L1635.2,148.6" stroke="#72f0c2" stroke-width="1.1"/><path d="M1635.2,148.6L1635.1,150" stroke="#87efa1" stroke-width="1.0"/><path d="M1640.3,234.5L1639.8,230.9" stroke="#f07d1f" stroke-width="1.1"/><path d="M1639.8,230.9L1639.1,225.9" stroke="#e0d630" stroke-width="1.3"/><path d="M1639.1,225.9L1638.2,220" stroke="#99ee85" stroke-width="1.6"/><path d="M1638.2,220L1637.3,213.5" stroke="#51dee2" stroke-width="1.8"/><path d="M1637.3,213.5L1636.3,206.8" stroke="#318fee" stroke-width="2.0"/><path d="M1636.3,206.8L1635.4,200.3" stroke="#2356ee" stroke-width="2.2"/><path d="M1635.4,200.3L1634.5,194.2" stroke="#214fee" stroke-width="2.2"/><path d="M1634.5,194.2L1633.8,189" stroke="#204aed" stroke-width="2.2"/><path d="M1633.8,189L1633.2,184.5" stroke="#2048ed" stroke-width="2.2"/><path d="M1633.2,184.5L1632.7,180.3" stroke="#2047ed" stroke-width="2.2"/><path d="M1632.7,180.3L1632.2,176.4" stroke="#2048ed" stroke-width="2.2"/><path d="M1632.2,176.4L1631.8,172.7" stroke="#204aed" stroke-width="2.2"/><path d="M1631.8,172.7L1631.3,169.2" stroke="#214dee" stroke-width="2.2"/><path d="M1631.3,169.2L1630.9,166.1" stroke="#2250ee" stroke-width="2.2"/><path d="M1630.9,166.1L1630.4,163.1" stroke="#2254ee" stroke-width="2.2"/><path d="M1630.4,163.1L1629.9,160.4" stroke="#2357ee" stroke-width="2.2"/><path d="M1629.9,160.4L1629.3,157.9" stroke="#245eef" stroke-width="2.2"/><path d="M1629.3,157.9L1628.7,155.5" stroke="#2769f0" stroke-width="2.1"/><path d="M1628.7,155.5L1628,153.3" stroke="#2d7fef" stroke-width="2.0"/><path d="M1628,153.3L1627.3,151.4" stroke="#359bee" stroke-width="1.9"/><path d="M1627.3,151.4L1626.6,149.8" stroke="#3db7ed" stroke-width="1.8"/><path d="M1626.6,149.8L1625.9,148.5" stroke="#44d0eb" stroke-width="1.7"/><path d="M1625.9,148.5L1625.3,147.7" stroke="#4edce4" stroke-width="1.6"/><path d="M1625.3,147.7L1624.7,147.4" stroke="#57e1dc" stroke-width="1.6"/><path d="M1624.7,147.4L1624.1,147.8" stroke="#5ee6d6" stroke-width="1.6"/><path d="M1624.1,147.8L1623.5,148.9" stroke="#68eccd" stroke-width="1.5"/><path d="M1623.5,148.9L1623,150.5" stroke="#81efaa" stroke-width="1.5"/><path d="M1623,150.5L1622.4,152.4" stroke="#a8ed6e" stroke-width="1.4"/><path d="M1622.4,152.4L1621.9,154.5" stroke="#cee639" stroke-width="1.3"/><path d="M1621.9,154.5L1621.5,156.4" stroke="#e5d22e" stroke-width="1.2"/><path d="M1621.5,156.4L1621.1,158" stroke="#f0b025" stroke-width="1.1"/><path d="M1621.1,158L1620.8,159.1" stroke="#f08820" stroke-width="1.0"/><path d="M1662.4,231.9L1662.6,228.5" stroke="#f07c1e" stroke-width="1.1"/><path d="M1662.6,228.5L1662.9,223.9" stroke="#e1d52f" stroke-width="1.3"/><path d="M1662.9,223.9L1663.2,218.3" stroke="#9eed7e" stroke-width="1.6"/><path d="M1663.2,218.3L1663.5,212.2" stroke="#54e0df" stroke-width="1.8"/><path d="M1663.5,212.2L1663.9,205.9" stroke="#3396ee" stroke-width="2.0"/><path d="M1663.9,205.9L1664.3,199.7" stroke="#2357ee" stroke-width="2.2"/><path d="M1664.3,199.7L1664.7,194" stroke="#2150ee" stroke-width="2.2"/><path d="M1664.7,194L1665,189" stroke="#204bed" stroke-width="2.2"/><path d="M1665,189L1665.3,184.6" stroke="#2048ed" stroke-width="2.2"/><path d="M1665.3,184.6L1665.6,180.4" stroke="#2047ed" stroke-width="2.2"/><path d="M1665.6,180.4L1665.9,176.5" stroke="#2048ed" stroke-width="2.2"/><path d="M1665.9,176.5L1666.1,172.8" stroke="#204aed" stroke-width="2.2"/><path d="M1666.1,172.8L1666.4,169.3" stroke="#214dee" stroke-width="2.2"/><path d="M1666.4,169.3L1666.8,166" stroke="#2251ee" stroke-width="2.2"/><path d="M1666.8,166L1667.2,163.1" stroke="#2254ee" stroke-width="2.2"/><path d="M1667.2,163.1L1667.6,160.4" stroke="#2357ee" stroke-width="2.2"/><path d="M1667.6,160.4L1668.1,158" stroke="#2560ef" stroke-width="2.2"/><path d="M1668.1,158L1668.7,155.8" stroke="#286cf0" stroke-width="2.1"/><path d="M1668.7,155.8L1669.4,153.8" stroke="#2e84ef" stroke-width="2.0"/><path d="M1669.4,153.8L1670,152.1" stroke="#369fee" stroke-width="1.9"/><path d="M1670,152.1L1670.7,150.7" stroke="#3db9ec" stroke-width="1.8"/><path d="M1670.7,150.7L1671.4,149.7" stroke="#44d1eb" stroke-width="1.7"/><path d="M1671.4,149.7L1672.1,149" stroke="#4edce4" stroke-width="1.6"/><path d="M1672.1,149L1672.8,148.7" stroke="#57e2dc" stroke-width="1.6"/><path d="M1672.8,148.7L1673.5,149" stroke="#5fe7d5" stroke-width="1.6"/><path d="M1673.5,149L1674.2,150" stroke="#6beecb" stroke-width="1.5"/><path d="M1674.2,150L1675,151.4" stroke="#86efa3" stroke-width="1.4"/><path d="M1675,151.4L1675.7,153.2" stroke="#aced68" stroke-width="1.4"/><path d="M1675.7,153.2L1676.4,155" stroke="#d0e438" stroke-width="1.3"/><path d="M1676.4,155L1677.1,156.7" stroke="#e6d12d" stroke-width="1.2"/><path d="M1677.1,156.7L1677.6,158.1" stroke="#f0af25" stroke-width="1.1"/><path d="M1677.6,158.1L1678,159.1" stroke="#f08820" stroke-width="1.0"/><path d="M1614.3,243.6L1613,240.1" stroke="#ec6a1d" stroke-width="1.0"/><path d="M1613,240.1L1611.2,235.4" stroke="#f0c227" stroke-width="1.2"/><path d="M1611.2,235.4L1609,229.7" stroke="#cfe539" stroke-width="1.4"/><path d="M1609,229.7L1606.7,223.5" stroke="#8dee98" stroke-width="1.6"/><path d="M1606.7,223.5L1604.2,217" stroke="#57e2dc" stroke-width="1.8"/><path d="M1604.2,217L1601.7,210.6" stroke="#3cb3ed" stroke-width="1.9"/><path d="M1601.7,210.6L1599.4,204.6" stroke="#2b78f0" stroke-width="2.1"/><path d="M1599.4,204.6L1597.4,199.4" stroke="#2357ee" stroke-width="2.2"/><path d="M1597.4,199.4L1595.6,194.8" stroke="#2253ee" stroke-width="2.2"/><path d="M1595.6,194.8L1593.9,190.4" stroke="#214fee" stroke-width="2.2"/><path d="M1593.9,190.4L1592.4,186.1" stroke="#214cee" stroke-width="2.2"/><path d="M1592.4,186.1L1590.8,182.1" stroke="#204aed" stroke-width="2.2"/><path d="M1590.8,182.1L1589.3,178.3" stroke="#2048ed" stroke-width="2.2"/><path d="M1589.3,178.3L1587.7,174.7" stroke="#2047ed" stroke-width="2.2"/><path d="M1587.7,174.7L1586.1,171.3" stroke="#2047ed" stroke-width="2.2"/><path d="M1586.1,171.3L1584.4,168.2" stroke="#2047ed" stroke-width="2.2"/><path d="M1584.4,168.2L1582.6,165.3" stroke="#2048ed" stroke-width="2.2"/><path d="M1582.6,165.3L1580.8,162.5" stroke="#2049ed" stroke-width="2.2"/><path d="M1580.8,162.5L1579,160" stroke="#204bed" stroke-width="2.2"/><path d="M1579,160L1577.2,157.6" stroke="#214cee" stroke-width="2.2"/><path d="M1577.2,157.6L1575.2,155.6" stroke="#214eee" stroke-width="2.2"/><path d="M1575.2,155.6L1573.2,153.8" stroke="#2250ee" stroke-width="2.2"/><path d="M1573.2,153.8L1571.1,152.4" stroke="#2252ee" stroke-width="2.2"/><path d="M1571.1,152.4L1568.8,151.3" stroke="#2254ee" stroke-width="2.2"/><path d="M1568.8,151.3L1566.3,150.6" stroke="#2356ee" stroke-width="2.2"/><path d="M1566.3,150.6L1563.4,150.2" stroke="#2358ee" stroke-width="2.2"/><path d="M1563.4,150.2L1560.4,150.1" stroke="#245def" stroke-width="2.2"/><path d="M1560.4,150.1L1557.3,150.3" stroke="#2666ef" stroke-width="2.1"/><path d="M1557.3,150.3L1554.2,150.8" stroke="#2a74f0" stroke-width="2.0"/><path d="M1554.2,150.8L1551.4,151.6" stroke="#308cef" stroke-width="1.9"/><path d="M1551.4,151.6L1548.8,152.6" stroke="#38a5ed" stroke-width="1.8"/><path d="M1548.8,152.6L1546.7,153.9" stroke="#3fbfec" stroke-width="1.7"/><path d="M1546.7,153.9L1545,155.7" stroke="#47d8ea" stroke-width="1.6"/><path d="M1545,155.7L1543.6,158" stroke="#58e2db" stroke-width="1.6"/><path d="M1543.6,158L1542.4,160.8" stroke="#6defc9" stroke-width="1.5"/><path d="M1542.4,160.8L1541.4,163.8" stroke="#94ee8e" stroke-width="1.4"/><path d="M1541.4,163.8L1540.6,166.8" stroke="#beec4b" stroke-width="1.3"/><path d="M1540.6,166.8L1540,169.5" stroke="#d8dd34" stroke-width="1.2"/><path d="M1540,169.5L1539.4,171.8" stroke="#ebcd2b" stroke-width="1.1"/><path d="M1539.4,171.8L1538.9,173.4" stroke="#f0b025" stroke-width="1.0"/><path d="M1607.8,259.2L1606,255.5" stroke="#ea661d" stroke-width="1.0"/><path d="M1606,255.5L1603.5,250.4" stroke="#f0b926" stroke-width="1.3"/><path d="M1603.5,250.4L1600.6,244.4" stroke="#d5e036" stroke-width="1.5"/><path d="M1600.6,244.4L1597.3,237.8" stroke="#9ded7e" stroke-width="1.7"/><path d="M1597.3,237.8L1593.9,230.9" stroke="#63e9d1" stroke-width="1.9"/><path d="M1593.9,230.9L1590.5,224.1" stroke="#43ccec" stroke-width="2.0"/><path d="M1590.5,224.1L1587.3,217.8" stroke="#3395ee" stroke-width="2.2"/><path d="M1587.3,217.8L1584.4,212.4" stroke="#2769f0" stroke-width="2.3"/><path d="M1584.4,212.4L1581.8,207.7" stroke="#2253ee" stroke-width="2.4"/><path d="M1581.8,207.7L1579.4,203.2" stroke="#1e3fed" stroke-width="2.5"/><path d="M1579.4,203.2L1577.1,199" stroke="#1a2deb" stroke-width="2.6"/><path d="M1577.1,199L1574.9,195" stroke="#1a23da" stroke-width="2.6"/><path d="M1574.9,195L1572.6,191.3" stroke="#1c1eca" stroke-width="2.7"/><path d="M1572.6,191.3L1570.2,187.7" stroke="#1c1dc7" stroke-width="2.7"/><path d="M1570.2,187.7L1567.7,184.4" stroke="#1c1cc4" stroke-width="2.7"/><path d="M1567.7,184.4L1564.9,181.2" stroke="#1c1bc1" stroke-width="2.7"/><path d="M1564.9,181.2L1562,178.2" stroke="#1c1abf" stroke-width="2.7"/><path d="M1562,178.2L1559,175.4" stroke="#1d1abd" stroke-width="2.7"/><path d="M1559,175.4L1555.9,172.8" stroke="#1d19bb" stroke-width="2.7"/><path d="M1555.9,172.8L1552.7,170.4" stroke="#1d19b9" stroke-width="2.7"/><path d="M1552.7,170.4L1549.3,168.2" stroke="#1d18b8" stroke-width="2.7"/><path d="M1549.3,168.2L1545.7,166.2" stroke="#1d18b6" stroke-width="2.7"/><path d="M1545.7,166.2L1541.8,164.5" stroke="#1d18b6" stroke-width="2.7"/><path d="M1541.8,164.5L1537.6,163" stroke="#1d17b5" stroke-width="2.7"/><path d="M1537.6,163L1532.9,161.7" stroke="#1d17b5" stroke-width="2.7"/><path d="M1532.9,161.7L1527.7,160.6" stroke="#1d17b5" stroke-width="2.7"/><path d="M1527.7,160.6L1522.1,159.7" stroke="#1d18b6" stroke-width="2.7"/><path d="M1522.1,159.7L1516.3,159" stroke="#1d18b8" stroke-width="2.7"/><path d="M1516.3,159L1510.5,158.6" stroke="#1d19ba" stroke-width="2.7"/><path d="M1510.5,158.6L1504.9,158.5" stroke="#1d1abd" stroke-width="2.7"/><path d="M1504.9,158.5L1499.5,158.6" stroke="#1c1bc0" stroke-width="2.7"/><path d="M1499.5,158.6L1494.7,159.1" stroke="#1c1cc3" stroke-width="2.7"/><path d="M1494.7,159.1L1490.3,159.9" stroke="#1c1cc6" stroke-width="2.7"/><path d="M1490.3,159.9L1486,161.1" stroke="#1c1dc9" stroke-width="2.7"/><path d="M1486,161.1L1482,162.6" stroke="#1b1ecb" stroke-width="2.7"/><path d="M1482,162.6L1478.1,164.3" stroke="#1b20d2" stroke-width="2.7"/><path d="M1478.1,164.3L1474.5,166.3" stroke="#1a24de" stroke-width="2.6"/><path d="M1474.5,166.3L1471.1,168.5" stroke="#1929eb" stroke-width="2.5"/><path d="M1471.1,168.5L1467.8,170.9" stroke="#1c35ec" stroke-width="2.4"/><path d="M1467.8,170.9L1464.8,173.4" stroke="#1f43ed" stroke-width="2.3"/><path d="M1464.8,173.4L1462,176.3" stroke="#2252ee" stroke-width="2.2"/><path d="M1462,176.3L1459.3,179.7" stroke="#2664ef" stroke-width="2.1"/><path d="M1459.3,179.7L1456.8,183.4" stroke="#2d80ef" stroke-width="1.9"/><path d="M1456.8,183.4L1454.6,187.2" stroke="#38a8ed" stroke-width="1.8"/><path d="M1454.6,187.2L1452.5,191" stroke="#45d2eb" stroke-width="1.7"/><path d="M1452.5,191L1450.7,194.7" stroke="#5be4d8" stroke-width="1.6"/><path d="M1450.7,194.7L1449.2,197.9" stroke="#76f0bb" stroke-width="1.5"/><path d="M1449.2,197.9L1447.9,200.7" stroke="#9bed82" stroke-width="1.4"/><path d="M1447.9,200.7L1447,203" stroke="#baec51" stroke-width="1.3"/><path d="M1447,203L1446.4,205" stroke="#cee639" stroke-width="1.2"/><path d="M1446.4,205L1446.2,206.7" stroke="#d9dc33" stroke-width="1.2"/><path d="M1446.2,206.7L1446.2,208.3" stroke="#e3d32f" stroke-width="1.1"/><path d="M1446.2,208.3L1446.3,209.6" stroke="#ebcc2a" stroke-width="1.1"/><path d="M1446.3,209.6L1446.5,210.7" stroke="#f0c227" stroke-width="1.1"/><path d="M1446.5,210.7L1446.6,211.6" stroke="#f0b325" stroke-width="1.0"/><path d="M1446.6,211.6L1446.6,212.4" stroke="#f0a624" stroke-width="1.0"/><path d="M1574,257.9L1572.4,253.8" stroke="#ef761e" stroke-width="1.0"/><path d="M1572.4,253.8L1570.1,248.2" stroke="#e6d02d" stroke-width="1.3"/><path d="M1570.1,248.2L1567.5,241.5" stroke="#aeec64" stroke-width="1.5"/><path d="M1567.5,241.5L1564.6,234.2" stroke="#61e8d4" stroke-width="1.7"/><path d="M1564.6,234.2L1561.5,226.6" stroke="#3bb2ed" stroke-width="1.9"/><path d="M1561.5,226.6L1558.5,219.3" stroke="#2769f0" stroke-width="2.1"/><path d="M1558.5,219.3L1555.7,212.7" stroke="#2253ee" stroke-width="2.2"/><path d="M1555.7,212.7L1553.2,207.2" stroke="#214eee" stroke-width="2.2"/><path d="M1553.2,207.2L1551.1,202.6" stroke="#204bed" stroke-width="2.2"/><path d="M1551.1,202.6L1549.1,198.4" stroke="#2049ed" stroke-width="2.2"/><path d="M1549.1,198.4L1547.3,194.7" stroke="#2047ed" stroke-width="2.2"/><path d="M1547.3,194.7L1545.6,191.3" stroke="#2047ed" stroke-width="2.2"/><path d="M1545.6,191.3L1543.8,188.2" stroke="#2048ed" stroke-width="2.2"/><path d="M1543.8,188.2L1541.9,185.6" stroke="#2048ed" stroke-width="2.2"/><path d="M1541.9,185.6L1539.9,183.2" stroke="#204aed" stroke-width="2.2"/><path d="M1539.9,183.2L1537.6,181.2" stroke="#214bee" stroke-width="2.2"/><path d="M1537.6,181.2L1535,179.5" stroke="#214dee" stroke-width="2.2"/><path d="M1535,179.5L1532.3,178.2" stroke="#214fee" stroke-width="2.2"/><path d="M1532.3,178.2L1529.4,177.3" stroke="#2252ee" stroke-width="2.2"/><path d="M1529.4,177.3L1526.4,176.7" stroke="#2254ee" stroke-width="2.2"/><path d="M1526.4,176.7L1523.3,176.5" stroke="#2357ee" stroke-width="2.2"/><path d="M1523.3,176.5L1520.2,176.5" stroke="#245bef" stroke-width="2.2"/><path d="M1520.2,176.5L1517.2,176.8" stroke="#2663ef" stroke-width="2.1"/><path d="M1517.2,176.8L1514.2,177.3" stroke="#286df0" stroke-width="2.0"/><path d="M1514.2,177.3L1511.1,178.3" stroke="#2f85ef" stroke-width="1.9"/><path d="M1511.1,178.3L1507.8,179.9" stroke="#38a4ed" stroke-width="1.8"/><path d="M1507.8,179.9L1504.4,182" stroke="#43ccec" stroke-width="1.7"/><path d="M1504.4,182L1501,184.2" stroke="#5ae4d9" stroke-width="1.5"/><path d="M1501,184.2L1497.9,186.5" stroke="#7eefaf" stroke-width="1.4"/><path d="M1497.9,186.5L1495,188.6" stroke="#b1ec5f" stroke-width="1.2"/><path d="M1495,188.6L1492.6,190.4" stroke="#d4e036" stroke-width="1.1"/><path d="M1492.6,190.4L1490.8,191.6" stroke="#e8cf2c" stroke-width="1.0"/><path d="M1679.3,241L1680,237.3" stroke="#f07f1f" stroke-width="1.1"/><path d="M1680,237.3L1680.9,232.3" stroke="#ded831" stroke-width="1.4"/><path d="M1680.9,232.3L1681.9,226.2" stroke="#93ee8f" stroke-width="1.7"/><path d="M1681.9,226.2L1683.1,219.6" stroke="#4cdae6" stroke-width="2.0"/><path d="M1683.1,219.6L1684.4,212.8" stroke="#2e83ef" stroke-width="2.2"/><path d="M1684.4,212.8L1685.7,206" stroke="#2049ed" stroke-width="2.4"/><path d="M1685.7,206L1687.1,199.7" stroke="#1a24dd" stroke-width="2.6"/><path d="M1687.1,199.7L1688.4,194.2" stroke="#1c1dc6" stroke-width="2.7"/><path d="M1688.4,194.2L1689.7,189.3" stroke="#1c1bc0" stroke-width="2.7"/><path d="M1689.7,189.3L1691.1,184.7" stroke="#1d19bb" stroke-width="2.7"/><path d="M1691.1,184.7L1692.5,180.2" stroke="#1d18b8" stroke-width="2.7"/><path d="M1692.5,180.2L1693.9,176" stroke="#1d18b6" stroke-width="2.7"/><path d="M1693.9,176L1695.4,172" stroke="#1d17b5" stroke-width="2.7"/><path d="M1695.4,172L1696.9,168.3" stroke="#1d17b5" stroke-width="2.7"/><path d="M1696.9,168.3L1698.5,164.9" stroke="#1d18b7" stroke-width="2.7"/><path d="M1698.5,164.9L1700.1,161.7" stroke="#1d19b9" stroke-width="2.7"/><path d="M1700.1,161.7L1701.8,158.8" stroke="#1d19bb" stroke-width="2.7"/><path d="M1701.8,158.8L1703.5,156.2" stroke="#1c1abe" stroke-width="2.7"/><path d="M1703.5,156.2L1705.3,153.9" stroke="#1c1bc1" stroke-width="2.7"/><path d="M1705.3,153.9L1707.1,151.9" stroke="#1c1cc4" stroke-width="2.7"/><path d="M1707.1,151.9L1708.9,150.1" stroke="#1c1dc8" stroke-width="2.7"/><path d="M1708.9,150.1L1710.8,148.5" stroke="#1c1eca" stroke-width="2.7"/><path d="M1710.8,148.5L1712.6,147.2" stroke="#1b1fcf" stroke-width="2.7"/><path d="M1712.6,147.2L1714.4,146.1" stroke="#1a22d8" stroke-width="2.7"/><path d="M1714.4,146.1L1716.3,145.2" stroke="#1a26e4" stroke-width="2.6"/><path d="M1716.3,145.2L1718.2,144.6" stroke="#1a2deb" stroke-width="2.5"/><path d="M1718.2,144.6L1720.2,144.2" stroke="#1d39ec" stroke-width="2.4"/><path d="M1720.2,144.2L1722.2,144.1" stroke="#1f45ed" stroke-width="2.3"/><path d="M1722.2,144.1L1724.1,144.2" stroke="#2253ee" stroke-width="2.2"/><path d="M1724.1,144.2L1725.9,144.5" stroke="#2561ef" stroke-width="2.1"/><path d="M1725.9,144.5L1727.4,145.2" stroke="#286ff0" stroke-width="2.0"/><path d="M1727.4,145.2L1728.7,146.1" stroke="#2f88ef" stroke-width="1.9"/><path d="M1728.7,146.1L1729.7,147.5" stroke="#37a3ed" stroke-width="1.8"/><path d="M1729.7,147.5L1730.5,149.5" stroke="#40c4ec" stroke-width="1.7"/><path d="M1730.5,149.5L1731.1,151.9" stroke="#53dfe0" stroke-width="1.6"/><path d="M1731.1,151.9L1731.5,154.5" stroke="#6ef0c8" stroke-width="1.5"/><path d="M1731.5,154.5L1731.9,157.2" stroke="#a2ed77" stroke-width="1.4"/><path d="M1731.9,157.2L1732.1,159.6" stroke="#cfe538" stroke-width="1.2"/><path d="M1732.1,159.6L1732.4,161.6" stroke="#e6d12d" stroke-width="1.1"/><path d="M1732.4,161.6L1732.6,163" stroke="#f0b325" stroke-width="1.0"/><path d="M1701.4,247.5L1702.2,244.5" stroke="#e85f1c" stroke-width="1.0"/><path d="M1702.2,244.5L1703.2,240.6" stroke="#f0a824" stroke-width="1.2"/><path d="M1703.2,240.6L1704.4,235.8" stroke="#e0d630" stroke-width="1.4"/><path d="M1704.4,235.8L1705.8,230.6" stroke="#bdec4e" stroke-width="1.6"/><path d="M1705.8,230.6L1707.3,225.1" stroke="#82efa9" stroke-width="1.8"/><path d="M1707.3,225.1L1708.8,219.7" stroke="#5ae3da" stroke-width="1.9"/><path d="M1708.8,219.7L1710.3,214.5" stroke="#41c7ec" stroke-width="2.0"/><path d="M1710.3,214.5L1711.8,209.8" stroke="#359aee" stroke-width="2.2"/><path d="M1711.8,209.8L1713.2,205.5" stroke="#2973f0" stroke-width="2.3"/><path d="M1713.2,205.5L1714.6,201.4" stroke="#245def" stroke-width="2.4"/><path d="M1714.6,201.4L1715.9,197.3" stroke="#204aed" stroke-width="2.4"/><path d="M1715.9,197.3L1717.3,193.3" stroke="#1c38ec" stroke-width="2.5"/><path d="M1717.3,193.3L1718.9,189.4" stroke="#1927e9" stroke-width="2.6"/><path d="M1718.9,189.4L1720.6,185.7" stroke="#1b20d2" stroke-width="2.7"/><path d="M1720.6,185.7L1722.5,182.1" stroke="#1c1dc8" stroke-width="2.7"/><path d="M1722.5,182.1L1724.8,178.6" stroke="#1c1cc5" stroke-width="2.7"/><path d="M1724.8,178.6L1727.3,175.2" stroke="#1c1bc2" stroke-width="2.7"/><path d="M1727.3,175.2L1730.1,171.8" stroke="#1c1bbf" stroke-width="2.7"/><path d="M1730.1,171.8L1733,168.6" stroke="#1d1abd" stroke-width="2.7"/><path d="M1733,168.6L1736.2,165.4" stroke="#1d19ba" stroke-width="2.7"/><path d="M1736.2,165.4L1739.5,162.5" stroke="#1d18b8" stroke-width="2.7"/><path d="M1739.5,162.5L1743.1,159.8" stroke="#1d18b7" stroke-width="2.7"/><path d="M1743.1,159.8L1746.8,157.3" stroke="#1d18b6" stroke-width="2.7"/><path d="M1746.8,157.3L1750.8,155.2" stroke="#1d17b5" stroke-width="2.7"/><path d="M1750.8,155.2L1755.1,153.3" stroke="#1d17b5" stroke-width="2.7"/><path d="M1755.1,153.3L1759.9,151.6" stroke="#1d18b5" stroke-width="2.7"/><path d="M1759.9,151.6L1764.9,150.1" stroke="#1d18b7" stroke-width="2.7"/><path d="M1764.9,150.1L1770.1,148.9" stroke="#1d19b9" stroke-width="2.7"/><path d="M1770.1,148.9L1775.4,147.9" stroke="#1d19bb" stroke-width="2.7"/><path d="M1775.4,147.9L1780.5,147.3" stroke="#1c1abe" stroke-width="2.7"/><path d="M1780.5,147.3L1785.3,147.1" stroke="#1c1bc2" stroke-width="2.7"/><path d="M1785.3,147.1L1789.8,147.4" stroke="#1c1cc5" stroke-width="2.7"/><path d="M1789.8,147.4L1794,148.2" stroke="#1c1dc8" stroke-width="2.7"/><path d="M1794,148.2L1798,149.4" stroke="#1b1ecb" stroke-width="2.7"/><path d="M1798,149.4L1801.9,151" stroke="#1b20d2" stroke-width="2.7"/><path d="M1801.9,151L1805.6,153" stroke="#1a24de" stroke-width="2.6"/><path d="M1805.6,153L1809.1,155.3" stroke="#1929eb" stroke-width="2.5"/><path d="M1809.1,155.3L1812.4,157.7" stroke="#1c35ec" stroke-width="2.3"/><path d="M1812.4,157.7L1815.5,160.3" stroke="#1f44ed" stroke-width="2.2"/><path d="M1815.5,160.3L1818.4,163" stroke="#2253ee" stroke-width="2.1"/><path d="M1818.4,163L1821.1,166" stroke="#2664ef" stroke-width="1.9"/><path d="M1821.1,166L1823.6,169.6" stroke="#2d7fef" stroke-width="1.8"/><path d="M1823.6,169.6L1825.9,173.6" stroke="#38a7ed" stroke-width="1.7"/><path d="M1825.9,173.6L1828,177.6" stroke="#45d3eb" stroke-width="1.5"/><path d="M1828,177.6L1829.9,181.5" stroke="#5ee6d6" stroke-width="1.4"/><path d="M1829.9,181.5L1831.5,185.1" stroke="#7eefaf" stroke-width="1.2"/><path d="M1831.5,185.1L1832.9,188.1" stroke="#a6ed71" stroke-width="1.1"/><path d="M1832.9,188.1L1834,190.3" stroke="#c7eb3d" stroke-width="1.0"/><path d="M1701.4,238.4L1702.8,234.8" stroke="#ef731e" stroke-width="1.0"/><path d="M1702.8,234.8L1704.7,229.9" stroke="#e9ce2b" stroke-width="1.3"/><path d="M1704.7,229.9L1706.9,224" stroke="#b7ec56" stroke-width="1.5"/><path d="M1706.9,224L1709.4,217.5" stroke="#68ecce" stroke-width="1.7"/><path d="M1709.4,217.5L1712,210.9" stroke="#40c1ec" stroke-width="1.9"/><path d="M1712,210.9L1714.6,204.5" stroke="#2b77f0" stroke-width="2.1"/><path d="M1714.6,204.5L1717.2,198.8" stroke="#2355ee" stroke-width="2.2"/><path d="M1717.2,198.8L1719.6,194.2" stroke="#2250ee" stroke-width="2.2"/><path d="M1719.6,194.2L1721.8,190.5" stroke="#214dee" stroke-width="2.2"/><path d="M1721.8,190.5L1724,187.3" stroke="#204aed" stroke-width="2.2"/><path d="M1724,187.3L1726.2,184.5" stroke="#2048ed" stroke-width="2.2"/><path d="M1726.2,184.5L1728.4,182" stroke="#2047ed" stroke-width="2.2"/><path d="M1728.4,182L1730.6,179.9" stroke="#2047ed" stroke-width="2.2"/><path d="M1730.6,179.9L1732.9,178" stroke="#2047ed" stroke-width="2.2"/><path d="M1732.9,178L1735.3,176.3" stroke="#2048ed" stroke-width="2.2"/><path d="M1735.3,176.3L1737.8,174.7" stroke="#2049ed" stroke-width="2.2"/><path d="M1737.8,174.7L1740.5,173.3" stroke="#204bed" stroke-width="2.2"/><path d="M1740.5,173.3L1743.4,172.2" stroke="#214dee" stroke-width="2.2"/><path d="M1743.4,172.2L1746.4,171.2" stroke="#214fee" stroke-width="2.2"/><path d="M1746.4,171.2L1749.4,170.6" stroke="#2252ee" stroke-width="2.2"/><path d="M1749.4,170.6L1752.5,170.1" stroke="#2354ee" stroke-width="2.2"/><path d="M1752.5,170.1L1755.5,169.7" stroke="#2357ee" stroke-width="2.2"/><path d="M1755.5,169.7L1758.4,169.6" stroke="#245def" stroke-width="2.2"/><path d="M1758.4,169.6L1761.2,169.5" stroke="#2666ef" stroke-width="2.1"/><path d="M1761.2,169.5L1763.9,169.6" stroke="#2a75f0" stroke-width="2.0"/><path d="M1763.9,169.6L1766.8,170" stroke="#3290ee" stroke-width="1.9"/><path d="M1766.8,170L1769.6,170.6" stroke="#3aafed" stroke-width="1.8"/><path d="M1769.6,170.6L1772.3,171.4" stroke="#44d1eb" stroke-width="1.7"/><path d="M1772.3,171.4L1774.9,172.2" stroke="#58e2dc" stroke-width="1.6"/><path d="M1774.9,172.2L1777.2,173.1" stroke="#6defc9" stroke-width="1.5"/><path d="M1777.2,173.1L1779.2,173.9" stroke="#8fee95" stroke-width="1.4"/><path d="M1779.2,173.9L1780.7,174.7" stroke="#adec65" stroke-width="1.3"/><path d="M1780.7,174.7L1781.7,175.5" stroke="#c7eb3e" stroke-width="1.3"/><path d="M1781.7,175.5L1782.3,176.4" stroke="#d1e337" stroke-width="1.2"/><path d="M1782.3,176.4L1782.6,177.3" stroke="#dadc33" stroke-width="1.2"/><path d="M1782.6,177.3L1782.6,178.3" stroke="#e2d42f" stroke-width="1.1"/><path d="M1782.6,178.3L1782.4,179.2" stroke="#eacd2b" stroke-width="1.1"/><path d="M1782.4,179.2L1782.2,180" stroke="#f0c427" stroke-width="1.1"/><path d="M1782.2,180L1782,180.7" stroke="#f0b325" stroke-width="1.0"/><path d="M1782,180.7L1782,181.2" stroke="#f0a624" stroke-width="1.0"/><path d="M1727.4,264.4L1728.8,260" stroke="#ee721e" stroke-width="1.0"/><path d="M1728.8,260L1730.6,253.9" stroke="#eacd2b" stroke-width="1.3"/><path d="M1730.6,253.9L1732.8,246.7" stroke="#bbec50" stroke-width="1.5"/><path d="M1732.8,246.7L1735.2,238.7" stroke="#6beecb" stroke-width="1.7"/><path d="M1735.2,238.7L1737.8,230.6" stroke="#42c8ec" stroke-width="1.9"/><path d="M1737.8,230.6L1740.4,222.7" stroke="#2d7fef" stroke-width="2.1"/><path d="M1740.4,222.7L1743.1,215.6" stroke="#2356ee" stroke-width="2.2"/><path d="M1743.1,215.6L1745.6,209.8" stroke="#2251ee" stroke-width="2.2"/><path d="M1745.6,209.8L1748,205" stroke="#214dee" stroke-width="2.2"/><path d="M1748,205L1750.4,200.8" stroke="#204bed" stroke-width="2.2"/><path d="M1750.4,200.8L1752.8,197" stroke="#2049ed" stroke-width="2.2"/><path d="M1752.8,197L1755.2,193.6" stroke="#2048ed" stroke-width="2.2"/><path d="M1755.2,193.6L1757.7,190.7" stroke="#2047ed" stroke-width="2.2"/><path d="M1757.7,190.7L1760.4,188.1" stroke="#2047ed" stroke-width="2.2"/><path d="M1760.4,188.1L1763.3,185.8" stroke="#2048ed" stroke-width="2.2"/><path d="M1763.3,185.8L1766.4,183.8" stroke="#2049ed" stroke-width="2.2"/><path d="M1766.4,183.8L1769.8,182.1" stroke="#204aed" stroke-width="2.2"/><path d="M1769.8,182.1L1773.6,180.8" stroke="#214cee" stroke-width="2.2"/><path d="M1773.6,180.8L1777.5,179.8" stroke="#214fee" stroke-width="2.2"/><path d="M1777.5,179.8L1781.6,179.2" stroke="#2252ee" stroke-width="2.2"/><path d="M1781.6,179.2L1785.7,178.9" stroke="#2355ee" stroke-width="2.2"/><path d="M1785.7,178.9L1789.8,178.9" stroke="#2358ee" stroke-width="2.2"/><path d="M1789.8,178.9L1793.8,179.2" stroke="#255fef" stroke-width="2.2"/><path d="M1793.8,179.2L1797.6,179.9" stroke="#2769f0" stroke-width="2.1"/><path d="M1797.6,179.9L1801.4,181.1" stroke="#2d7fef" stroke-width="1.9"/><path d="M1801.4,181.1L1805.3,183.1" stroke="#369fee" stroke-width="1.8"/><path d="M1805.3,183.1L1809.3,185.5" stroke="#42c7ec" stroke-width="1.7"/><path d="M1809.3,185.5L1813.2,188.1" stroke="#58e2db" stroke-width="1.5"/><path d="M1813.2,188.1L1816.8,190.8" stroke="#7befb3" stroke-width="1.4"/><path d="M1816.8,190.8L1820.1,193.3" stroke="#b0ec62" stroke-width="1.2"/><path d="M1820.1,193.3L1822.8,195.4" stroke="#d4e136" stroke-width="1.1"/><path d="M1822.8,195.4L1824.9,196.8" stroke="#e7d02c" stroke-width="1.0"/><path d="M1600,285.2L1598.4,282.5" stroke="#e6591c" stroke-width="1.0"/><path d="M1598.4,282.5L1596.3,278.8" stroke="#f09b22" stroke-width="1.2"/><path d="M1596.3,278.8L1593.7,274.4" stroke="#e8cf2c" stroke-width="1.4"/><path d="M1593.7,274.4L1590.9,269.5" stroke="#cee639" stroke-width="1.5"/><path d="M1590.9,269.5L1587.9,264.5" stroke="#a0ed7b" stroke-width="1.7"/><path d="M1587.9,264.5L1584.9,259.6" stroke="#6ff0c6" stroke-width="1.8"/><path d="M1584.9,259.6L1581.9,255.2" stroke="#55e1dd" stroke-width="1.9"/><path d="M1581.9,255.2L1579.2,251.4" stroke="#43ccec" stroke-width="2.0"/><path d="M1579.2,251.4L1576.8,248.2" stroke="#3aaced" stroke-width="2.1"/><path d="M1576.8,248.2L1574.5,245.2" stroke="#3291ee" stroke-width="2.2"/><path d="M1574.5,245.2L1572.4,242.4" stroke="#2b78f0" stroke-width="2.2"/><path d="M1572.4,242.4L1570.3,239.9" stroke="#2667ef" stroke-width="2.3"/><path d="M1570.3,239.9L1567.9,237.5" stroke="#245aef" stroke-width="2.4"/><path d="M1567.9,237.5L1565.2,235.4" stroke="#214eee" stroke-width="2.4"/><path d="M1565.2,235.4L1562.1,233.6" stroke="#1f42ed" stroke-width="2.5"/><path d="M1562.1,233.6L1558.4,231.9" stroke="#1c34ec" stroke-width="2.5"/><path d="M1558.4,231.9L1554,230.4" stroke="#1927e7" stroke-width="2.6"/><path d="M1554,230.4L1549,229" stroke="#1b20d0" stroke-width="2.7"/><path d="M1549,229L1543.5,227.8" stroke="#1c1dc8" stroke-width="2.7"/><path d="M1543.5,227.8L1537.8,226.9" stroke="#1c1cc4" stroke-width="2.7"/><path d="M1537.8,226.9L1531.8,226.2" stroke="#1c1bc1" stroke-width="2.7"/><path d="M1531.8,226.2L1525.8,225.9" stroke="#1c1abe" stroke-width="2.7"/><path d="M1525.8,225.9L1519.9,226.1" stroke="#1d19bb" stroke-width="2.7"/><path d="M1519.9,226.1L1514.2,226.7" stroke="#1d18b9" stroke-width="2.7"/><path d="M1514.2,226.7L1508.6,227.8" stroke="#1d18b7" stroke-width="2.7"/><path d="M1508.6,227.8L1503,229.3" stroke="#1d18b6" stroke-width="2.7"/><path d="M1503,229.3L1497.4,231.2" stroke="#1d17b5" stroke-width="2.7"/><path d="M1497.4,231.2L1491.8,233.5" stroke="#1d17b5" stroke-width="2.7"/><path d="M1491.8,233.5L1486.2,236.2" stroke="#1d18b6" stroke-width="2.7"/><path d="M1486.2,236.2L1480.7,239.2" stroke="#1d18b7" stroke-width="2.7"/><path d="M1480.7,239.2L1475.3,242.5" stroke="#1d19b9" stroke-width="2.7"/><path d="M1475.3,242.5L1470,246.2" stroke="#1d19bc" stroke-width="2.7"/><path d="M1470,246.2L1464.7,250.4" stroke="#1c1abf" stroke-width="2.7"/><path d="M1464.7,250.4L1459.4,255.2" stroke="#1c1cc3" stroke-width="2.7"/><path d="M1459.4,255.2L1454,260.5" stroke="#1c1dc7" stroke-width="2.7"/><path d="M1454,260.5L1448.8,266.1" stroke="#1b1fcc" stroke-width="2.7"/><path d="M1448.8,266.1L1443.8,271.8" stroke="#1a24dc" stroke-width="2.6"/><path d="M1443.8,271.8L1439.1,277.4" stroke="#1b30ec" stroke-width="2.4"/><path d="M1439.1,277.4L1434.8,282.8" stroke="#2047ed" stroke-width="2.3"/><path d="M1434.8,282.8L1431,287.8" stroke="#2561ef" stroke-width="2.1"/><path d="M1431,287.8L1427.7,292.6" stroke="#2f85ef" stroke-width="1.9"/><path d="M1427.7,292.6L1424.8,297.6" stroke="#3db7ed" stroke-width="1.8"/><path d="M1424.8,297.6L1422.3,302.5" stroke="#52dee1" stroke-width="1.6"/><path d="M1422.3,302.5L1420.1,307.3" stroke="#73f0c1" stroke-width="1.5"/><path d="M1420.1,307.3L1418.2,311.7" stroke="#a8ed6e" stroke-width="1.3"/><path d="M1418.2,311.7L1416.6,315.7" stroke="#d1e438" stroke-width="1.2"/><path d="M1416.6,315.7L1415.3,319" stroke="#e6d12d" stroke-width="1.1"/><path d="M1415.3,319L1414.1,321.6" stroke="#f0b425" stroke-width="1.0"/><path d="M1571.4,256.6L1568.8,253" stroke="#ee711e" stroke-width="1.0"/><path d="M1568.8,253L1565.2,247.9" stroke="#eccc2a" stroke-width="1.3"/><path d="M1565.2,247.9L1561,241.8" stroke="#bfec4a" stroke-width="1.5"/><path d="M1561,241.8L1556.4,235.1" stroke="#6ef0c8" stroke-width="1.7"/><path d="M1556.4,235.1L1551.5,228.4" stroke="#44cfeb" stroke-width="1.9"/><path d="M1551.5,228.4L1546.6,222.1" stroke="#2f87ef" stroke-width="2.0"/><path d="M1546.6,222.1L1541.9,216.6" stroke="#2459ef" stroke-width="2.2"/><path d="M1541.9,216.6L1537.6,212.4" stroke="#2252ee" stroke-width="2.2"/><path d="M1537.6,212.4L1533.7,209.4" stroke="#214fee" stroke-width="2.2"/><path d="M1533.7,209.4L1529.9,207.2" stroke="#214cee" stroke-width="2.2"/><path d="M1529.9,207.2L1526.2,205.5" stroke="#204aed" stroke-width="2.2"/><path d="M1526.2,205.5L1522.6,204.4" stroke="#2048ed" stroke-width="2.2"/><path d="M1522.6,204.4L1518.9,203.7" stroke="#2048ed" stroke-width="2.2"/><path d="M1518.9,203.7L1515.3,203.2" stroke="#2047ed" stroke-width="2.2"/><path d="M1515.3,203.2L1511.5,202.8" stroke="#2047ed" stroke-width="2.2"/><path d="M1511.5,202.8L1507.7,202.5" stroke="#2048ed" stroke-width="2.2"/><path d="M1507.7,202.5L1503.8,202.3" stroke="#2049ed" stroke-width="2.2"/><path d="M1503.8,202.3L1499.7,202.4" stroke="#204bed" stroke-width="2.2"/><path d="M1499.7,202.4L1495.6,202.7" stroke="#214dee" stroke-width="2.2"/><path d="M1495.6,202.7L1491.5,203.3" stroke="#214fee" stroke-width="2.2"/><path d="M1491.5,203.3L1487.4,204" stroke="#2252ee" stroke-width="2.2"/><path d="M1487.4,204L1483.3,204.9" stroke="#2355ee" stroke-width="2.2"/><path d="M1483.3,204.9L1479.2,206" stroke="#2359ee" stroke-width="2.2"/><path d="M1479.2,206L1475.2,207.2" stroke="#2561ef" stroke-width="2.1"/><path d="M1475.2,207.2L1471,208.7" stroke="#286ff0" stroke-width="2.0"/><path d="M1471,208.7L1466.6,210.7" stroke="#3290ee" stroke-width="1.9"/><path d="M1466.6,210.7L1462,212.9" stroke="#3ebaec" stroke-width="1.7"/><path d="M1462,212.9L1457.6,215.3" stroke="#51dee1" stroke-width="1.6"/><path d="M1457.6,215.3L1453.4,217.6" stroke="#72f0c1" stroke-width="1.4"/><path d="M1453.4,217.6L1449.6,219.7" stroke="#a9ed6c" stroke-width="1.3"/><path d="M1449.6,219.7L1446.4,221.5" stroke="#d2e237" stroke-width="1.1"/><path d="M1446.4,221.5L1444,222.8" stroke="#e7d02d" stroke-width="1.0"/><path d="M1576.6,276.1L1574.5,272.3" stroke="#ed6e1d" stroke-width="1.0"/><path d="M1574.5,272.3L1571.7,267" stroke="#eeca29" stroke-width="1.3"/><path d="M1571.7,267L1568.4,260.7" stroke="#c7eb3e" stroke-width="1.6"/><path d="M1568.4,260.7L1564.7,253.8" stroke="#79efb8" stroke-width="1.8"/><path d="M1564.7,253.8L1560.7,246.8" stroke="#49d9e8" stroke-width="2.0"/><path d="M1560.7,246.8L1556.6,240.3" stroke="#3498ee" stroke-width="2.2"/><path d="M1556.6,240.3L1552.3,234.7" stroke="#2664ef" stroke-width="2.3"/><path d="M1552.3,234.7L1548,230.6" stroke="#2047ed" stroke-width="2.5"/><path d="M1548,230.6L1543.6,227.8" stroke="#1b30ec" stroke-width="2.6"/><path d="M1543.6,227.8L1539,225.9" stroke="#1a23d9" stroke-width="2.7"/><path d="M1539,225.9L1534.1,224.7" stroke="#1c1dc9" stroke-width="2.7"/><path d="M1534.1,224.7L1529.2,224.1" stroke="#1c1cc5" stroke-width="2.7"/><path d="M1529.2,224.1L1524.1,223.9" stroke="#1c1bc1" stroke-width="2.7"/><path d="M1524.1,223.9L1519,223.9" stroke="#1c1abe" stroke-width="2.7"/><path d="M1519,223.9L1513.9,224" stroke="#1d19bb" stroke-width="2.7"/><path d="M1513.9,224L1509,224.1" stroke="#1d19b9" stroke-width="2.7"/><path d="M1509,224.1L1504.2,224.2" stroke="#1d18b7" stroke-width="2.7"/><path d="M1504.2,224.2L1499.4,224.5" stroke="#1d18b6" stroke-width="2.7"/><path d="M1499.4,224.5L1494.6,225.1" stroke="#1d17b5" stroke-width="2.7"/><path d="M1494.6,225.1L1489.8,225.8" stroke="#1d17b5" stroke-width="2.7"/><path d="M1489.8,225.8L1485,226.7" stroke="#1d18b5" stroke-width="2.7"/><path d="M1485,226.7L1480.1,227.8" stroke="#1d18b7" stroke-width="2.7"/><path d="M1480.1,227.8L1475.1,229.1" stroke="#1d18b8" stroke-width="2.7"/><path d="M1475.1,229.1L1470,230.6" stroke="#1d19bb" stroke-width="2.7"/><path d="M1470,230.6L1464.5,232.3" stroke="#1c1abe" stroke-width="2.7"/><path d="M1464.5,232.3L1458.7,234.1" stroke="#1c1bc2" stroke-width="2.7"/><path d="M1458.7,234.1L1452.6,236.2" stroke="#1c1dc6" stroke-width="2.7"/><path d="M1452.6,236.2L1446.5,238.4" stroke="#1b1ecb" stroke-width="2.7"/><path d="M1446.5,238.4L1440.6,240.8" stroke="#1a23db" stroke-width="2.7"/><path d="M1440.6,240.8L1435.1,243.3" stroke="#1b30ec" stroke-width="2.5"/><path d="M1435.1,243.3L1430.1,246" stroke="#2047ed" stroke-width="2.3"/><path d="M1430.1,246L1425.8,248.8" stroke="#2561ef" stroke-width="2.1"/><path d="M1425.8,248.8L1422.3,252" stroke="#2f87ef" stroke-width="2.0"/><path d="M1422.3,252L1419.3,255.6" stroke="#3ebbec" stroke-width="1.8"/><path d="M1419.3,255.6L1416.7,259.6" stroke="#55e1de" stroke-width="1.7"/><path d="M1416.7,259.6L1414.6,263.6" stroke="#7defb1" stroke-width="1.5"/><path d="M1414.6,263.6L1412.8,267.5" stroke="#b7ec56" stroke-width="1.4"/><path d="M1412.8,267.5L1411.3,271" stroke="#dbda32" stroke-width="1.2"/><path d="M1411.3,271L1410,273.9" stroke="#f0bf27" stroke-width="1.1"/><path d="M1410,273.9L1408.9,276.1" stroke="#f08e21" stroke-width="1.0"/><path d="M1568.8,293L1566.4,290.8" stroke="#e85e1c" stroke-width="1.0"/><path d="M1566.4,290.8L1563.4,287.8" stroke="#f0a524" stroke-width="1.2"/><path d="M1563.4,287.8L1559.7,284.1" stroke="#e1d52f" stroke-width="1.3"/><path d="M1559.7,284.1L1555.6,280.2" stroke="#c2eb46" stroke-width="1.5"/><path d="M1555.6,280.2L1551.2,276.2" stroke="#89ef9e" stroke-width="1.6"/><path d="M1551.2,276.2L1546.7,272.5" stroke="#5fe7d5" stroke-width="1.8"/><path d="M1546.7,272.5L1542.1,269.3" stroke="#45d2eb" stroke-width="1.9"/><path d="M1542.1,269.3L1537.6,267" stroke="#38a7ed" stroke-width="2.0"/><path d="M1537.6,267L1533.1,265.4" stroke="#2d81ef" stroke-width="2.1"/><path d="M1533.1,265.4L1528.5,264.2" stroke="#2664ef" stroke-width="2.1"/><path d="M1528.5,264.2L1523.7,263.4" stroke="#2356ee" stroke-width="2.2"/><path d="M1523.7,263.4L1518.8,262.9" stroke="#2252ee" stroke-width="2.2"/><path d="M1518.8,262.9L1513.8,262.8" stroke="#214fee" stroke-width="2.2"/><path d="M1513.8,262.8L1508.7,263" stroke="#214cee" stroke-width="2.2"/><path d="M1508.7,263L1503.7,263.6" stroke="#204aed" stroke-width="2.2"/><path d="M1503.7,263.6L1498.6,264.4" stroke="#2048ed" stroke-width="2.2"/><path d="M1498.6,264.4L1493.5,265.6" stroke="#2047ed" stroke-width="2.2"/><path d="M1493.5,265.6L1488.2,267.2" stroke="#2047ed" stroke-width="2.2"/><path d="M1488.2,267.2L1482.8,269.1" stroke="#2048ed" stroke-width="2.2"/><path d="M1482.8,269.1L1477.4,271.4" stroke="#2049ed" stroke-width="2.2"/><path d="M1477.4,271.4L1472,273.9" stroke="#214cee" stroke-width="2.2"/><path d="M1472,273.9L1466.8,276.6" stroke="#214fee" stroke-width="2.2"/><path d="M1466.8,276.6L1461.8,279.6" stroke="#2253ee" stroke-width="2.2"/><path d="M1461.8,279.6L1457,282.6" stroke="#2357ee" stroke-width="2.2"/><path d="M1457,282.6L1452.3,286.1" stroke="#245def" stroke-width="2.2"/><path d="M1452.3,286.1L1447.5,290.2" stroke="#286cf0" stroke-width="2.0"/><path d="M1447.5,290.2L1442.7,294.7" stroke="#3290ee" stroke-width="1.8"/><path d="M1442.7,294.7L1438.2,299.3" stroke="#40c0ec" stroke-width="1.6"/><path d="M1438.2,299.3L1433.9,303.8" stroke="#58e2db" stroke-width="1.5"/><path d="M1433.9,303.8L1430.1,307.9" stroke="#81efab" stroke-width="1.3"/><path d="M1430.1,307.9L1426.9,311.3" stroke="#b6ec57" stroke-width="1.2"/><path d="M1426.9,311.3L1424.5,313.8" stroke="#d6df35" stroke-width="1.0"/><path d="M1576.6,306L1574.4,304.3" stroke="#e75b1c" stroke-width="1.0"/><path d="M1574.4,304.3L1571.6,301.8" stroke="#f09e23" stroke-width="1.1"/><path d="M1571.6,301.8L1568.2,298.8" stroke="#e6d12d" stroke-width="1.3"/><path d="M1568.2,298.8L1564.4,295.6" stroke="#cbe83a" stroke-width="1.5"/><path d="M1564.4,295.6L1560.4,292.4" stroke="#99ee85" stroke-width="1.6"/><path d="M1560.4,292.4L1556.2,289.4" stroke="#6aedcc" stroke-width="1.7"/><path d="M1556.2,289.4L1552,286.9" stroke="#50dde3" stroke-width="1.8"/><path d="M1552,286.9L1548,285.2" stroke="#3fbfec" stroke-width="1.9"/><path d="M1548,285.2L1544,284.1" stroke="#359cee" stroke-width="2.0"/><path d="M1544,284.1L1540,283.2" stroke="#2b7aef" stroke-width="2.1"/><path d="M1540,283.2L1535.8,282.8" stroke="#2662ef" stroke-width="2.2"/><path d="M1535.8,282.8L1531.6,282.6" stroke="#2356ee" stroke-width="2.2"/><path d="M1531.6,282.6L1527.3,282.8" stroke="#2253ee" stroke-width="2.2"/><path d="M1527.3,282.8L1523,283.3" stroke="#2250ee" stroke-width="2.2"/><path d="M1523,283.3L1518.6,284.1" stroke="#214dee" stroke-width="2.2"/><path d="M1518.6,284.1L1514.2,285.2" stroke="#204bed" stroke-width="2.2"/><path d="M1514.2,285.2L1509.7,286.7" stroke="#2049ed" stroke-width="2.2"/><path d="M1509.7,286.7L1505.2,288.5" stroke="#2048ed" stroke-width="2.2"/><path d="M1505.2,288.5L1500.5,290.7" stroke="#2047ed" stroke-width="2.2"/><path d="M1500.5,290.7L1495.8,293.2" stroke="#2047ed" stroke-width="2.2"/><path d="M1495.8,293.2L1491.2,296" stroke="#2049ed" stroke-width="2.2"/><path d="M1491.2,296L1486.6,299" stroke="#204bed" stroke-width="2.2"/><path d="M1486.6,299L1482.1,302.4" stroke="#214eee" stroke-width="2.2"/><path d="M1482.1,302.4L1477.8,306" stroke="#2251ee" stroke-width="2.2"/><path d="M1477.8,306L1473.4,310.3" stroke="#2356ee" stroke-width="2.2"/><path d="M1473.4,310.3L1468.9,315.4" stroke="#245def" stroke-width="2.2"/><path d="M1468.9,315.4L1464.3,321" stroke="#2972f0" stroke-width="2.0"/><path d="M1464.3,321L1459.9,326.8" stroke="#38a7ed" stroke-width="1.8"/><path d="M1459.9,326.8L1455.8,332.4" stroke="#50dde3" stroke-width="1.6"/><path d="M1455.8,332.4L1452.1,337.6" stroke="#80efac" stroke-width="1.4"/><path d="M1452.1,337.6L1449,341.9" stroke="#c5eb41" stroke-width="1.2"/><path d="M1449,341.9L1446.6,345" stroke="#e3d32e" stroke-width="1.1"/><path d="M1613,324.2L1611.3,321.7" stroke="#e9601d" stroke-width="1.0"/><path d="M1611.3,321.7L1609,318.2" stroke="#f0ab24" stroke-width="1.2"/><path d="M1609,318.2L1606.3,314" stroke="#ddd831" stroke-width="1.4"/><path d="M1606.3,314L1603.3,309.4" stroke="#b6ec58" stroke-width="1.6"/><path d="M1603.3,309.4L1600.1,304.7" stroke="#7aefb5" stroke-width="1.8"/><path d="M1600.1,304.7L1596.6,300.3" stroke="#55e0de" stroke-width="1.9"/><path d="M1596.6,300.3L1593.1,296.2" stroke="#3fbeec" stroke-width="2.1"/><path d="M1593.1,296.2L1589.6,293" stroke="#3291ee" stroke-width="2.2"/><path d="M1589.6,293L1586,290.2" stroke="#276cf0" stroke-width="2.3"/><path d="M1586,290.2L1582.2,287.6" stroke="#2357ee" stroke-width="2.4"/><path d="M1582.2,287.6L1578.2,285.1" stroke="#1f42ed" stroke-width="2.5"/><path d="M1578.2,285.1L1574.1,282.9" stroke="#1a2eeb" stroke-width="2.6"/><path d="M1574.1,282.9L1569.9,281.2" stroke="#1a22d8" stroke-width="2.7"/><path d="M1569.9,281.2L1565.6,280.1" stroke="#1c1dc9" stroke-width="2.7"/><path d="M1565.6,280.1L1561.3,279.6" stroke="#1c1cc6" stroke-width="2.7"/><path d="M1561.3,279.6L1557.1,280" stroke="#1c1bc2" stroke-width="2.7"/><path d="M1557.1,280L1552.8,281.3" stroke="#1c1bbf" stroke-width="2.7"/><path d="M1552.8,281.3L1548.3,283.5" stroke="#1d1abc" stroke-width="2.7"/><path d="M1548.3,283.5L1543.8,286.5" stroke="#1d19b9" stroke-width="2.7"/><path d="M1543.8,286.5L1539.2,290" stroke="#1d18b7" stroke-width="2.7"/><path d="M1539.2,290L1534.7,293.9" stroke="#1d18b6" stroke-width="2.7"/><path d="M1534.7,293.9L1530.3,297.9" stroke="#1d17b5" stroke-width="2.7"/><path d="M1530.3,297.9L1526,302" stroke="#1d17b5" stroke-width="2.7"/><path d="M1526,302L1522,306" stroke="#1d18b6" stroke-width="2.7"/><path d="M1522,306L1518.1,309.9" stroke="#1d18b8" stroke-width="2.7"/><path d="M1518.1,309.9L1514.4,314" stroke="#1d19bb" stroke-width="2.7"/><path d="M1514.4,314L1510.7,318.3" stroke="#1c1abe" stroke-width="2.7"/><path d="M1510.7,318.3L1507.2,322.7" stroke="#1c1bc2" stroke-width="2.7"/><path d="M1507.2,322.7L1503.8,327.2" stroke="#1c1dc7" stroke-width="2.7"/><path d="M1503.8,327.2L1500.6,331.7" stroke="#1b1ecb" stroke-width="2.7"/><path d="M1500.6,331.7L1497.6,336.4" stroke="#1b22d7" stroke-width="2.7"/><path d="M1497.6,336.4L1494.7,341.1" stroke="#192aeb" stroke-width="2.5"/><path d="M1494.7,341.1L1492,346.2" stroke="#1e40ed" stroke-width="2.3"/><path d="M1492,346.2L1489.3,351.8" stroke="#245cef" stroke-width="2.1"/><path d="M1489.3,351.8L1486.9,357.6" stroke="#318def" stroke-width="1.9"/><path d="M1486.9,357.6L1484.5,363.4" stroke="#45d5eb" stroke-width="1.7"/><path d="M1484.5,363.4L1482.4,369" stroke="#74f0bf" stroke-width="1.5"/><path d="M1482.4,369L1480.6,374" stroke="#c1eb47" stroke-width="1.3"/><path d="M1480.6,374L1479,378.3" stroke="#e7d02c" stroke-width="1.2"/><path d="M1479,378.3L1477.8,381.4" stroke="#f09722" stroke-width="1.1"/><path d="M1636.4,300.8L1635.9,298.5" stroke="#e6571c" stroke-width="1.0"/><path d="M1635.9,298.5L1635.3,295.2" stroke="#f09722" stroke-width="1.2"/><path d="M1635.3,295.2L1634.5,291.3" stroke="#eacd2b" stroke-width="1.3"/><path d="M1634.5,291.3L1633.6,287.1" stroke="#d0e438" stroke-width="1.5"/><path d="M1633.6,287.1L1632.7,282.8" stroke="#a7ed6f" stroke-width="1.6"/><path d="M1632.7,282.8L1631.8,278.6" stroke="#79efb7" stroke-width="1.8"/><path d="M1631.8,278.6L1630.8,275" stroke="#5ee6d6" stroke-width="1.9"/><path d="M1630.8,275L1629.9,272.2" stroke="#4bdae7" stroke-width="2.0"/><path d="M1629.9,272.2L1629,269.9" stroke="#41c7ec" stroke-width="2.0"/><path d="M1629,269.9L1628.2,267.9" stroke="#3bb2ed" stroke-width="2.1"/><path d="M1628.2,267.9L1627.4,266.1" stroke="#369fee" stroke-width="2.1"/><path d="M1627.4,266.1L1626.5,264.6" stroke="#318fee" stroke-width="2.2"/><path d="M1626.5,264.6L1625.6,263.6" stroke="#2e82ef" stroke-width="2.2"/><path d="M1625.6,263.6L1624.5,262.9" stroke="#2a76f0" stroke-width="2.3"/><path d="M1624.5,262.9L1623.4,262.7" stroke="#286df0" stroke-width="2.3"/><path d="M1623.4,262.7L1622.1,263.1" stroke="#2767f0" stroke-width="2.3"/><path d="M1622.1,263.1L1620.6,264.1" stroke="#2560ef" stroke-width="2.3"/><path d="M1620.6,264.1L1619,265.8" stroke="#2357ee" stroke-width="2.4"/><path d="M1619,265.8L1617.2,267.9" stroke="#204bed" stroke-width="2.4"/><path d="M1617.2,267.9L1615.3,270.5" stroke="#1e3eed" stroke-width="2.5"/><path d="M1615.3,270.5L1613.4,273.4" stroke="#1b2fec" stroke-width="2.6"/><path d="M1613.4,273.4L1611.4,276.4" stroke="#1a25e0" stroke-width="2.6"/><path d="M1611.4,276.4L1609.6,279.5" stroke="#1b1ecb" stroke-width="2.7"/><path d="M1609.6,279.5L1607.8,282.6" stroke="#1c1dc8" stroke-width="2.7"/><path d="M1607.8,282.6L1606.1,285.6" stroke="#1c1cc5" stroke-width="2.7"/><path d="M1606.1,285.6L1604.4,288.7" stroke="#1c1cc3" stroke-width="2.7"/><path d="M1604.4,288.7L1602.7,291.9" stroke="#1c1bc0" stroke-width="2.7"/><path d="M1602.7,291.9L1601,295.2" stroke="#1c1abe" stroke-width="2.7"/><path d="M1601,295.2L1599.3,298.7" stroke="#1d19bb" stroke-width="2.7"/><path d="M1599.3,298.7L1597.7,302.6" stroke="#1d19b9" stroke-width="2.7"/><path d="M1597.7,302.6L1596.2,306.7" stroke="#1d18b7" stroke-width="2.7"/><path d="M1596.2,306.7L1594.8,311.2" stroke="#1d18b6" stroke-width="2.7"/><path d="M1594.8,311.2L1593.5,316.1" stroke="#1d17b5" stroke-width="2.7"/><path d="M1593.5,316.1L1592.2,321.3" stroke="#1d17b5" stroke-width="2.7"/><path d="M1592.2,321.3L1591,326.8" stroke="#1d18b5" stroke-width="2.7"/><path d="M1591,326.8L1589.8,332.7" stroke="#1d18b7" stroke-width="2.7"/><path d="M1589.8,332.7L1588.8,338.7" stroke="#1d19b9" stroke-width="2.7"/><path d="M1588.8,338.7L1587.7,345" stroke="#1d1abd" stroke-width="2.7"/><path d="M1587.7,345L1586.7,351.4" stroke="#1c1bc1" stroke-width="2.7"/><path d="M1586.7,351.4L1585.7,358" stroke="#1c1dc6" stroke-width="2.7"/><path d="M1585.7,358L1584.7,365.3" stroke="#1b1ecb" stroke-width="2.7"/><path d="M1584.7,365.3L1583.7,373.4" stroke="#1a24df" stroke-width="2.6"/><path d="M1583.7,373.4L1582.8,382.1" stroke="#1d3cec" stroke-width="2.3"/><path d="M1582.8,382.1L1581.9,390.8" stroke="#2662ef" stroke-width="2.0"/><path d="M1581.9,390.8L1581,399.2" stroke="#3aaded" stroke-width="1.8"/><path d="M1581,399.2L1580.3,406.7" stroke="#62e8d3" stroke-width="1.5"/><path d="M1580.3,406.7L1579.7,413.1" stroke="#b0ec62" stroke-width="1.3"/><path d="M1579.7,413.1L1579.2,417.8" stroke="#e0d630" stroke-width="1.1"/><path d="M1597.4,308.6L1596.3,309.1" stroke="#e24c1b" stroke-width="0.9"/><path d="M1596.3,309.1L1594.9,309.9" stroke="#f07d1f" stroke-width="1.1"/><path d="M1594.9,309.9L1593.1,310.7" stroke="#f0ad25" stroke-width="1.2"/><path d="M1593.1,310.7L1591.1,311.7" stroke="#e8cf2c" stroke-width="1.3"/><path d="M1591.1,311.7L1589.2,312.7" stroke="#d5df35" stroke-width="1.4"/><path d="M1589.2,312.7L1587.3,313.6" stroke="#c1eb47" stroke-width="1.5"/><path d="M1587.3,313.6L1585.7,314.4" stroke="#a3ed76" stroke-width="1.6"/><path d="M1585.7,314.4L1584.4,315.1" stroke="#8bee9b" stroke-width="1.6"/><path d="M1584.4,315.1L1583.6,315.4" stroke="#7aefb5" stroke-width="1.7"/><path d="M1583.6,315.4L1583.2,315.4" stroke="#71f0c3" stroke-width="1.7"/><path d="M1583.2,315.4L1583,315.2" stroke="#6defc9" stroke-width="1.7"/><path d="M1583,315.2L1582.9,314.9" stroke="#6beecb" stroke-width="1.7"/><path d="M1582.9,314.9L1582.7,314.9" stroke="#69edcc" stroke-width="1.7"/><path d="M1582.7,314.9L1582.4,315.2" stroke="#67ecce" stroke-width="1.7"/><path d="M1582.4,315.2L1581.7,316.1" stroke="#61e8d4" stroke-width="1.7"/><path d="M1581.7,316.1L1580.5,317.7" stroke="#55e0de" stroke-width="1.8"/><path d="M1580.5,317.7L1578.8,320" stroke="#45d2eb" stroke-width="1.9"/><path d="M1578.8,320L1576.7,322.7" stroke="#39abed" stroke-width="2.0"/><path d="M1576.7,322.7L1574.2,325.9" stroke="#2d7eef" stroke-width="2.1"/><path d="M1574.2,325.9L1571.6,329.5" stroke="#245cef" stroke-width="2.2"/><path d="M1571.6,329.5L1568.8,333.5" stroke="#2253ee" stroke-width="2.2"/><path d="M1568.8,333.5L1566.1,337.8" stroke="#214eee" stroke-width="2.2"/><path d="M1566.1,337.8L1563.4,342.6" stroke="#204aed" stroke-width="2.2"/><path d="M1563.4,342.6L1561,347.6" stroke="#2048ed" stroke-width="2.2"/><path d="M1561,347.6L1558.6,353.5" stroke="#2047ed" stroke-width="2.2"/><path d="M1558.6,353.5L1556.2,360.5" stroke="#204aed" stroke-width="2.2"/><path d="M1556.2,360.5L1553.7,368.2" stroke="#2250ee" stroke-width="2.2"/><path d="M1553.7,368.2L1551.3,376.1" stroke="#2358ee" stroke-width="2.2"/><path d="M1551.3,376.1L1549.1,383.8" stroke="#3089ef" stroke-width="1.9"/><path d="M1549.1,383.8L1547.1,390.8" stroke="#57e1dd" stroke-width="1.6"/><path d="M1547.1,390.8L1545.4,396.6" stroke="#beec4b" stroke-width="1.3"/><path d="M1545.4,396.6L1544.1,400.9" stroke="#f0b325" stroke-width="1.1"/><path d="M1640.3,326.8L1639.9,325.9" stroke="#e4511c" stroke-width="1.0"/><path d="M1639.9,325.9L1639.3,324.7" stroke="#f08920" stroke-width="1.1"/><path d="M1639.3,324.7L1638.7,323.3" stroke="#f0c027" stroke-width="1.3"/><path d="M1638.7,323.3L1637.9,321.7" stroke="#ddd932" stroke-width="1.4"/><path d="M1637.9,321.7L1637.2,320.1" stroke="#c8eb3c" stroke-width="1.6"/><path d="M1637.2,320.1L1636.4,318.6" stroke="#a0ed7a" stroke-width="1.7"/><path d="M1636.4,318.6L1635.7,317.3" stroke="#7fefae" stroke-width="1.8"/><path d="M1635.7,317.3L1635.1,316.4" stroke="#68eccd" stroke-width="1.8"/><path d="M1635.1,316.4L1634.6,315.6" stroke="#5ce5d8" stroke-width="1.9"/><path d="M1634.6,315.6L1634.1,314.8" stroke="#52dee1" stroke-width="1.9"/><path d="M1634.1,314.8L1633.7,314.1" stroke="#48d8e9" stroke-width="2.0"/><path d="M1633.7,314.1L1633.2,313.6" stroke="#43ccec" stroke-width="2.0"/><path d="M1633.2,313.6L1632.8,313.3" stroke="#40c0ec" stroke-width="2.1"/><path d="M1632.8,313.3L1632.3,313.4" stroke="#3db7ed" stroke-width="2.1"/><path d="M1632.3,313.4L1631.8,314" stroke="#3aaced" stroke-width="2.1"/><path d="M1631.8,314L1631.2,315.1" stroke="#3499ee" stroke-width="2.2"/><path d="M1631.2,315.1L1630.5,316.7" stroke="#2d7eef" stroke-width="2.2"/><path d="M1630.5,316.7L1629.7,318.7" stroke="#2664ef" stroke-width="2.3"/><path d="M1629.7,318.7L1628.8,321" stroke="#214fee" stroke-width="2.4"/><path d="M1628.8,321L1628,323.8" stroke="#1c36ec" stroke-width="2.5"/><path d="M1628,323.8L1627.1,327" stroke="#1a23d9" stroke-width="2.7"/><path d="M1627.1,327L1626.2,330.7" stroke="#1c1dc7" stroke-width="2.7"/><path d="M1626.2,330.7L1625.4,335" stroke="#1c1bc1" stroke-width="2.7"/><path d="M1625.4,335L1624.7,339.8" stroke="#1d19bb" stroke-width="2.7"/><path d="M1624.7,339.8L1624.1,345.8" stroke="#1d18b6" stroke-width="2.7"/><path d="M1624.1,345.8L1623.5,353.2" stroke="#1d17b5" stroke-width="2.7"/><path d="M1623.5,353.2L1622.9,361.4" stroke="#1d19ba" stroke-width="2.7"/><path d="M1622.9,361.4L1622.3,369.9" stroke="#1c1cc6" stroke-width="2.7"/><path d="M1622.3,369.9L1621.9,378.3" stroke="#1a26e3" stroke-width="2.5"/><path d="M1621.9,378.3L1621.4,386" stroke="#245cef" stroke-width="2.0"/><path d="M1621.4,386L1621.1,392.4" stroke="#44d0eb" stroke-width="1.5"/><path d="M1621.1,392.4L1620.8,397" stroke="#9ded7f" stroke-width="1.2"/><path d="M1671.5,316.4L1672.2,315.3" stroke="#e4521c" stroke-width="1.0"/><path d="M1672.2,315.3L1673.2,313.8" stroke="#f08a20" stroke-width="1.1"/><path d="M1673.2,313.8L1674.3,312" stroke="#f0c227" stroke-width="1.3"/><path d="M1674.3,312L1675.6,310.1" stroke="#dcd932" stroke-width="1.4"/><path d="M1675.6,310.1L1676.9,308.1" stroke="#c6eb40" stroke-width="1.6"/><path d="M1676.9,308.1L1678.2,306.2" stroke="#9ded7f" stroke-width="1.7"/><path d="M1678.2,306.2L1679.5,304.6" stroke="#7aefb6" stroke-width="1.8"/><path d="M1679.5,304.6L1680.6,303.4" stroke="#64ead1" stroke-width="1.9"/><path d="M1680.6,303.4L1681.6,302.4" stroke="#57e1dc" stroke-width="1.9"/><path d="M1681.6,302.4L1682.5,301.3" stroke="#4bdae7" stroke-width="2.0"/><path d="M1682.5,301.3L1683.3,300.4" stroke="#43cdeb" stroke-width="2.0"/><path d="M1683.3,300.4L1684.1,299.7" stroke="#3ebcec" stroke-width="2.1"/><path d="M1684.1,299.7L1685,299.2" stroke="#3aaeed" stroke-width="2.1"/><path d="M1685,299.2L1685.9,299.2" stroke="#36a0ee" stroke-width="2.1"/><path d="M1685.9,299.2L1687.1,299.7" stroke="#3291ee" stroke-width="2.2"/><path d="M1687.1,299.7L1688.4,300.8" stroke="#2c7eef" stroke-width="2.2"/><path d="M1688.4,300.8L1690,302.5" stroke="#2768f0" stroke-width="2.3"/><path d="M1690,302.5L1691.8,304.7" stroke="#2355ee" stroke-width="2.4"/><path d="M1691.8,304.7L1693.9,307.3" stroke="#1e40ed" stroke-width="2.5"/><path d="M1693.9,307.3L1696,310.4" stroke="#1929eb" stroke-width="2.6"/><path d="M1696,310.4L1698.1,313.9" stroke="#1c1eca" stroke-width="2.7"/><path d="M1698.1,313.9L1700.2,317.8" stroke="#1c1cc5" stroke-width="2.7"/><path d="M1700.2,317.8L1702.2,322.1" stroke="#1c1bc0" stroke-width="2.7"/><path d="M1702.2,322.1L1704,326.8" stroke="#1d19bb" stroke-width="2.7"/><path d="M1704,326.8L1705.7,332.3" stroke="#1d18b7" stroke-width="2.7"/><path d="M1705.7,332.3L1707.4,338.6" stroke="#1d17b5" stroke-width="2.7"/><path d="M1707.4,338.6L1709.1,345.7" stroke="#1d18b6" stroke-width="2.7"/><path d="M1709.1,345.7L1710.7,353" stroke="#1d19b9" stroke-width="2.7"/><path d="M1710.7,353L1712.2,360.3" stroke="#1c1bc0" stroke-width="2.7"/><path d="M1712.2,360.3L1713.6,367.2" stroke="#1c1dc9" stroke-width="2.7"/><path d="M1713.6,367.2L1714.8,373.5" stroke="#1a23da" stroke-width="2.6"/><path d="M1714.8,373.5L1715.7,378.8" stroke="#1c35ec" stroke-width="2.3"/><path d="M1715.7,378.8L1716.4,383.3" stroke="#2251ee" stroke-width="2.1"/><path d="M1716.4,383.3L1716.8,387.2" stroke="#2870f0" stroke-width="1.9"/><path d="M1716.8,387.2L1717,390.7" stroke="#37a4ed" stroke-width="1.7"/><path d="M1717,390.7L1717.1,393.7" stroke="#46d6eb" stroke-width="1.5"/><path d="M1717.1,393.7L1717.1,396.4" stroke="#60e7d4" stroke-width="1.4"/><path d="M1717.1,396.4L1717,398.7" stroke="#81efab" stroke-width="1.2"/><path d="M1717,398.7L1717,400.6" stroke="#a6ed71" stroke-width="1.1"/><path d="M1717,400.6L1717,402.2" stroke="#c7eb3e" stroke-width="1.0"/><path d="M1704,313.8L1706.1,312.7" stroke="#e75b1c" stroke-width="1.0"/><path d="M1706.1,312.7L1708.9,311" stroke="#f09f23" stroke-width="1.1"/><path d="M1708.9,311L1712.2,309.1" stroke="#e5d12d" stroke-width="1.3"/><path d="M1712.2,309.1L1715.9,307" stroke="#cae93b" stroke-width="1.5"/><path d="M1715.9,307L1719.7,304.9" stroke="#97ee89" stroke-width="1.6"/><path d="M1719.7,304.9L1723.4,303.1" stroke="#69edcc" stroke-width="1.7"/><path d="M1723.4,303.1L1726.9,301.6" stroke="#50dde2" stroke-width="1.8"/><path d="M1726.9,301.6L1730,300.8" stroke="#41c5ec" stroke-width="1.9"/><path d="M1730,300.8L1732.6,300.4" stroke="#38a8ed" stroke-width="2.0"/><path d="M1732.6,300.4L1734.9,300.3" stroke="#3290ee" stroke-width="2.0"/><path d="M1734.9,300.3L1736.9,300.5" stroke="#2c7bef" stroke-width="2.1"/><path d="M1736.9,300.5L1738.9,301" stroke="#276af0" stroke-width="2.1"/><path d="M1738.9,301L1741,301.7" stroke="#255fef" stroke-width="2.2"/><path d="M1741,301.7L1743.1,302.8" stroke="#2356ee" stroke-width="2.2"/><path d="M1743.1,302.8L1745.5,304.2" stroke="#2254ee" stroke-width="2.2"/><path d="M1745.5,304.2L1748.2,306" stroke="#2252ee" stroke-width="2.2"/><path d="M1748.2,306L1751.3,308.1" stroke="#214fee" stroke-width="2.2"/><path d="M1751.3,308.1L1754.8,310.6" stroke="#214cee" stroke-width="2.2"/><path d="M1754.8,310.6L1758.5,313.4" stroke="#204aed" stroke-width="2.2"/><path d="M1758.5,313.4L1762.3,316.6" stroke="#2048ed" stroke-width="2.2"/><path d="M1762.3,316.6L1766.2,320" stroke="#2047ed" stroke-width="2.2"/><path d="M1766.2,320L1770,323.7" stroke="#2048ed" stroke-width="2.2"/><path d="M1770,323.7L1773.5,327.7" stroke="#2049ed" stroke-width="2.2"/><path d="M1773.5,327.7L1776.8,332" stroke="#214cee" stroke-width="2.2"/><path d="M1776.8,332L1779.9,337" stroke="#2250ee" stroke-width="2.2"/><path d="M1779.9,337L1783,342.8" stroke="#2355ee" stroke-width="2.2"/><path d="M1783,342.8L1786.1,349.2" stroke="#2560ef" stroke-width="2.2"/><path d="M1786.1,349.2L1789,355.7" stroke="#2f85ef" stroke-width="1.9"/><path d="M1789,355.7L1791.7,362.1" stroke="#42c9ec" stroke-width="1.7"/><path d="M1791.7,362.1L1794,367.8" stroke="#6beecb" stroke-width="1.4"/><path d="M1794,367.8L1796,372.7" stroke="#b7ec56" stroke-width="1.2"/><path d="M1796,372.7L1797.6,376.2" stroke="#e1d52f" stroke-width="1.1"/><path d="M1683.2,298.2L1684.2,295.7" stroke="#e5561c" stroke-width="1.0"/><path d="M1684.2,295.7L1685.5,292.2" stroke="#f09321" stroke-width="1.2"/><path d="M1685.5,292.2L1687.1,288" stroke="#edcb2a" stroke-width="1.3"/><path d="M1687.1,288L1688.8,283.5" stroke="#d4e036" stroke-width="1.5"/><path d="M1688.8,283.5L1690.7,278.8" stroke="#b0ec61" stroke-width="1.6"/><path d="M1690.7,278.8L1692.6,274.3" stroke="#84efa6" stroke-width="1.8"/><path d="M1692.6,274.3L1694.4,270.3" stroke="#64e9d1" stroke-width="1.9"/><path d="M1694.4,270.3L1696.2,267" stroke="#50dde2" stroke-width="2.0"/><path d="M1696.2,267L1697.8,264.3" stroke="#43ceeb" stroke-width="2.0"/><path d="M1697.8,264.3L1699.3,261.8" stroke="#3db6ed" stroke-width="2.1"/><path d="M1699.3,261.8L1700.8,259.5" stroke="#37a1ee" stroke-width="2.1"/><path d="M1700.8,259.5L1702.3,257.6" stroke="#318eee" stroke-width="2.2"/><path d="M1702.3,257.6L1703.9,255.9" stroke="#2c7def" stroke-width="2.2"/><path d="M1703.9,255.9L1705.8,254.5" stroke="#286df0" stroke-width="2.3"/><path d="M1705.8,254.5L1708,253.4" stroke="#2664ef" stroke-width="2.3"/><path d="M1708,253.4L1710.5,252.7" stroke="#245aef" stroke-width="2.4"/><path d="M1710.5,252.7L1713.5,252.2" stroke="#214fee" stroke-width="2.4"/><path d="M1713.5,252.2L1716.8,252.1" stroke="#1f43ed" stroke-width="2.5"/><path d="M1716.8,252.1L1720.5,252.1" stroke="#1c37ec" stroke-width="2.5"/><path d="M1720.5,252.1L1724.3,252.5" stroke="#1929eb" stroke-width="2.6"/><path d="M1724.3,252.5L1728.3,253.3" stroke="#1a22d9" stroke-width="2.7"/><path d="M1728.3,253.3L1732.4,254.4" stroke="#1c1eca" stroke-width="2.7"/><path d="M1732.4,254.4L1736.4,255.9" stroke="#1c1dc7" stroke-width="2.7"/><path d="M1736.4,255.9L1740.4,257.9" stroke="#1c1cc4" stroke-width="2.7"/><path d="M1740.4,257.9L1744.4,260.4" stroke="#1c1bc1" stroke-width="2.7"/><path d="M1744.4,260.4L1748.5,263.4" stroke="#1c1abe" stroke-width="2.7"/><path d="M1748.5,263.4L1752.7,266.9" stroke="#1d19bc" stroke-width="2.7"/><path d="M1752.7,266.9L1757,270.7" stroke="#1d19b9" stroke-width="2.7"/><path d="M1757,270.7L1761.2,274.8" stroke="#1d18b7" stroke-width="2.7"/><path d="M1761.2,274.8L1765.3,279.1" stroke="#1d18b6" stroke-width="2.7"/><path d="M1765.3,279.1L1769.2,283.5" stroke="#1d17b5" stroke-width="2.7"/><path d="M1769.2,283.5L1772.9,287.8" stroke="#1d17b5" stroke-width="2.7"/><path d="M1772.9,287.8L1776.4,292.2" stroke="#1d18b5" stroke-width="2.7"/><path d="M1776.4,292.2L1779.8,296.7" stroke="#1d18b7" stroke-width="2.7"/><path d="M1779.8,296.7L1783.1,301.4" stroke="#1d18b8" stroke-width="2.7"/><path d="M1783.1,301.4L1786.3,306.2" stroke="#1d19bb" stroke-width="2.7"/><path d="M1786.3,306.2L1789.3,311.2" stroke="#1c1abe" stroke-width="2.7"/><path d="M1789.3,311.2L1792.2,316.3" stroke="#1c1bc1" stroke-width="2.7"/><path d="M1792.2,316.3L1795,321.5" stroke="#1c1cc5" stroke-width="2.7"/><path d="M1795,321.5L1797.6,326.8" stroke="#1c1dc8" stroke-width="2.7"/><path d="M1797.6,326.8L1800.1,332.5" stroke="#1b1fcd" stroke-width="2.7"/><path d="M1800.1,332.5L1802.5,338.6" stroke="#1a24dd" stroke-width="2.7"/><path d="M1802.5,338.6L1804.7,345" stroke="#1b30ec" stroke-width="2.5"/><path d="M1804.7,345L1806.9,351.4" stroke="#2048ed" stroke-width="2.3"/><path d="M1806.9,351.4L1808.8,357.7" stroke="#2664ef" stroke-width="2.1"/><path d="M1808.8,357.7L1810.5,363.6" stroke="#3394ee" stroke-width="1.9"/><path d="M1810.5,363.6L1812,369" stroke="#43cdeb" stroke-width="1.8"/><path d="M1812,369L1813.2,373.6" stroke="#5fe7d5" stroke-width="1.6"/><path d="M1813.2,373.6L1814.1,377.5" stroke="#84efa5" stroke-width="1.5"/><path d="M1814.1,377.5L1814.6,380.9" stroke="#afec63" stroke-width="1.4"/><path d="M1814.6,380.9L1814.8,383.8" stroke="#cee639" stroke-width="1.3"/><path d="M1814.8,383.8L1814.8,386.3" stroke="#ded731" stroke-width="1.2"/><path d="M1814.8,386.3L1814.7,388.4" stroke="#edcb2a" stroke-width="1.2"/><path d="M1814.7,388.4L1814.6,390.2" stroke="#f0b225" stroke-width="1.1"/><path d="M1814.6,390.2L1814.5,391.8" stroke="#f09822" stroke-width="1.1"/><path d="M1814.5,391.8L1814.5,393.1" stroke="#f0821f" stroke-width="1.0"/><path d="M1740.4,290.4L1742.6,289.2" stroke="#e9611d" stroke-width="1.0"/><path d="M1742.6,289.2L1745.5,287.5" stroke="#f0ad25" stroke-width="1.2"/><path d="M1745.5,287.5L1749,285.5" stroke="#ddd932" stroke-width="1.4"/><path d="M1749,285.5L1752.9,283.2" stroke="#b4ec5b" stroke-width="1.6"/><path d="M1752.9,283.2L1757,281" stroke="#78efb9" stroke-width="1.8"/><path d="M1757,281L1761.2,278.7" stroke="#52dfe0" stroke-width="1.9"/><path d="M1761.2,278.7L1765.2,276.6" stroke="#3db7ed" stroke-width="2.1"/><path d="M1765.2,276.6L1769,274.8" stroke="#2f88ef" stroke-width="2.2"/><path d="M1769,274.8L1772.5,273.1" stroke="#2665ef" stroke-width="2.3"/><path d="M1772.5,273.1L1775.8,271.4" stroke="#214fee" stroke-width="2.4"/><path d="M1775.8,271.4L1779.2,269.7" stroke="#1d3bec" stroke-width="2.5"/><path d="M1779.2,269.7L1782.5,268.1" stroke="#1928ea" stroke-width="2.6"/><path d="M1782.5,268.1L1785.9,266.7" stroke="#1b20d0" stroke-width="2.7"/><path d="M1785.9,266.7L1789.5,265.6" stroke="#1c1dc8" stroke-width="2.7"/><path d="M1789.5,265.6L1793.4,264.8" stroke="#1c1cc4" stroke-width="2.7"/><path d="M1793.4,264.8L1797.6,264.4" stroke="#1c1bc0" stroke-width="2.7"/><path d="M1797.6,264.4L1802.3,264.4" stroke="#1d1abd" stroke-width="2.7"/><path d="M1802.3,264.4L1807.4,264.8" stroke="#1d19b9" stroke-width="2.7"/><path d="M1807.4,264.8L1812.8,265.4" stroke="#1d18b7" stroke-width="2.7"/><path d="M1812.8,265.4L1818.4,266.4" stroke="#1d17b5" stroke-width="2.7"/><path d="M1818.4,266.4L1824,267.5" stroke="#1d17b5" stroke-width="2.7"/><path d="M1824,267.5L1829.4,268.9" stroke="#1d18b6" stroke-width="2.7"/><path d="M1829.4,268.9L1834.5,270.5" stroke="#1d18b8" stroke-width="2.7"/><path d="M1834.5,270.5L1839.2,272.2" stroke="#1d19bc" stroke-width="2.7"/><path d="M1839.2,272.2L1843.5,274.2" stroke="#1c1bbf" stroke-width="2.7"/><path d="M1843.5,274.2L1847.7,276.4" stroke="#1c1cc3" stroke-width="2.7"/><path d="M1847.7,276.4L1851.7,278.9" stroke="#1c1dc8" stroke-width="2.7"/><path d="M1851.7,278.9L1855.4,281.6" stroke="#1b1fcd" stroke-width="2.7"/><path d="M1855.4,281.6L1859,284.4" stroke="#1a23db" stroke-width="2.6"/><path d="M1859,284.4L1862.2,287.3" stroke="#1a2deb" stroke-width="2.5"/><path d="M1862.2,287.3L1865.2,290.2" stroke="#1e40ed" stroke-width="2.3"/><path d="M1865.2,290.2L1867.8,293" stroke="#2355ee" stroke-width="2.1"/><path d="M1867.8,293L1870,296" stroke="#286cf0" stroke-width="2.0"/><path d="M1870,296L1871.9,299.2" stroke="#3498ee" stroke-width="1.8"/><path d="M1871.9,299.2L1873.5,302.6" stroke="#42c9ec" stroke-width="1.7"/><path d="M1873.5,302.6L1874.8,306" stroke="#5ce5d8" stroke-width="1.5"/><path d="M1874.8,306L1875.9,309.2" stroke="#83efa7" stroke-width="1.4"/><path d="M1875.9,309.2L1876.8,312.1" stroke="#b6ec58" stroke-width="1.2"/><path d="M1876.8,312.1L1877.5,314.6" stroke="#d5df35" stroke-width="1.1"/><path d="M1877.5,314.6L1878.2,316.4" stroke="#e8cf2c" stroke-width="1.0"/><path d="M1732.6,295.6L1734.4,294.1" stroke="#e85d1c" stroke-width="1.0"/><path d="M1734.4,294.1L1736.7,292" stroke="#f0a424" stroke-width="1.2"/><path d="M1736.7,292L1739.5,289.5" stroke="#e2d42f" stroke-width="1.4"/><path d="M1739.5,289.5L1742.7,286.8" stroke="#c4eb43" stroke-width="1.6"/><path d="M1742.7,286.8L1746,284.1" stroke="#8bee9a" stroke-width="1.7"/><path d="M1746,284.1L1749.4,281.5" stroke="#60e7d4" stroke-width="1.9"/><path d="M1749.4,281.5L1752.8,279.2" stroke="#45d5eb" stroke-width="2.0"/><path d="M1752.8,279.2L1756,277.4" stroke="#39aaed" stroke-width="2.1"/><path d="M1756,277.4L1759.1,276" stroke="#2e85ef" stroke-width="2.2"/><path d="M1759.1,276L1762.1,274.8" stroke="#2768f0" stroke-width="2.3"/><path d="M1762.1,274.8L1765.1,273.8" stroke="#2356ee" stroke-width="2.4"/><path d="M1765.1,273.8L1768.2,273" stroke="#1f45ed" stroke-width="2.5"/><path d="M1768.2,273L1771.4,272.4" stroke="#1c34ec" stroke-width="2.5"/><path d="M1771.4,272.4L1774.7,272.1" stroke="#1a26e4" stroke-width="2.6"/><path d="M1774.7,272.1L1778.2,272" stroke="#1b1ecb" stroke-width="2.7"/><path d="M1778.2,272L1782,272.2" stroke="#1c1dc7" stroke-width="2.7"/><path d="M1782,272.2L1786.2,272.7" stroke="#1c1cc4" stroke-width="2.7"/><path d="M1786.2,272.7L1790.7,273.4" stroke="#1c1bc0" stroke-width="2.7"/><path d="M1790.7,273.4L1795.6,274.4" stroke="#1d1abc" stroke-width="2.7"/><path d="M1795.6,274.4L1800.5,275.6" stroke="#1d19b9" stroke-width="2.7"/><path d="M1800.5,275.6L1805.4,277.1" stroke="#1d18b7" stroke-width="2.7"/><path d="M1805.4,277.1L1810.2,278.7" stroke="#1d17b5" stroke-width="2.7"/><path d="M1810.2,278.7L1814.5,280.6" stroke="#1d17b5" stroke-width="2.7"/><path d="M1814.5,280.6L1818.4,282.6" stroke="#1d18b5" stroke-width="2.7"/><path d="M1818.4,282.6L1821.8,284.9" stroke="#1d18b7" stroke-width="2.7"/><path d="M1821.8,284.9L1824.8,287.5" stroke="#1d19b9" stroke-width="2.7"/><path d="M1824.8,287.5L1827.6,290.3" stroke="#1d19bb" stroke-width="2.7"/><path d="M1827.6,290.3L1830.1,293.3" stroke="#1c1abe" stroke-width="2.7"/><path d="M1830.1,293.3L1832.5,296.5" stroke="#1c1bc1" stroke-width="2.7"/><path d="M1832.5,296.5L1834.7,299.7" stroke="#1c1cc5" stroke-width="2.7"/><path d="M1834.7,299.7L1837,302.9" stroke="#1c1dc8" stroke-width="2.7"/><path d="M1837,302.9L1839.2,306" stroke="#1b1ecc" stroke-width="2.7"/><path d="M1839.2,306L1841.5,309.2" stroke="#1b21d5" stroke-width="2.7"/><path d="M1841.5,309.2L1843.7,312.6" stroke="#1a26e4" stroke-width="2.5"/><path d="M1843.7,312.6L1845.9,316.1" stroke="#1b32ec" stroke-width="2.4"/><path d="M1845.9,316.1L1848,319.6" stroke="#1f43ed" stroke-width="2.2"/><path d="M1848,319.6L1849.9,323.1" stroke="#2357ee" stroke-width="2.0"/><path d="M1849.9,323.1L1851.8,326.4" stroke="#276cf0" stroke-width="1.9"/><path d="M1851.8,326.4L1853.4,329.4" stroke="#3290ee" stroke-width="1.7"/><path d="M1853.4,329.4L1854.8,332" stroke="#3cb5ed" stroke-width="1.6"/><path d="M1854.8,332L1856,334.3" stroke="#46d7eb" stroke-width="1.5"/><path d="M1856,334.3L1857,336.5" stroke="#58e2db" stroke-width="1.4"/><path d="M1857,336.5L1857.7,338.4" stroke="#69edcd" stroke-width="1.3"/><path d="M1857.7,338.4L1858.4,340.1" stroke="#7fefad" stroke-width="1.2"/><path d="M1858.4,340.1L1858.9,341.6" stroke="#97ee88" stroke-width="1.2"/><path d="M1858.9,341.6L1859.3,343" stroke="#aced67" stroke-width="1.1"/><path d="M1859.3,343L1859.7,344.1" stroke="#bfec4a" stroke-width="1.1"/><path d="M1859.7,344.1L1860,345" stroke="#cbe83a" stroke-width="1.0"/><path d="M1714.4,272.2L1717,269.8" stroke="#e75a1c" stroke-width="1.0"/><path d="M1717,269.8L1720.3,266.5" stroke="#f09c22" stroke-width="1.1"/><path d="M1720.3,266.5L1724.2,262.4" stroke="#e8cf2c" stroke-width="1.3"/><path d="M1724.2,262.4L1728.7,258.1" stroke="#cde639" stroke-width="1.4"/><path d="M1728.7,258.1L1733.6,253.7" stroke="#9eed7d" stroke-width="1.6"/><path d="M1733.6,253.7L1739,249.6" stroke="#6defc9" stroke-width="1.7"/><path d="M1739,249.6L1744.8,246.1" stroke="#51dee1" stroke-width="1.8"/><path d="M1744.8,246.1L1750.8,243.6" stroke="#3fbeec" stroke-width="1.9"/><path d="M1750.8,243.6L1757.5,241.9" stroke="#3292ee" stroke-width="2.0"/><path d="M1757.5,241.9L1765.1,240.7" stroke="#2769f0" stroke-width="2.1"/><path d="M1765.1,240.7L1773.2,239.9" stroke="#2355ee" stroke-width="2.2"/><path d="M1773.2,239.9L1781.7,239.5" stroke="#2251ee" stroke-width="2.2"/><path d="M1781.7,239.5L1790.2,239.5" stroke="#214dee" stroke-width="2.2"/><path d="M1790.2,239.5L1798.5,239.8" stroke="#204aed" stroke-width="2.2"/><path d="M1798.5,239.8L1806.2,240.3" stroke="#2048ed" stroke-width="2.2"/><path d="M1806.2,240.3L1813.2,241" stroke="#2047ed" stroke-width="2.2"/><path d="M1813.2,241L1819.4,242" stroke="#2047ed" stroke-width="2.2"/><path d="M1819.4,242L1825,243.2" stroke="#2048ed" stroke-width="2.2"/><path d="M1825,243.2L1830.2,244.7" stroke="#204aed" stroke-width="2.2"/><path d="M1830.2,244.7L1835.1,246.5" stroke="#214cee" stroke-width="2.2"/><path d="M1835.1,246.5L1839.9,248.6" stroke="#214eee" stroke-width="2.2"/><path d="M1839.9,248.6L1844.7,251" stroke="#2251ee" stroke-width="2.2"/><path d="M1844.7,251L1849.6,253.7" stroke="#2254ee" stroke-width="2.2"/><path d="M1849.6,253.7L1854.8,256.6" stroke="#2357ee" stroke-width="2.2"/><path d="M1854.8,256.6L1860.5,260.2" stroke="#245cef" stroke-width="2.2"/><path d="M1860.5,260.2L1866.7,264.6" stroke="#276af0" stroke-width="2.0"/><path d="M1866.7,264.6L1873.1,269.4" stroke="#308bef" stroke-width="1.9"/><path d="M1873.1,269.4L1879.5,274.5" stroke="#3ebbec" stroke-width="1.7"/><path d="M1879.5,274.5L1885.5,279.4" stroke="#55e1dd" stroke-width="1.5"/><path d="M1885.5,279.4L1891,283.9" stroke="#7defb0" stroke-width="1.3"/><path d="M1891,283.9L1895.6,287.7" stroke="#b5ec5a" stroke-width="1.2"/><path d="M1895.6,287.7L1899,290.4" stroke="#d5df35" stroke-width="1.1"/><path d="M1722.2,261.8L1724.5,258.9" stroke="#eb681d" stroke-width="1.0"/><path d="M1724.5,258.9L1727.5,254.9" stroke="#f0bc27" stroke-width="1.3"/><path d="M1727.5,254.9L1731,250.1" stroke="#d2e237" stroke-width="1.5"/><path d="M1731,250.1L1735,244.9" stroke="#98ee87" stroke-width="1.7"/><path d="M1735,244.9L1739.4,239.6" stroke="#5fe7d5" stroke-width="1.9"/><path d="M1739.4,239.6L1744,234.6" stroke="#40c3ec" stroke-width="2.1"/><path d="M1744,234.6L1748.7,230.1" stroke="#3089ef" stroke-width="2.2"/><path d="M1748.7,230.1L1753.4,226.7" stroke="#2561ef" stroke-width="2.3"/><path d="M1753.4,226.7L1758.3,224.1" stroke="#2048ed" stroke-width="2.5"/><path d="M1758.3,224.1L1763.5,221.9" stroke="#1b30ec" stroke-width="2.6"/><path d="M1763.5,221.9L1768.9,220.1" stroke="#1b21d5" stroke-width="2.7"/><path d="M1768.9,220.1L1774.5,218.7" stroke="#1c1dc7" stroke-width="2.7"/><path d="M1774.5,218.7L1780.3,217.6" stroke="#1c1cc3" stroke-width="2.7"/><path d="M1780.3,217.6L1786.1,216.9" stroke="#1c1abf" stroke-width="2.7"/><path d="M1786.1,216.9L1791.9,216.4" stroke="#1d19bc" stroke-width="2.7"/><path d="M1791.9,216.4L1797.6,216.3" stroke="#1d19b9" stroke-width="2.7"/><path d="M1797.6,216.3L1803.4,216.5" stroke="#1d18b7" stroke-width="2.7"/><path d="M1803.4,216.5L1809.5,217.1" stroke="#1d17b5" stroke-width="2.7"/><path d="M1809.5,217.1L1815.6,218" stroke="#1d17b5" stroke-width="2.7"/><path d="M1815.6,218L1821.8,219.3" stroke="#1d18b6" stroke-width="2.7"/><path d="M1821.8,219.3L1827.9,220.8" stroke="#1d18b7" stroke-width="2.7"/><path d="M1827.9,220.8L1833.7,222.6" stroke="#1d19ba" stroke-width="2.7"/><path d="M1833.7,222.6L1839.3,224.6" stroke="#1d1abd" stroke-width="2.7"/><path d="M1839.3,224.6L1844.4,226.7" stroke="#1c1bc1" stroke-width="2.7"/><path d="M1844.4,226.7L1849.2,229.1" stroke="#1c1cc5" stroke-width="2.7"/><path d="M1849.2,229.1L1853.8,231.8" stroke="#1c1ec9" stroke-width="2.7"/><path d="M1853.8,231.8L1858.1,234.9" stroke="#1b20cf" stroke-width="2.7"/><path d="M1858.1,234.9L1862.2,238.1" stroke="#1a25e1" stroke-width="2.6"/><path d="M1862.2,238.1L1866,241.4" stroke="#1b33ec" stroke-width="2.5"/><path d="M1866,241.4L1869.5,244.8" stroke="#2048ed" stroke-width="2.3"/><path d="M1869.5,244.8L1872.7,248.2" stroke="#2560ef" stroke-width="2.1"/><path d="M1872.7,248.2L1875.6,251.4" stroke="#2e84ef" stroke-width="2.0"/><path d="M1875.6,251.4L1878.1,254.8" stroke="#3cb4ed" stroke-width="1.9"/><path d="M1878.1,254.8L1880.2,258.4" stroke="#4fdde3" stroke-width="1.7"/><path d="M1880.2,258.4L1881.9,262.2" stroke="#6ff0c6" stroke-width="1.6"/><path d="M1881.9,262.2L1883.4,265.9" stroke="#a8ed6e" stroke-width="1.5"/><path d="M1883.4,265.9L1884.6,269.5" stroke="#d4e136" stroke-width="1.3"/><path d="M1884.6,269.5L1885.7,272.7" stroke="#eeca29" stroke-width="1.2"/><path d="M1885.7,272.7L1886.5,275.4" stroke="#f09421" stroke-width="1.1"/><path d="M1886.5,275.4L1887.3,277.4" stroke="#ea651d" stroke-width="1.0"/><path d="M1714.4,251.4L1717.7,248.2" stroke="#f0791e" stroke-width="1.1"/><path d="M1717.7,248.2L1722.1,243.7" stroke="#e4d32e" stroke-width="1.4"/><path d="M1722.1,243.7L1727.4,238.3" stroke="#a5ed73" stroke-width="1.7"/><path d="M1727.4,238.3L1733.3,232.4" stroke="#59e3da" stroke-width="1.9"/><path d="M1733.3,232.4L1739.3,226.5" stroke="#37a2ee" stroke-width="2.1"/><path d="M1739.3,226.5L1745.4,220.9" stroke="#255fef" stroke-width="2.3"/><path d="M1745.4,220.9L1751,216" stroke="#1c38ec" stroke-width="2.5"/><path d="M1751,216L1756,212.4" stroke="#1b21d4" stroke-width="2.7"/><path d="M1756,212.4L1760.3,209.9" stroke="#1c1dc7" stroke-width="2.7"/><path d="M1760.3,209.9L1764.2,208" stroke="#1c1cc3" stroke-width="2.7"/><path d="M1764.2,208L1767.8,206.7" stroke="#1c1bc0" stroke-width="2.7"/><path d="M1767.8,206.7L1771.3,205.9" stroke="#1d1abd" stroke-width="2.7"/><path d="M1771.3,205.9L1774.8,205.4" stroke="#1d19bb" stroke-width="2.7"/><path d="M1774.8,205.4L1778.5,205.1" stroke="#1d19b9" stroke-width="2.7"/><path d="M1778.5,205.1L1782.6,204.9" stroke="#1d18b7" stroke-width="2.7"/><path d="M1782.6,204.9L1787.2,204.6" stroke="#1d18b6" stroke-width="2.7"/><path d="M1787.2,204.6L1792.4,204.3" stroke="#1d17b5" stroke-width="2.7"/><path d="M1792.4,204.3L1798.2,204.2" stroke="#1d17b5" stroke-width="2.7"/><path d="M1798.2,204.2L1804.3,204.2" stroke="#1d18b6" stroke-width="2.7"/><path d="M1804.3,204.2L1810.6,204.4" stroke="#1d19b9" stroke-width="2.7"/><path d="M1810.6,204.4L1816.9,204.8" stroke="#1d1abd" stroke-width="2.7"/><path d="M1816.9,204.8L1823,205.4" stroke="#1c1bc1" stroke-width="2.7"/><path d="M1823,205.4L1828.8,206.2" stroke="#1c1dc6" stroke-width="2.7"/><path d="M1828.8,206.2L1834,207.2" stroke="#1b1ecb" stroke-width="2.7"/><path d="M1834,207.2L1838.8,208.6" stroke="#1b21d4" stroke-width="2.7"/><path d="M1838.8,208.6L1843.4,210.3" stroke="#1a26e3" stroke-width="2.5"/><path d="M1843.4,210.3L1847.9,212.3" stroke="#1b30ec" stroke-width="2.3"/><path d="M1847.9,212.3L1852,214.5" stroke="#1e41ed" stroke-width="2.1"/><path d="M1852,214.5L1855.9,216.8" stroke="#2253ee" stroke-width="2.0"/><path d="M1855.9,216.8L1859.4,219" stroke="#2666ef" stroke-width="1.8"/><path d="M1859.4,219L1862.5,221" stroke="#2e82ef" stroke-width="1.7"/><path d="M1862.5,221L1865.2,222.8" stroke="#37a2ee" stroke-width="1.5"/><path d="M1865.2,222.8L1867.3,224.4" stroke="#3fbfec" stroke-width="1.4"/><path d="M1867.3,224.4L1869,226" stroke="#47d7ea" stroke-width="1.3"/><path d="M1869,226L1870.2,227.5" stroke="#53dfdf" stroke-width="1.3"/><path d="M1870.2,227.5L1871.1,229" stroke="#5fe6d6" stroke-width="1.2"/><path d="M1871.1,229L1871.7,230.3" stroke="#68eccd" stroke-width="1.1"/><path d="M1871.7,230.3L1872.1,231.5" stroke="#73f0c0" stroke-width="1.1"/><path d="M1872.1,231.5L1872.6,232.4" stroke="#80efab" stroke-width="1.1"/><path d="M1872.6,232.4L1873,233.2" stroke="#8cee9a" stroke-width="1.0"/></g><path d="M1643.9,154.4L1650.5,166.1L1638.5,166.7Z" fill="#1c1cc5"/><circle cx="1639" cy="117.5" r="5.2" fill="#1c1cc5"/><path d="M1628.7,154.5L1637,165L1625.3,167.5Z" fill="#245bef"/><path d="M1668.7,154.5L1672.4,167.4L1660.6,165.2Z" fill="#245bef"/><path d="M1581.4,163L1592.6,170.5L1582.1,176.4Z" fill="#1c34ec"/><circle cx="1546.7" cy="153.9" r="5.2" fill="#46d7eb"/><path d="M1560.9,176.8L1573.4,181.6L1564.5,189.7Z" fill="#1c1cc5"/><circle cx="1494.7" cy="159.1" r="5.2" fill="#1c1cc5"/><path d="M1446.8,203.5L1446.3,184.9L1460.2,190.6Z" fill="#f0c828"/><path d="M1532.8,177.6L1546,180.1L1538.7,189.6Z" fill="#2047ed"/><path d="M1703,156.4L1702.5,169.8L1692,164.1Z" fill="#1a25e0"/><circle cx="1728.7" cy="146.1" r="5.2" fill="#46d7eb"/><path d="M1728.2,173.7L1726.4,186.9L1716.5,180.2Z" fill="#1c1cc5"/><circle cx="1789.8" cy="147.4" r="5.2" fill="#1c1cc5"/><path d="M1743,171.8L1735.5,182.9L1729.6,172.4Z" fill="#245bef"/><path d="M1783.2,176.3L1764.9,173.4L1773,160.8Z" fill="#f0a023"/><path d="M1771.6,180.9L1764.1,192L1758.2,181.5Z" fill="#2047ed"/><path d="M1552.8,229.7L1566.2,228.5L1561.8,239.7Z" fill="#1c1cc5"/><path d="M1465.2,249.8L1471.2,237.8L1478.4,247.4Z" fill="#1c1cc5"/><path d="M1501.7,202.2L1514,196.8L1513.4,208.8Z" fill="#2047ed"/><path d="M1503,224.3L1514.8,217.9L1515.2,229.9Z" fill="#1a25e0"/><path d="M1423.4,250.6L1432.2,234.3L1441.5,246.1Z" fill="#40c2ec"/><path d="M1492.7,265.6L1503.3,257.3L1505.7,269.1Z" fill="#2047ed"/><path d="M1508.4,286.9L1518.3,277.7L1521.7,289.3Z" fill="#2047ed"/><circle cx="1557.1" cy="280" r="5.2" fill="#1c1cc5"/><path d="M1493.2,343.7L1495,325.2L1508.1,332.6Z" fill="#40c2ec"/><circle cx="1622.1" cy="263.1" r="5.2" fill="#1d17b5"/><path d="M1593.1,317L1590.8,303.7L1602.3,307.2Z" fill="#1c1cc5"/><path d="M1578.9,420.8L1573.1,403.1L1588.1,404.6Z" fill="#f0c828"/><path d="M1576.9,322.5L1579.4,309.3L1588.9,316.6Z" fill="#2047ed"/><path d="M1543.3,403.8L1540.9,385.4L1555.2,389.6Z" fill="#e4501c"/><circle cx="1631.2" cy="315.1" r="5.2" fill="#1a25e0"/><path d="M1620.6,400L1614.1,382.6L1629.1,383.5Z" fill="#c8eb3c"/><circle cx="1688.4" cy="300.8" r="5.2" fill="#1c1cc5"/><path d="M1716.2,381.8L1706.1,366.2L1720.9,363.8Z" fill="#40c2ec"/><path d="M1753.2,309.3L1739.9,307.7L1746.5,297.7Z" fill="#2047ed"/><circle cx="1710.5" cy="252.7" r="5.2" fill="#1d19ba"/><path d="M1776.7,292.4L1764.5,287L1773.7,279.4Z" fill="#1d19ba"/><path d="M1813.9,376.5L1802.7,361.7L1817.3,358.3Z" fill="#c8eb3c"/><path d="M1803.6,264.1L1791.9,270.7L1791.3,258.7Z" fill="#1a25e0"/><path d="M1879.2,319.2L1866.6,305.5L1880.8,300.7Z" fill="#f0c828"/><path d="M1788,272.7L1775.5,277.7L1776.5,265.7Z" fill="#1c1cc5"/><path d="M1856.2,334.7L1841.7,323L1855.1,316.1Z" fill="#83efa8"/><path d="M1819.2,241.8L1806.5,246.2L1808,234.3Z" fill="#2047ed"/><path d="M1758.4,223.4L1751.6,235L1745.1,224.9Z" fill="#1c1cc5"/><path d="M1849.8,229.2L1836.4,229.6L1841.5,218.7Z" fill="#1c1cc5"/><path d="M1888.3,280.2L1875.6,266.7L1889.8,261.7Z" fill="#e4501c"/><path d="M1793.2,204.3L1781.5,210.9L1780.9,198.9Z" fill="#1a25e0"/><path d="M1867.6,224.6L1849.5,220.5L1858.4,208.5Z" fill="#46d7eb"/>
<rect x="581.8" y="49.8" width="18" height="411.8" fill="url(#cbar)" stroke="#222" stroke-width="1.3"/>
<path d="M581.8,101.3h3.6M599.8,101.3h-3.6" stroke="#111" stroke-width="1.3"/>
<path d="M581.8,152.8h3.6M599.8,152.8h-3.6" stroke="#111" stroke-width="1.3"/>
<path d="M581.8,204.2h3.6M599.8,204.2h-3.6" stroke="#111" stroke-width="1.3"/>
<path d="M581.8,255.7h3.6M599.8,255.7h-3.6" stroke="#111" stroke-width="1.3"/>
<path d="M581.8,307.2h3.6M599.8,307.2h-3.6" stroke="#111" stroke-width="1.3"/>
<path d="M581.8,358.7h3.6M599.8,358.7h-3.6" stroke="#111" stroke-width="1.3"/>
<path d="M581.8,410.1h3.6M599.8,410.1h-3.6" stroke="#111" stroke-width="1.3"/>
<text x="610" y="62.1" font-size="29.4">0.4</text>
<text x="608.8" y="163.7" font-size="29.4">0.3</text>
<text x="603.8" y="270.7" font-size="29.4">0.2</text>
<text x="603.8" y="372.8" font-size="29.4">0.1</text>
<text x="608.8" y="470.8" font-size="29.4">0</text>
<text x="551.8" y="33.5" font-size="31.2">mg/m</text>
<text x="629.2" y="24.5" font-size="20.5">2</text>
<rect x="1255.2" y="52.1" width="17.2" height="411" fill="url(#cbar)" stroke="#222" stroke-width="1.3"/>
<path d="M1255.2,103.5h3.6M1272.4,103.5h-3.6" stroke="#111" stroke-width="1.3"/>
<path d="M1255.2,154.8h3.6M1272.4,154.8h-3.6" stroke="#111" stroke-width="1.3"/>
<path d="M1255.2,206.2h3.6M1272.4,206.2h-3.6" stroke="#111" stroke-width="1.3"/>
<path d="M1255.2,257.6h3.6M1272.4,257.6h-3.6" stroke="#111" stroke-width="1.3"/>
<path d="M1255.2,309h3.6M1272.4,309h-3.6" stroke="#111" stroke-width="1.3"/>
<path d="M1255.2,360.4h3.6M1272.4,360.4h-3.6" stroke="#111" stroke-width="1.3"/>
<path d="M1255.2,411.7h3.6M1272.4,411.7h-3.6" stroke="#111" stroke-width="1.3"/>
<text x="1282.2" y="63.7" font-size="29.4">0.4</text>
<text x="1281.3" y="164.8" font-size="29.4">0.3</text>
<text x="1277.1" y="272.1" font-size="29.4">0.2</text>
<text x="1276.7" y="374.1" font-size="29.4">0.1</text>
<text x="1281.5" y="472" font-size="29.4">0</text>
<text x="1212" y="32.7" font-size="31.2">mg/m</text>
<text x="1289" y="23.5" font-size="20.5">2</text>
<rect x="1929" y="54.3" width="17.6" height="411.2" fill="url(#cbar)" stroke="#222" stroke-width="1.3"/>
<path d="M1929,105.7h3.6M1946.6,105.7h-3.6" stroke="#111" stroke-width="1.3"/>
<path d="M1929,157.1h3.6M1946.6,157.1h-3.6" stroke="#111" stroke-width="1.3"/>
<path d="M1929,208.5h3.6M1946.6,208.5h-3.6" stroke="#111" stroke-width="1.3"/>
<path d="M1929,259.9h3.6M1946.6,259.9h-3.6" stroke="#111" stroke-width="1.3"/>
<path d="M1929,311.3h3.6M1946.6,311.3h-3.6" stroke="#111" stroke-width="1.3"/>
<path d="M1929,362.7h3.6M1946.6,362.7h-3.6" stroke="#111" stroke-width="1.3"/>
<path d="M1929,414.1h3.6M1946.6,414.1h-3.6" stroke="#111" stroke-width="1.3"/>
<text x="1956.5" y="65.7" font-size="29.4">0.4</text>
<text x="1955.6" y="166.9" font-size="29.4">0.3</text>
<text x="1951.3" y="274.2" font-size="29.4">0.2</text>
<text x="1950.9" y="375.9" font-size="29.4">0.1</text>
<text x="1956" y="474.4" font-size="29.4">0</text>
<text x="1878.5" y="33.5" font-size="31.2">mg/m</text>
<text x="1955" y="23.9" font-size="20.5">2</text>
<text transform="translate(0.5,34.21) scale(0.903,1)" x="0" y="0" font-size="58.91" font-weight="bold">a</text>
<text transform="translate(28.38,48.9) scale(1.382,1)" x="0" y="0" font-size="39.08" font-weight="bold" font-family="NanumGothic" stroke="#000" stroke-width="0.5">1</text>
<text transform="translate(655.5,37.51) scale(0.903,1)" x="0" y="0" font-size="58.91" font-weight="bold">a</text>
<text transform="translate(687.69,52.2) scale(0.962,1)" x="0" y="0" font-size="42" font-weight="bold">2</text>
<text transform="translate(1327,33.62) scale(0.912,1)" x="0" y="0" font-size="58.36" font-weight="bold">a</text>
<text transform="translate(1359.62,48.17) scale(0.914,1)" x="0" y="0" font-size="42.68" font-weight="bold">3</text>
<text transform="translate(-0.26,503) scale(1.004,1)" x="0" y="0" font-size="59.18" font-weight="bold">b</text>
<text transform="translate(32.29,516.8) scale(1.334,1)" x="0" y="0" font-size="38.68" font-weight="bold" font-family="NanumGothic" stroke="#000" stroke-width="0.5">1</text>
<text transform="translate(650.24,506) scale(1.011,1)" x="0" y="0" font-size="58.77" font-weight="bold">b</text>
<text transform="translate(686.51,520.1) scale(0.957,1)" x="0" y="0" font-size="41.57" font-weight="bold">2</text>
<text transform="translate(1314.64,499.4) scale(1.011,1)" x="0" y="0" font-size="58.77" font-weight="bold">b</text>
<text transform="translate(1351.61,513.68) scale(0.937,1)" x="0" y="0" font-size="42.25" font-weight="bold">3</text>
<text transform="translate(-0.1,1002.18) scale(1.004,1)" x="0" y="0" font-size="62.18" font-weight="bold">c</text>
<text transform="translate(30.02,1016) scale(1.427,1)" x="0" y="0" font-size="38.68" font-weight="bold" font-family="NanumGothic" stroke="#000" stroke-width="0.5">1</text>
<text transform="translate(650.43,1005.89) scale(1.012,1)" x="0" y="0" font-size="61.09" font-weight="bold">c</text>
<text transform="translate(684.99,1020.3) scale(0.962,1)" x="0" y="0" font-size="42" font-weight="bold">2</text>
<text transform="translate(1315.35,1011.89) scale(1.002,1)" x="0" y="0" font-size="61.09" font-weight="bold">c</text>
<text transform="translate(1350.31,1026.48) scale(0.937,1)" x="0" y="0" font-size="42.25" font-weight="bold">3</text>
<line x1="153" y1="893.1" x2="160" y2="893.1" stroke="#000" stroke-width="3"/>
<line x1="153" y1="720.05" x2="160" y2="720.05" stroke="#000" stroke-width="3"/>
<line x1="153" y1="547" x2="160" y2="547" stroke="#000" stroke-width="3"/>
<line x1="153" y1="806.58" x2="157" y2="806.58" stroke="#000" stroke-width="3"/>
<line x1="153" y1="633.52" x2="157" y2="633.52" stroke="#000" stroke-width="3"/>
<line x1="153" y1="901.8" x2="153" y2="894.8" stroke="#000" stroke-width="3"/>
<line x1="360.13" y1="901.8" x2="360.13" y2="894.8" stroke="#000" stroke-width="3"/>
<line x1="567.26" y1="901.8" x2="567.26" y2="894.8" stroke="#000" stroke-width="3"/>
<line x1="256.56" y1="901.8" x2="256.56" y2="897.8" stroke="#000" stroke-width="3"/>
<line x1="463.69" y1="901.8" x2="463.69" y2="897.8" stroke="#000" stroke-width="3"/>
<g clip-path="url(#clip0)">
<path d="M153,893.1 L186.78,893.1 L220.66,893.1 L252.85,893.1 L284.41,893.1 L314.18,893.1 L342.79,893.1 L370.68,893.1 L397.26,893.1 L422.34,893.1 L446.12,893.1 L469.13,893.1 L490.68,893.1 L511.08,893.1 L530.17,893.1 L548.05,893.1 L565.06,893.1 L581.25,893.1 L595.51,893.1 L608.99,893.1 L619.48,893.1 L628.52,893.1 L633.69,893.1 L636.3,893.1" fill="none" stroke="#474747" stroke-width="2.4"/>
<g fill="#fff" stroke="#474747" stroke-width="2.9"><circle cx="153" cy="893.1" r="9.5"/><circle cx="186.78" cy="893.1" r="9.5"/><circle cx="220.66" cy="893.1" r="9.5"/><circle cx="252.85" cy="893.1" r="9.5"/><circle cx="284.41" cy="893.1" r="9.5"/><circle cx="314.18" cy="893.1" r="9.5"/><circle cx="342.79" cy="893.1" r="9.5"/><circle cx="370.68" cy="893.1" r="9.5"/><circle cx="397.26" cy="893.1" r="9.5"/><circle cx="422.34" cy="893.1" r="9.5"/><circle cx="446.12" cy="893.1" r="9.5"/><circle cx="469.13" cy="893.1" r="9.5"/><circle cx="490.68" cy="893.1" r="9.5"/><circle cx="511.08" cy="893.1" r="9.5"/><circle cx="530.17" cy="893.1" r="9.5"/><circle cx="548.05" cy="893.1" r="9.5"/><circle cx="565.06" cy="893.1" r="9.5"/><circle cx="581.25" cy="893.1" r="9.5"/><circle cx="595.51" cy="893.1" r="9.5"/><circle cx="608.99" cy="893.1" r="9.5"/><circle cx="619.48" cy="893.1" r="9.5"/><circle cx="628.52" cy="893.1" r="9.5"/><circle cx="633.69" cy="893.1" r="9.5"/><circle cx="636.3" cy="893.1" r="9.5"/></g>
<path d="M153,891.72 L186.78,891.71 L220.66,891.7 L252.85,891.67 L284.41,891.64 L314.18,891.6 L342.79,891.56 L370.68,891.5 L397.26,891.45 L422.34,891.39 L446.12,891.33 L469.13,891.27 L490.68,891.21 L511.08,891.15 L530.17,891.08 L548.05,891.02 L565.06,890.96 L581.25,890.9 L595.51,890.85 L608.99,890.79 L619.48,890.75 L628.52,890.71 L633.69,890.69 L636.3,890.68" fill="none" stroke="#ec3237" stroke-width="2.4"/>
<g fill="#fff" stroke="#ec3237" stroke-width="2.9"><circle cx="153" cy="891.72" r="9.5"/><circle cx="186.78" cy="891.71" r="9.5"/><circle cx="220.66" cy="891.7" r="9.5"/><circle cx="252.85" cy="891.67" r="9.5"/><circle cx="284.41" cy="891.64" r="9.5"/><circle cx="314.18" cy="891.6" r="9.5"/><circle cx="342.79" cy="891.56" r="9.5"/><circle cx="370.68" cy="891.5" r="9.5"/><circle cx="397.26" cy="891.45" r="9.5"/><circle cx="422.34" cy="891.39" r="9.5"/><circle cx="446.12" cy="891.33" r="9.5"/><circle cx="469.13" cy="891.27" r="9.5"/><circle cx="490.68" cy="891.21" r="9.5"/><circle cx="511.08" cy="891.15" r="9.5"/><circle cx="530.17" cy="891.08" r="9.5"/><circle cx="548.05" cy="891.02" r="9.5"/><circle cx="565.06" cy="890.96" r="9.5"/><circle cx="581.25" cy="890.9" r="9.5"/><circle cx="595.51" cy="890.85" r="9.5"/><circle cx="608.99" cy="890.79" r="9.5"/><circle cx="619.48" cy="890.75" r="9.5"/><circle cx="628.52" cy="890.71" r="9.5"/><circle cx="633.69" cy="890.69" r="9.5"/><circle cx="636.3" cy="890.68" r="9.5"/></g>
<path d="M153,891.37 L186.78,891.34 L220.66,891.27 L252.85,891.15 L284.41,890.99 L314.18,890.79 L342.79,890.57 L370.68,890.32 L397.26,890.04 L422.34,889.76 L446.12,889.46 L469.13,889.15 L490.68,888.84 L511.08,888.52 L530.17,888.21 L548.05,887.9 L565.06,887.6 L581.25,887.29 L595.51,887.02 L608.99,886.75 L619.48,886.53 L628.52,886.34 L633.69,886.23 L636.3,886.18" fill="none" stroke="#3b6de8" stroke-width="2.4"/>
<g fill="#fff" stroke="#3b6de8" stroke-width="2.9"><circle cx="153" cy="891.37" r="9.5"/><circle cx="186.78" cy="891.34" r="9.5"/><circle cx="220.66" cy="891.27" r="9.5"/><circle cx="252.85" cy="891.15" r="9.5"/><circle cx="284.41" cy="890.99" r="9.5"/><circle cx="314.18" cy="890.79" r="9.5"/><circle cx="342.79" cy="890.57" r="9.5"/><circle cx="370.68" cy="890.32" r="9.5"/><circle cx="397.26" cy="890.04" r="9.5"/><circle cx="422.34" cy="889.76" r="9.5"/><circle cx="446.12" cy="889.46" r="9.5"/><circle cx="469.13" cy="889.15" r="9.5"/><circle cx="490.68" cy="888.84" r="9.5"/><circle cx="511.08" cy="888.52" r="9.5"/><circle cx="530.17" cy="888.21" r="9.5"/><circle cx="548.05" cy="887.9" r="9.5"/><circle cx="565.06" cy="887.6" r="9.5"/><circle cx="581.25" cy="887.29" r="9.5"/><circle cx="595.51" cy="887.02" r="9.5"/><circle cx="608.99" cy="886.75" r="9.5"/><circle cx="619.48" cy="886.53" r="9.5"/><circle cx="628.52" cy="886.34" r="9.5"/><circle cx="633.69" cy="886.23" r="9.5"/><circle cx="636.3" cy="886.18" r="9.5"/></g>
<path d="M153,848.8 L186.78,848.65 L220.66,848.22 L252.85,847.53 L284.41,846.6 L314.18,845.49 L342.79,844.21 L370.68,842.76 L397.26,841.2 L422.34,839.55 L446.12,837.85 L469.13,836.06 L490.68,834.27 L511.08,832.46 L530.17,830.67 L548.05,828.91 L565.06,827.16 L581.25,825.43 L595.51,823.85 L608.99,822.3 L619.48,821.07 L628.52,819.99 L633.69,819.36 L636.3,819.03" fill="none" stroke="#49b561" stroke-width="2.4"/>
<g fill="#fff" stroke="#49b561" stroke-width="2.9"><circle cx="153" cy="848.8" r="9.5"/><circle cx="186.78" cy="848.65" r="9.5"/><circle cx="220.66" cy="848.22" r="9.5"/><circle cx="252.85" cy="847.53" r="9.5"/><circle cx="284.41" cy="846.6" r="9.5"/><circle cx="314.18" cy="845.49" r="9.5"/><circle cx="342.79" cy="844.21" r="9.5"/><circle cx="370.68" cy="842.76" r="9.5"/><circle cx="397.26" cy="841.2" r="9.5"/><circle cx="422.34" cy="839.55" r="9.5"/><circle cx="446.12" cy="837.85" r="9.5"/><circle cx="469.13" cy="836.06" r="9.5"/><circle cx="490.68" cy="834.27" r="9.5"/><circle cx="511.08" cy="832.46" r="9.5"/><circle cx="530.17" cy="830.67" r="9.5"/><circle cx="548.05" cy="828.91" r="9.5"/><circle cx="565.06" cy="827.16" r="9.5"/><circle cx="581.25" cy="825.43" r="9.5"/><circle cx="595.51" cy="823.85" r="9.5"/><circle cx="608.99" cy="822.3" r="9.5"/><circle cx="619.48" cy="821.07" r="9.5"/><circle cx="628.52" cy="819.99" r="9.5"/><circle cx="633.69" cy="819.36" r="9.5"/><circle cx="636.3" cy="819.03" r="9.5"/></g>
<path d="M153,766.43 L186.78,766.24 L220.66,765.66 L252.85,764.76 L284.41,763.54 L314.18,762.08 L342.79,760.4 L370.68,758.49 L397.26,756.44 L422.34,754.28 L446.12,752.04 L469.13,749.69 L490.68,747.33 L511.08,744.96 L530.17,742.61 L548.05,740.3 L565.06,738 L581.25,735.72 L595.51,733.64 L608.99,731.61 L619.48,729.99 L628.52,728.57 L633.69,727.74 L636.3,727.32" fill="none" stroke="#a466e6" stroke-width="2.4"/>
<g fill="#fff" stroke="#a466e6" stroke-width="2.9"><circle cx="153" cy="766.43" r="9.5"/><circle cx="186.78" cy="766.24" r="9.5"/><circle cx="220.66" cy="765.66" r="9.5"/><circle cx="252.85" cy="764.76" r="9.5"/><circle cx="284.41" cy="763.54" r="9.5"/><circle cx="314.18" cy="762.08" r="9.5"/><circle cx="342.79" cy="760.4" r="9.5"/><circle cx="370.68" cy="758.49" r="9.5"/><circle cx="397.26" cy="756.44" r="9.5"/><circle cx="422.34" cy="754.28" r="9.5"/><circle cx="446.12" cy="752.04" r="9.5"/><circle cx="469.13" cy="749.69" r="9.5"/><circle cx="490.68" cy="747.33" r="9.5"/><circle cx="511.08" cy="744.96" r="9.5"/><circle cx="530.17" cy="742.61" r="9.5"/><circle cx="548.05" cy="740.3" r="9.5"/><circle cx="565.06" cy="738" r="9.5"/><circle cx="581.25" cy="735.72" r="9.5"/><circle cx="595.51" cy="733.64" r="9.5"/><circle cx="608.99" cy="731.61" r="9.5"/><circle cx="619.48" cy="729.99" r="9.5"/><circle cx="628.52" cy="728.57" r="9.5"/><circle cx="633.69" cy="727.74" r="9.5"/><circle cx="636.3" cy="727.32" r="9.5"/></g>
</g>
<rect x="153" y="512.4" width="483.3" height="389.4" fill="none" stroke="#000" stroke-width="3.4" stroke-linejoin="miter"/>
<text x="144.3" y="902.3" font-size="33" text-anchor="end">0.0</text>
<text x="144.3" y="731.5" font-size="33" text-anchor="end">0.5</text>
<text x="144.3" y="556.3" font-size="33" text-anchor="end">1.0</text>
<text x="150.5" y="930.3" font-size="34" text-anchor="middle">0</text>
<text x="309.27" y="936.5" font-size="34">3×10<tspan dy="-13.8" font-size="23.5">-3</tspan></text>
<text x="516.4" y="936.5" font-size="34">6×10<tspan dy="-13.8" font-size="23.5">-3</tspan></text>
<text x="136.6" y="970" font-size="35">Distance to the droplet center / m</text>
<text transform="translate(86.5,707.1) rotate(-90)" x="0" y="0" font-size="34.8" text-anchor="middle">Coverage of corrosion products</text>
<line x1="505.2" y1="548.2" x2="553.2" y2="548.2" stroke="#474747" stroke-width="2.7" stroke-linecap="round"/>
<circle cx="529.2" cy="548.2" r="9.6" fill="#fff" stroke="#474747" stroke-width="2.9"/>
<text x="558" y="554.8" font-size="27.7">0 h</text>
<line x1="505.2" y1="581.9" x2="553.2" y2="581.9" stroke="#ec3237" stroke-width="2.7" stroke-linecap="round"/>
<circle cx="529.2" cy="581.9" r="9.6" fill="#fff" stroke="#ec3237" stroke-width="2.9"/>
<text x="558" y="588.5" font-size="27.7">0.5 h</text>
<line x1="505.2" y1="615.6" x2="553.2" y2="615.6" stroke="#3b6de8" stroke-width="2.7" stroke-linecap="round"/>
<circle cx="529.2" cy="615.6" r="9.6" fill="#fff" stroke="#3b6de8" stroke-width="2.9"/>
<text x="558" y="622.2" font-size="27.7">1 h</text>
<line x1="505.2" y1="649.3" x2="553.2" y2="649.3" stroke="#49b561" stroke-width="2.7" stroke-linecap="round"/>
<circle cx="529.2" cy="649.3" r="9.6" fill="#fff" stroke="#49b561" stroke-width="2.9"/>
<text x="558" y="655.9" font-size="27.7">1.5 h</text>
<line x1="505.2" y1="683.2" x2="553.2" y2="683.2" stroke="#a466e6" stroke-width="2.7" stroke-linecap="round"/>
<circle cx="529.2" cy="683.2" r="9.6" fill="#fff" stroke="#a466e6" stroke-width="2.9"/>
<text x="558" y="689.8" font-size="27.7">2 h</text>
<line x1="809" y1="893.3" x2="816" y2="893.3" stroke="#000" stroke-width="3"/>
<line x1="809" y1="719.65" x2="816" y2="719.65" stroke="#000" stroke-width="3"/>
<line x1="809" y1="546" x2="816" y2="546" stroke="#000" stroke-width="3"/>
<line x1="809" y1="806.47" x2="813" y2="806.47" stroke="#000" stroke-width="3"/>
<line x1="809" y1="632.82" x2="813" y2="632.82" stroke="#000" stroke-width="3"/>
<line x1="809" y1="902" x2="809" y2="895" stroke="#000" stroke-width="3"/>
<line x1="1016.99" y1="902" x2="1016.99" y2="895" stroke="#000" stroke-width="3"/>
<line x1="1224.97" y1="902" x2="1224.97" y2="895" stroke="#000" stroke-width="3"/>
<line x1="912.99" y1="902" x2="912.99" y2="898" stroke="#000" stroke-width="3"/>
<line x1="1120.98" y1="902" x2="1120.98" y2="898" stroke="#000" stroke-width="3"/>
<g clip-path="url(#clip1)">
<path d="M809,891.91 L842.92,891.91 L876.94,891.91 L909.26,891.91 L940.95,891.91 L970.85,891.91 L999.58,891.91 L1027.58,891.91 L1054.27,891.91 L1079.46,891.91 L1103.33,891.91 L1126.43,891.91 L1148.08,891.91 L1168.56,891.91 L1187.73,891.91 L1205.68,891.91 L1222.77,891.91 L1239.02,891.91 L1253.34,891.91 L1266.88,891.91 L1277.41,891.91 L1286.49,891.91 L1291.68,891.91 L1294.3,891.91" fill="none" stroke="#474747" stroke-width="2.4"/>
<g fill="#fff" stroke="#474747" stroke-width="2.9"><circle cx="809" cy="891.91" r="9.5"/><circle cx="842.92" cy="891.91" r="9.5"/><circle cx="876.94" cy="891.91" r="9.5"/><circle cx="909.26" cy="891.91" r="9.5"/><circle cx="940.95" cy="891.91" r="9.5"/><circle cx="970.85" cy="891.91" r="9.5"/><circle cx="999.58" cy="891.91" r="9.5"/><circle cx="1027.58" cy="891.91" r="9.5"/><circle cx="1054.27" cy="891.91" r="9.5"/><circle cx="1079.46" cy="891.91" r="9.5"/><circle cx="1103.33" cy="891.91" r="9.5"/><circle cx="1126.43" cy="891.91" r="9.5"/><circle cx="1148.08" cy="891.91" r="9.5"/><circle cx="1168.56" cy="891.91" r="9.5"/><circle cx="1187.73" cy="891.91" r="9.5"/><circle cx="1205.68" cy="891.91" r="9.5"/><circle cx="1222.77" cy="891.91" r="9.5"/><circle cx="1239.02" cy="891.91" r="9.5"/><circle cx="1253.34" cy="891.91" r="9.5"/><circle cx="1266.88" cy="891.91" r="9.5"/><circle cx="1277.41" cy="891.91" r="9.5"/><circle cx="1286.49" cy="891.91" r="9.5"/><circle cx="1291.68" cy="891.91" r="9.5"/><circle cx="1294.3" cy="891.91" r="9.5"/></g>
<path d="M809,864.13 L842.92,864.01 L876.94,863.64 L909.26,863.07 L940.95,862.3 L970.85,861.38 L999.58,860.32 L1027.58,859.12 L1054.27,857.83 L1079.46,856.47 L1103.33,855.06 L1126.43,853.58 L1148.08,852.09 L1168.56,850.59 L1187.73,849.11 L1205.68,847.65 L1222.77,846.2 L1239.02,844.77 L1253.34,843.46 L1266.88,842.18 L1277.41,841.15 L1286.49,840.26 L1291.68,839.73 L1294.3,839.47" fill="none" stroke="#ec3237" stroke-width="2.4"/>
<g fill="#fff" stroke="#ec3237" stroke-width="2.9"><circle cx="809" cy="864.13" r="9.5"/><circle cx="842.92" cy="864.01" r="9.5"/><circle cx="876.94" cy="863.64" r="9.5"/><circle cx="909.26" cy="863.07" r="9.5"/><circle cx="940.95" cy="862.3" r="9.5"/><circle cx="970.85" cy="861.38" r="9.5"/><circle cx="999.58" cy="860.32" r="9.5"/><circle cx="1027.58" cy="859.12" r="9.5"/><circle cx="1054.27" cy="857.83" r="9.5"/><circle cx="1079.46" cy="856.47" r="9.5"/><circle cx="1103.33" cy="855.06" r="9.5"/><circle cx="1126.43" cy="853.58" r="9.5"/><circle cx="1148.08" cy="852.09" r="9.5"/><circle cx="1168.56" cy="850.59" r="9.5"/><circle cx="1187.73" cy="849.11" r="9.5"/><circle cx="1205.68" cy="847.65" r="9.5"/><circle cx="1222.77" cy="846.2" r="9.5"/><circle cx="1239.02" cy="844.77" r="9.5"/><circle cx="1253.34" cy="843.46" r="9.5"/><circle cx="1266.88" cy="842.18" r="9.5"/><circle cx="1277.41" cy="841.15" r="9.5"/><circle cx="1286.49" cy="840.26" r="9.5"/><circle cx="1291.68" cy="839.73" r="9.5"/><circle cx="1294.3" cy="839.47" r="9.5"/></g>
<path d="M809,726.6 L842.92,726.39 L876.94,725.77 L909.26,724.79 L940.95,723.46 L970.85,721.88 L999.58,720.06 L1027.58,718 L1054.27,715.77 L1079.46,713.44 L1103.33,711.01 L1126.43,708.47 L1148.08,705.91 L1168.56,703.34 L1187.73,700.79 L1205.68,698.29 L1222.77,695.8 L1239.02,693.33 L1253.34,691.08 L1266.88,688.88 L1277.41,687.12 L1286.49,685.58 L1291.68,684.68 L1294.3,684.23" fill="none" stroke="#3b6de8" stroke-width="2.4"/>
<g fill="#fff" stroke="#3b6de8" stroke-width="2.9"><circle cx="809" cy="726.6" r="9.5"/><circle cx="842.92" cy="726.39" r="9.5"/><circle cx="876.94" cy="725.77" r="9.5"/><circle cx="909.26" cy="724.79" r="9.5"/><circle cx="940.95" cy="723.46" r="9.5"/><circle cx="970.85" cy="721.88" r="9.5"/><circle cx="999.58" cy="720.06" r="9.5"/><circle cx="1027.58" cy="718" r="9.5"/><circle cx="1054.27" cy="715.77" r="9.5"/><circle cx="1079.46" cy="713.44" r="9.5"/><circle cx="1103.33" cy="711.01" r="9.5"/><circle cx="1126.43" cy="708.47" r="9.5"/><circle cx="1148.08" cy="705.91" r="9.5"/><circle cx="1168.56" cy="703.34" r="9.5"/><circle cx="1187.73" cy="700.79" r="9.5"/><circle cx="1205.68" cy="698.29" r="9.5"/><circle cx="1222.77" cy="695.8" r="9.5"/><circle cx="1239.02" cy="693.33" r="9.5"/><circle cx="1253.34" cy="691.08" r="9.5"/><circle cx="1266.88" cy="688.88" r="9.5"/><circle cx="1277.41" cy="687.12" r="9.5"/><circle cx="1286.49" cy="685.58" r="9.5"/><circle cx="1291.68" cy="684.68" r="9.5"/><circle cx="1294.3" cy="684.23" r="9.5"/></g>
<path d="M809,629.7 L842.92,629.57 L876.94,629.19 L909.26,628.59 L940.95,627.77 L970.85,626.8 L999.58,625.68 L1027.58,624.42 L1054.27,623.05 L1079.46,621.61 L1103.33,620.12 L1126.43,618.55 L1148.08,616.98 L1168.56,615.4 L1187.73,613.84 L1205.68,612.3 L1222.77,610.76 L1239.02,609.25 L1253.34,607.86 L1266.88,606.51 L1277.41,605.43 L1286.49,604.48 L1291.68,603.93 L1294.3,603.65" fill="none" stroke="#49b561" stroke-width="2.4"/>
<g fill="#fff" stroke="#49b561" stroke-width="2.9"><circle cx="809" cy="629.7" r="9.5"/><circle cx="842.92" cy="629.57" r="9.5"/><circle cx="876.94" cy="629.19" r="9.5"/><circle cx="909.26" cy="628.59" r="9.5"/><circle cx="940.95" cy="627.77" r="9.5"/><circle cx="970.85" cy="626.8" r="9.5"/><circle cx="999.58" cy="625.68" r="9.5"/><circle cx="1027.58" cy="624.42" r="9.5"/><circle cx="1054.27" cy="623.05" r="9.5"/><circle cx="1079.46" cy="621.61" r="9.5"/><circle cx="1103.33" cy="620.12" r="9.5"/><circle cx="1126.43" cy="618.55" r="9.5"/><circle cx="1148.08" cy="616.98" r="9.5"/><circle cx="1168.56" cy="615.4" r="9.5"/><circle cx="1187.73" cy="613.84" r="9.5"/><circle cx="1205.68" cy="612.3" r="9.5"/><circle cx="1222.77" cy="610.76" r="9.5"/><circle cx="1239.02" cy="609.25" r="9.5"/><circle cx="1253.34" cy="607.86" r="9.5"/><circle cx="1266.88" cy="606.51" r="9.5"/><circle cx="1277.41" cy="605.43" r="9.5"/><circle cx="1286.49" cy="604.48" r="9.5"/><circle cx="1291.68" cy="603.93" r="9.5"/><circle cx="1294.3" cy="603.65" r="9.5"/></g>
<path d="M809,586.63 L842.92,586.56 L876.94,586.33 L909.26,585.97 L940.95,585.48 L970.85,584.9 L999.58,584.22 L1027.58,583.46 L1054.27,582.64 L1079.46,581.78 L1103.33,580.89 L1126.43,579.95 L1148.08,579 L1168.56,578.06 L1187.73,577.12 L1205.68,576.19 L1222.77,575.27 L1239.02,574.36 L1253.34,573.53 L1266.88,572.72 L1277.41,572.07 L1286.49,571.5 L1291.68,571.17 L1294.3,571.01" fill="none" stroke="#a466e6" stroke-width="2.4"/>
<g fill="#fff" stroke="#a466e6" stroke-width="2.9"><circle cx="809" cy="586.63" r="9.5"/><circle cx="842.92" cy="586.56" r="9.5"/><circle cx="876.94" cy="586.33" r="9.5"/><circle cx="909.26" cy="585.97" r="9.5"/><circle cx="940.95" cy="585.48" r="9.5"/><circle cx="970.85" cy="584.9" r="9.5"/><circle cx="999.58" cy="584.22" r="9.5"/><circle cx="1027.58" cy="583.46" r="9.5"/><circle cx="1054.27" cy="582.64" r="9.5"/><circle cx="1079.46" cy="581.78" r="9.5"/><circle cx="1103.33" cy="580.89" r="9.5"/><circle cx="1126.43" cy="579.95" r="9.5"/><circle cx="1148.08" cy="579" r="9.5"/><circle cx="1168.56" cy="578.06" r="9.5"/><circle cx="1187.73" cy="577.12" r="9.5"/><circle cx="1205.68" cy="576.19" r="9.5"/><circle cx="1222.77" cy="575.27" r="9.5"/><circle cx="1239.02" cy="574.36" r="9.5"/><circle cx="1253.34" cy="573.53" r="9.5"/><circle cx="1266.88" cy="572.72" r="9.5"/><circle cx="1277.41" cy="572.07" r="9.5"/><circle cx="1286.49" cy="571.5" r="9.5"/><circle cx="1291.68" cy="571.17" r="9.5"/><circle cx="1294.3" cy="571.01" r="9.5"/></g>
</g>
<rect x="809" y="511.25" width="485.3" height="390.75" fill="none" stroke="#000" stroke-width="3.4" stroke-linejoin="miter"/>
<text x="799.8" y="902.6" font-size="33" text-anchor="end">0.0</text>
<text x="799.8" y="729.8" font-size="33" text-anchor="end">0.5</text>
<text x="799.8" y="555.3" font-size="33" text-anchor="end">1.0</text>
<text x="807.25" y="929.8" font-size="34" text-anchor="middle">0</text>
<text x="966.93" y="936" font-size="34">3×10<tspan dy="-13.8" font-size="23.5">-3</tspan></text>
<text x="1174.41" y="936" font-size="34">6×10<tspan dy="-13.8" font-size="23.5">-3</tspan></text>
<text x="793.4" y="970" font-size="35">Distance to the droplet center / m</text>
<text transform="translate(742,706.62) rotate(-90)" x="0" y="0" font-size="34.8" text-anchor="middle">Coverage of corrosion products</text>
<line x1="1039.4" y1="748.75" x2="1087.4" y2="748.75" stroke="#474747" stroke-width="2.7" stroke-linecap="round"/>
<circle cx="1063.4" cy="748.75" r="9.6" fill="#fff" stroke="#474747" stroke-width="2.9"/>
<text x="1092" y="755.35" font-size="27.7">0 h</text>
<line x1="1039.4" y1="782.75" x2="1087.4" y2="782.75" stroke="#ec3237" stroke-width="2.7" stroke-linecap="round"/>
<circle cx="1063.4" cy="782.75" r="9.6" fill="#fff" stroke="#ec3237" stroke-width="2.9"/>
<text x="1092" y="789.35" font-size="27.7">0.5 h</text>
<line x1="1039.4" y1="816.5" x2="1087.4" y2="816.5" stroke="#3b6de8" stroke-width="2.7" stroke-linecap="round"/>
<circle cx="1063.4" cy="816.5" r="9.6" fill="#fff" stroke="#3b6de8" stroke-width="2.9"/>
<text x="1092" y="823.1" font-size="27.7">1 h</text>
<line x1="1153.1" y1="746.9" x2="1201.1" y2="746.9" stroke="#49b561" stroke-width="2.7" stroke-linecap="round"/>
<circle cx="1177.1" cy="746.9" r="9.6" fill="#fff" stroke="#49b561" stroke-width="2.9"/>
<text x="1206.5" y="753.5" font-size="27.7">1.5 h</text>
<line x1="1153.1" y1="781" x2="1201.1" y2="781" stroke="#a466e6" stroke-width="2.7" stroke-linecap="round"/>
<circle cx="1177.1" cy="781" r="9.6" fill="#fff" stroke="#a466e6" stroke-width="2.9"/>
<text x="1206.5" y="787.6" font-size="27.7">2 h</text>
<line x1="1473.5" y1="892.4" x2="1480.5" y2="892.4" stroke="#000" stroke-width="3"/>
<line x1="1473.5" y1="719.2" x2="1480.5" y2="719.2" stroke="#000" stroke-width="3"/>
<line x1="1473.5" y1="546" x2="1480.5" y2="546" stroke="#000" stroke-width="3"/>
<line x1="1473.5" y1="805.8" x2="1477.5" y2="805.8" stroke="#000" stroke-width="3"/>
<line x1="1473.5" y1="632.6" x2="1477.5" y2="632.6" stroke="#000" stroke-width="3"/>
<line x1="1473.5" y1="901.1" x2="1473.5" y2="894.1" stroke="#000" stroke-width="3"/>
<line x1="1681.27" y1="901.1" x2="1681.27" y2="894.1" stroke="#000" stroke-width="3"/>
<line x1="1889.04" y1="901.1" x2="1889.04" y2="894.1" stroke="#000" stroke-width="3"/>
<line x1="1577.39" y1="901.1" x2="1577.39" y2="897.1" stroke="#000" stroke-width="3"/>
<line x1="1785.16" y1="901.1" x2="1785.16" y2="897.1" stroke="#000" stroke-width="3"/>
<g clip-path="url(#clip2)">
<path d="M1473.5,889.98 L1507.39,889.98 L1541.37,889.98 L1573.66,889.98 L1605.32,889.98 L1635.18,889.98 L1663.88,889.98 L1691.85,889.98 L1718.52,889.98 L1743.68,889.98 L1767.53,889.98 L1790.61,889.98 L1812.23,889.98 L1832.69,889.98 L1851.84,889.98 L1869.78,889.98 L1886.84,889.98 L1903.08,889.98 L1917.38,889.98 L1930.91,889.98 L1941.43,889.98 L1950.49,889.98 L1955.68,889.98 L1958.3,889.98" fill="none" stroke="#474747" stroke-width="2.4"/>
<g fill="#fff" stroke="#474747" stroke-width="2.9"><circle cx="1473.5" cy="889.98" r="9.5"/><circle cx="1507.39" cy="889.98" r="9.5"/><circle cx="1541.37" cy="889.98" r="9.5"/><circle cx="1573.66" cy="889.98" r="9.5"/><circle cx="1605.32" cy="889.98" r="9.5"/><circle cx="1635.18" cy="889.98" r="9.5"/><circle cx="1663.88" cy="889.98" r="9.5"/><circle cx="1691.85" cy="889.98" r="9.5"/><circle cx="1718.52" cy="889.98" r="9.5"/><circle cx="1743.68" cy="889.98" r="9.5"/><circle cx="1767.53" cy="889.98" r="9.5"/><circle cx="1790.61" cy="889.98" r="9.5"/><circle cx="1812.23" cy="889.98" r="9.5"/><circle cx="1832.69" cy="889.98" r="9.5"/><circle cx="1851.84" cy="889.98" r="9.5"/><circle cx="1869.78" cy="889.98" r="9.5"/><circle cx="1886.84" cy="889.98" r="9.5"/><circle cx="1903.08" cy="889.98" r="9.5"/><circle cx="1917.38" cy="889.98" r="9.5"/><circle cx="1930.91" cy="889.98" r="9.5"/><circle cx="1941.43" cy="889.98" r="9.5"/><circle cx="1950.49" cy="889.98" r="9.5"/><circle cx="1955.68" cy="889.98" r="9.5"/><circle cx="1958.3" cy="889.98" r="9.5"/></g>
<path d="M1473.5,637.8 L1507.39,637.61 L1541.37,637.07 L1573.66,636.21 L1605.32,635.06 L1635.18,633.67 L1663.88,632.08 L1691.85,630.28 L1718.52,628.33 L1743.68,626.28 L1767.53,624.16 L1790.61,621.94 L1812.23,619.7 L1832.69,617.45 L1851.84,615.22 L1869.78,613.03 L1886.84,610.85 L1903.08,608.69 L1917.38,606.72 L1930.91,604.8 L1941.43,603.27 L1950.49,601.92 L1955.68,601.13 L1958.3,600.73" fill="none" stroke="#ec3237" stroke-width="2.4"/>
<g fill="#fff" stroke="#ec3237" stroke-width="2.9"><circle cx="1473.5" cy="637.8" r="9.5"/><circle cx="1507.39" cy="637.61" r="9.5"/><circle cx="1541.37" cy="637.07" r="9.5"/><circle cx="1573.66" cy="636.21" r="9.5"/><circle cx="1605.32" cy="635.06" r="9.5"/><circle cx="1635.18" cy="633.67" r="9.5"/><circle cx="1663.88" cy="632.08" r="9.5"/><circle cx="1691.85" cy="630.28" r="9.5"/><circle cx="1718.52" cy="628.33" r="9.5"/><circle cx="1743.68" cy="626.28" r="9.5"/><circle cx="1767.53" cy="624.16" r="9.5"/><circle cx="1790.61" cy="621.94" r="9.5"/><circle cx="1812.23" cy="619.7" r="9.5"/><circle cx="1832.69" cy="617.45" r="9.5"/><circle cx="1851.84" cy="615.22" r="9.5"/><circle cx="1869.78" cy="613.03" r="9.5"/><circle cx="1886.84" cy="610.85" r="9.5"/><circle cx="1903.08" cy="608.69" r="9.5"/><circle cx="1917.38" cy="606.72" r="9.5"/><circle cx="1930.91" cy="604.8" r="9.5"/><circle cx="1941.43" cy="603.27" r="9.5"/><circle cx="1950.49" cy="601.92" r="9.5"/><circle cx="1955.68" cy="601.13" r="9.5"/><circle cx="1958.3" cy="600.73" r="9.5"/></g>
<path d="M1473.5,567.48 L1507.39,567.45 L1541.37,567.37 L1573.66,567.24 L1605.32,567.07 L1635.18,566.86 L1663.88,566.62 L1691.85,566.35 L1718.52,566.06 L1743.68,565.76 L1767.53,565.44 L1790.61,565.11 L1812.23,564.77 L1832.69,564.43 L1851.84,564.1 L1869.78,563.77 L1886.84,563.45 L1903.08,563.13 L1917.38,562.83 L1930.91,562.54 L1941.43,562.31 L1950.49,562.11 L1955.68,561.99 L1958.3,561.93" fill="none" stroke="#3b6de8" stroke-width="2.4"/>
<g fill="#fff" stroke="#3b6de8" stroke-width="2.9"><circle cx="1473.5" cy="567.48" r="9.5"/><circle cx="1507.39" cy="567.45" r="9.5"/><circle cx="1541.37" cy="567.37" r="9.5"/><circle cx="1573.66" cy="567.24" r="9.5"/><circle cx="1605.32" cy="567.07" r="9.5"/><circle cx="1635.18" cy="566.86" r="9.5"/><circle cx="1663.88" cy="566.62" r="9.5"/><circle cx="1691.85" cy="566.35" r="9.5"/><circle cx="1718.52" cy="566.06" r="9.5"/><circle cx="1743.68" cy="565.76" r="9.5"/><circle cx="1767.53" cy="565.44" r="9.5"/><circle cx="1790.61" cy="565.11" r="9.5"/><circle cx="1812.23" cy="564.77" r="9.5"/><circle cx="1832.69" cy="564.43" r="9.5"/><circle cx="1851.84" cy="564.1" r="9.5"/><circle cx="1869.78" cy="563.77" r="9.5"/><circle cx="1886.84" cy="563.45" r="9.5"/><circle cx="1903.08" cy="563.13" r="9.5"/><circle cx="1917.38" cy="562.83" r="9.5"/><circle cx="1930.91" cy="562.54" r="9.5"/><circle cx="1941.43" cy="562.31" r="9.5"/><circle cx="1950.49" cy="562.11" r="9.5"/><circle cx="1955.68" cy="561.99" r="9.5"/><circle cx="1958.3" cy="561.93" r="9.5"/></g>
<path d="M1473.5,554.31 L1507.39,554.31 L1541.37,554.29 L1573.66,554.27 L1605.32,554.24 L1635.18,554.2 L1663.88,554.15 L1691.85,554.1 L1718.52,554.05 L1743.68,553.99 L1767.53,553.93 L1790.61,553.87 L1812.23,553.81 L1832.69,553.74 L1851.84,553.68 L1869.78,553.62 L1886.84,553.56 L1903.08,553.5 L1917.38,553.44 L1930.91,553.39 L1941.43,553.35 L1950.49,553.31 L1955.68,553.29 L1958.3,553.27" fill="none" stroke="#49b561" stroke-width="2.4"/>
<g fill="#fff" stroke="#49b561" stroke-width="2.9"><circle cx="1473.5" cy="554.31" r="9.5"/><circle cx="1507.39" cy="554.31" r="9.5"/><circle cx="1541.37" cy="554.29" r="9.5"/><circle cx="1573.66" cy="554.27" r="9.5"/><circle cx="1605.32" cy="554.24" r="9.5"/><circle cx="1635.18" cy="554.2" r="9.5"/><circle cx="1663.88" cy="554.15" r="9.5"/><circle cx="1691.85" cy="554.1" r="9.5"/><circle cx="1718.52" cy="554.05" r="9.5"/><circle cx="1743.68" cy="553.99" r="9.5"/><circle cx="1767.53" cy="553.93" r="9.5"/><circle cx="1790.61" cy="553.87" r="9.5"/><circle cx="1812.23" cy="553.81" r="9.5"/><circle cx="1832.69" cy="553.74" r="9.5"/><circle cx="1851.84" cy="553.68" r="9.5"/><circle cx="1869.78" cy="553.62" r="9.5"/><circle cx="1886.84" cy="553.56" r="9.5"/><circle cx="1903.08" cy="553.5" r="9.5"/><circle cx="1917.38" cy="553.44" r="9.5"/><circle cx="1930.91" cy="553.39" r="9.5"/><circle cx="1941.43" cy="553.35" r="9.5"/><circle cx="1950.49" cy="553.31" r="9.5"/><circle cx="1955.68" cy="553.29" r="9.5"/><circle cx="1958.3" cy="553.27" r="9.5"/></g>
<path d="M1473.5,548.42 L1507.39,548.41 L1541.37,548.38 L1573.66,548.34 L1605.32,548.27 L1635.18,548.19 L1663.88,548.1 L1691.85,548 L1718.52,547.89 L1743.68,547.78 L1767.53,547.66 L1790.61,547.54 L1812.23,547.41 L1832.69,547.28 L1851.84,547.16 L1869.78,547.04 L1886.84,546.91 L1903.08,546.79 L1917.38,546.68 L1930.91,546.57 L1941.43,546.49 L1950.49,546.41 L1955.68,546.37 L1958.3,546.35" fill="none" stroke="#a466e6" stroke-width="2.4"/>
<g fill="#fff" stroke="#a466e6" stroke-width="2.9"><circle cx="1473.5" cy="548.42" r="9.5"/><circle cx="1507.39" cy="548.41" r="9.5"/><circle cx="1541.37" cy="548.38" r="9.5"/><circle cx="1573.66" cy="548.34" r="9.5"/><circle cx="1605.32" cy="548.27" r="9.5"/><circle cx="1635.18" cy="548.19" r="9.5"/><circle cx="1663.88" cy="548.1" r="9.5"/><circle cx="1691.85" cy="548" r="9.5"/><circle cx="1718.52" cy="547.89" r="9.5"/><circle cx="1743.68" cy="547.78" r="9.5"/><circle cx="1767.53" cy="547.66" r="9.5"/><circle cx="1790.61" cy="547.54" r="9.5"/><circle cx="1812.23" cy="547.41" r="9.5"/><circle cx="1832.69" cy="547.28" r="9.5"/><circle cx="1851.84" cy="547.16" r="9.5"/><circle cx="1869.78" cy="547.04" r="9.5"/><circle cx="1886.84" cy="546.91" r="9.5"/><circle cx="1903.08" cy="546.79" r="9.5"/><circle cx="1917.38" cy="546.68" r="9.5"/><circle cx="1930.91" cy="546.57" r="9.5"/><circle cx="1941.43" cy="546.49" r="9.5"/><circle cx="1950.49" cy="546.41" r="9.5"/><circle cx="1955.68" cy="546.37" r="9.5"/><circle cx="1958.3" cy="546.35" r="9.5"/></g>
</g>
<rect x="1473.5" y="511.4" width="484.8" height="389.7" fill="none" stroke="#000" stroke-width="3.4" stroke-linejoin="miter"/>
<text x="1464.3" y="901.6" font-size="33" text-anchor="end">0.0</text>
<text x="1464.3" y="728.4" font-size="33" text-anchor="end">0.5</text>
<text x="1464.3" y="555.2" font-size="33" text-anchor="end">1.0</text>
<text x="1471.9" y="928.5" font-size="34" text-anchor="middle">0</text>
<text x="1631.71" y="935" font-size="34">3×10<tspan dy="-13.8" font-size="23.5">-3</tspan></text>
<text x="1839.18" y="935" font-size="34">6×10<tspan dy="-13.8" font-size="23.5">-3</tspan></text>
<text x="1458.4" y="968.75" font-size="35">Distance to the droplet center / m</text>
<text transform="translate(1407,706.25) rotate(-90)" x="0" y="0" font-size="34.8" text-anchor="middle">Coverage of corrosion products</text>
<line x1="1835.7" y1="677.7" x2="1883.7" y2="677.7" stroke="#474747" stroke-width="2.7" stroke-linecap="round"/>
<circle cx="1859.7" cy="677.7" r="9.6" fill="#fff" stroke="#474747" stroke-width="2.9"/>
<text x="1888" y="684.3" font-size="27.7">0 h</text>
<line x1="1835.7" y1="711.4" x2="1883.7" y2="711.4" stroke="#ec3237" stroke-width="2.7" stroke-linecap="round"/>
<circle cx="1859.7" cy="711.4" r="9.6" fill="#fff" stroke="#ec3237" stroke-width="2.9"/>
<text x="1888" y="718" font-size="27.7">0.5 h</text>
<line x1="1835.7" y1="744.8" x2="1883.7" y2="744.8" stroke="#3b6de8" stroke-width="2.7" stroke-linecap="round"/>
<circle cx="1859.7" cy="744.8" r="9.6" fill="#fff" stroke="#3b6de8" stroke-width="2.9"/>
<text x="1888" y="751.4" font-size="27.7">1 h</text>
<line x1="1835.7" y1="778.7" x2="1883.7" y2="778.7" stroke="#49b561" stroke-width="2.7" stroke-linecap="round"/>
<circle cx="1859.7" cy="778.7" r="9.6" fill="#fff" stroke="#49b561" stroke-width="2.9"/>
<text x="1888" y="785.3" font-size="27.7">1.5 h</text>
<line x1="1835.7" y1="812.4" x2="1883.7" y2="812.4" stroke="#a466e6" stroke-width="2.7" stroke-linecap="round"/>
<circle cx="1859.7" cy="812.4" r="9.6" fill="#fff" stroke="#a466e6" stroke-width="2.9"/>
<text x="1888" y="819" font-size="27.7">2 h</text>
<line x1="152.8" y1="1419.2" x2="159.8" y2="1419.2" stroke="#000" stroke-width="3"/>
<line x1="152.8" y1="1224.95" x2="159.8" y2="1224.95" stroke="#000" stroke-width="3"/>
<line x1="152.8" y1="1030.7" x2="159.8" y2="1030.7" stroke="#000" stroke-width="3"/>
<line x1="152.8" y1="1322.08" x2="156.8" y2="1322.08" stroke="#000" stroke-width="3"/>
<line x1="152.8" y1="1127.83" x2="156.8" y2="1127.83" stroke="#000" stroke-width="3"/>
<line x1="152.8" y1="1419.2" x2="152.8" y2="1412.2" stroke="#000" stroke-width="3"/>
<line x1="359.97" y1="1419.2" x2="359.97" y2="1412.2" stroke="#000" stroke-width="3"/>
<line x1="567.14" y1="1419.2" x2="567.14" y2="1412.2" stroke="#000" stroke-width="3"/>
<line x1="256.39" y1="1419.2" x2="256.39" y2="1415.2" stroke="#000" stroke-width="3"/>
<line x1="463.56" y1="1419.2" x2="463.56" y2="1415.2" stroke="#000" stroke-width="3"/>
<g clip-path="url(#clip3)" fill="none" stroke-width="3.2">
<path d="M152.8,1070.1 L636.2,1070.1" stroke="#474747"/>
<path d="M152.8,1117.9 L159.99,1117.89 L169.24,1117.87 L180.17,1117.85 L192.44,1117.84 L205.67,1117.81 L219.51,1117.78 L233.59,1117.75 L247.55,1117.71 L261.02,1117.66 L273.65,1117.6 L285.74,1117.55 L297.82,1117.51 L309.91,1117.47 L321.99,1117.44 L334.08,1117.39 L346.16,1117.31 L358.25,1117.21 L370.33,1117.06 L382.42,1116.86 L394.5,1116.6 L406.8,1116.29 L419.44,1115.94 L432.28,1115.55 L445.16,1115.12 L457.95,1114.65 L470.49,1114.14 L482.65,1113.59 L494.27,1113 L505.22,1112.37 L515.35,1111.7 L524.67,1110.96 L533.33,1110.15 L541.42,1109.27 L548.99,1108.35 L556.14,1107.4 L562.92,1106.43 L569.41,1105.46 L575.68,1104.51 L581.81,1103.58 L587.86,1102.7 L593.89,1101.82 L599.85,1100.89 L605.66,1099.95 L611.26,1099.01 L616.56,1098.09 L621.5,1097.21 L626.01,1096.41 L630.01,1095.69 L633.43,1095.08 L636.2,1094.6" stroke="#ec3237"/>
<path d="M152.8,1132.8 L159.99,1132.72 L169.24,1132.64 L180.17,1132.54 L192.44,1132.43 L205.67,1132.31 L219.51,1132.16 L233.59,1131.99 L247.55,1131.79 L261.02,1131.56 L273.65,1131.3 L285.74,1131.01 L297.82,1130.71 L309.91,1130.38 L321.99,1130.03 L334.08,1129.65 L346.16,1129.24 L358.25,1128.79 L370.33,1128.3 L382.42,1127.78 L394.5,1127.2 L406.8,1126.57 L419.44,1125.89 L432.28,1125.17 L445.16,1124.4 L457.95,1123.61 L470.49,1122.78 L482.65,1121.93 L494.27,1121.06 L505.22,1120.18 L515.35,1119.3 L524.67,1118.39 L533.33,1117.44 L541.42,1116.46 L548.99,1115.45 L556.14,1114.44 L562.92,1113.42 L569.41,1112.4 L575.68,1111.41 L581.81,1110.44 L587.86,1109.5 L593.89,1108.56 L599.85,1107.58 L605.66,1106.59 L611.26,1105.6 L616.56,1104.64 L621.5,1103.73 L626.01,1102.88 L630.01,1102.14 L633.43,1101.5 L636.2,1101" stroke="#3b6de8"/>
<path d="M152.8,1170 L167.72,1169.89 L187.6,1169.74 L211.35,1169.57 L237.88,1169.38 L266.1,1169.17 L294.92,1168.96 L323.26,1168.74 L350.03,1168.52 L374.14,1168.3 L394.5,1168.1 L411.48,1167.91 L426.4,1167.74 L439.64,1167.57 L451.54,1167.41 L462.48,1167.24 L472.81,1167.06 L482.9,1166.86 L493.11,1166.64 L503.81,1166.39 L515.35,1166.1 L527.98,1165.76 L541.45,1165.35 L555.41,1164.9 L569.49,1164.41 L583.33,1163.92 L596.56,1163.45 L608.83,1162.99 L619.76,1162.59 L629.01,1162.25 L636.2,1162" stroke="#49b561"/>
<path d="M152.8,1246.7 L636.2,1244.8" stroke="#a466e6"/>
</g>
<rect x="152.8" y="1030.7" width="483.4" height="388.5" fill="none" stroke="#000" stroke-width="3.4" stroke-linejoin="miter"/>
<text x="143.8" y="1429.2" font-size="35.2" text-anchor="end">0.0</text>
<text x="143.8" y="1236.5" font-size="35.2" text-anchor="end">0.1</text>
<text x="143.8" y="1040.6" font-size="35.2" text-anchor="end">0.2</text>
<text x="152.05" y="1454.2" font-size="34.3" text-anchor="middle">0</text>
<text x="310.38" y="1459.8" font-size="34.3">3×10<tspan dy="-13.8" font-size="23.5">-3</tspan></text>
<text x="517.55" y="1459.8" font-size="34.3">6×10<tspan dy="-13.8" font-size="23.5">-3</tspan></text>
<text x="136.4" y="1487" font-size="35">Distance to the droplet center / m</text>
<text transform="translate(80.4,1427.3) rotate(-90)" x="0" y="0" font-size="34.6">O<tspan dy="5.4" font-size="25.5">2</tspan><tspan dy="-5.4"> concentration / mol·m</tspan><tspan dy="-8" font-size="25.5">-3</tspan></text>
<line x1="515.2" y1="1266.1" x2="563.7" y2="1266.1" stroke="#474747" stroke-width="3.4" stroke-linecap="round"/>
<text x="567" y="1272.5" font-size="27.7">0 h</text>
<line x1="515.2" y1="1300" x2="563.7" y2="1300" stroke="#ec3237" stroke-width="3.4" stroke-linecap="round"/>
<text x="567" y="1306.4" font-size="27.7">0.5 h</text>
<line x1="515.2" y1="1333.4" x2="563.7" y2="1333.4" stroke="#3b6de8" stroke-width="3.4" stroke-linecap="round"/>
<text x="567" y="1339.8" font-size="27.7">1 h</text>
<line x1="515.2" y1="1367.3" x2="563.7" y2="1367.3" stroke="#49b561" stroke-width="3.4" stroke-linecap="round"/>
<text x="567" y="1373.7" font-size="27.7">1.5 h</text>
<line x1="515.2" y1="1401.1" x2="563.7" y2="1401.1" stroke="#a466e6" stroke-width="3.4" stroke-linecap="round"/>
<text x="567" y="1407.5" font-size="27.7">2 h</text>
<line x1="808.7" y1="1426.8" x2="815.7" y2="1426.8" stroke="#000" stroke-width="3"/>
<line x1="808.7" y1="1229.35" x2="815.7" y2="1229.35" stroke="#000" stroke-width="3"/>
<line x1="808.7" y1="1031.9" x2="815.7" y2="1031.9" stroke="#000" stroke-width="3"/>
<line x1="808.7" y1="1328.08" x2="812.7" y2="1328.08" stroke="#000" stroke-width="3"/>
<line x1="808.7" y1="1130.62" x2="812.7" y2="1130.62" stroke="#000" stroke-width="3"/>
<line x1="808.7" y1="1426.8" x2="808.7" y2="1419.8" stroke="#000" stroke-width="3"/>
<line x1="1019.21" y1="1426.8" x2="1019.21" y2="1419.8" stroke="#000" stroke-width="3"/>
<line x1="1229.73" y1="1426.8" x2="1229.73" y2="1419.8" stroke="#000" stroke-width="3"/>
<line x1="913.96" y1="1426.8" x2="913.96" y2="1422.8" stroke="#000" stroke-width="3"/>
<line x1="1124.47" y1="1426.8" x2="1124.47" y2="1422.8" stroke="#000" stroke-width="3"/>
<g clip-path="url(#clip4)" fill="none" stroke-width="3.2">
<path d="M808.7,1072.6 L1299.9,1072.6" stroke="#474747"/>
<path d="M808.7,1189.6 L818.19,1189.66 L830.69,1189.74 L845.58,1189.84 L862.23,1189.94 L880.02,1190.06 L898.33,1190.17 L916.55,1190.29 L934.05,1190.4 L950.21,1190.51 L964.41,1190.6 L976.94,1190.7 L988.6,1190.83 L999.54,1190.96 L1009.92,1191.1 L1019.89,1191.23 L1029.6,1191.34 L1039.22,1191.41 L1048.9,1191.43 L1058.78,1191.4 L1069.04,1191.3 L1079.69,1191.15 L1090.59,1190.98 L1101.65,1190.78 L1112.74,1190.53 L1123.77,1190.24 L1134.63,1189.9 L1145.2,1189.49 L1155.39,1189.01 L1165.07,1188.45 L1174.15,1187.8 L1182.62,1187.06 L1190.59,1186.24 L1198.11,1185.34 L1205.26,1184.36 L1212.1,1183.33 L1218.69,1182.23 L1225.1,1181.08 L1231.4,1179.89 L1237.64,1178.66 L1243.9,1177.4 L1250.31,1176.01 L1256.88,1174.44 L1263.48,1172.74 L1269.98,1170.97 L1276.26,1169.2 L1282.19,1167.48 L1287.65,1165.87 L1292.5,1164.43 L1296.63,1163.22 L1299.9,1162.3" stroke="#ec3237"/>
<path d="M808.7,1291.9 L1299.9,1297.2" stroke="#3b6de8"/>
<path d="M808.7,1358.3 L1299.9,1358.3" stroke="#49b561"/>
<path d="M808.7,1390.8 L1299.9,1390.8" stroke="#a466e6"/>
</g>
<rect x="808.7" y="1031.9" width="491.2" height="394.9" fill="none" stroke="#000" stroke-width="3.4" stroke-linejoin="miter"/>
<text x="799.6" y="1436.5" font-size="35.8" text-anchor="end">0.0</text>
<text x="799.6" y="1241.5" font-size="35.8" text-anchor="end">0.1</text>
<text x="799.6" y="1041.5" font-size="35.8" text-anchor="end">0.2</text>
<text x="808.1" y="1461" font-size="34.3" text-anchor="middle">0</text>
<text x="970.02" y="1467.3" font-size="34.3">3×10<tspan dy="-13.8" font-size="23.5">-3</tspan></text>
<text x="1180.39" y="1467.3" font-size="34.3">6×10<tspan dy="-13.8" font-size="23.5">-3</tspan></text>
<text x="792.4" y="1496.5" font-size="35">Distance to the droplet center / m</text>
<text transform="translate(735.1,1434.6) rotate(-90)" x="0" y="0" font-size="34.6">O<tspan dy="5.4" font-size="25.5">2</tspan><tspan dy="-5.4"> concentration / mol·m</tspan><tspan dy="-8" font-size="25.5">-3</tspan></text>
<line x1="1050" y1="1211.25" x2="1098.5" y2="1211.25" stroke="#474747" stroke-width="3.4" stroke-linecap="round"/>
<text x="1103" y="1217.65" font-size="27.7">0 h</text>
<line x1="1050" y1="1245.6" x2="1098.5" y2="1245.6" stroke="#ec3237" stroke-width="3.4" stroke-linecap="round"/>
<text x="1103" y="1252" font-size="27.7">0.5 h</text>
<line x1="1050" y1="1279.6" x2="1098.5" y2="1279.6" stroke="#3b6de8" stroke-width="3.4" stroke-linecap="round"/>
<text x="1103" y="1286" font-size="27.7">1 h</text>
<line x1="1168.75" y1="1207.9" x2="1217.25" y2="1207.9" stroke="#49b561" stroke-width="3.4" stroke-linecap="round"/>
<text x="1222.6" y="1214.3" font-size="27.7">1.5 h</text>
<line x1="1168.75" y1="1242.25" x2="1217.25" y2="1242.25" stroke="#a466e6" stroke-width="3.4" stroke-linecap="round"/>
<text x="1222.6" y="1248.65" font-size="27.7">2 h</text>
<line x1="1472.7" y1="1425.4" x2="1479.7" y2="1425.4" stroke="#000" stroke-width="3"/>
<line x1="1472.7" y1="1228.25" x2="1479.7" y2="1228.25" stroke="#000" stroke-width="3"/>
<line x1="1472.7" y1="1031.1" x2="1479.7" y2="1031.1" stroke="#000" stroke-width="3"/>
<line x1="1472.7" y1="1326.83" x2="1476.7" y2="1326.83" stroke="#000" stroke-width="3"/>
<line x1="1472.7" y1="1129.67" x2="1476.7" y2="1129.67" stroke="#000" stroke-width="3"/>
<line x1="1472.7" y1="1425.4" x2="1472.7" y2="1418.4" stroke="#000" stroke-width="3"/>
<line x1="1682.36" y1="1425.4" x2="1682.36" y2="1418.4" stroke="#000" stroke-width="3"/>
<line x1="1892.01" y1="1425.4" x2="1892.01" y2="1418.4" stroke="#000" stroke-width="3"/>
<line x1="1577.53" y1="1425.4" x2="1577.53" y2="1421.4" stroke="#000" stroke-width="3"/>
<line x1="1787.19" y1="1425.4" x2="1787.19" y2="1421.4" stroke="#000" stroke-width="3"/>
<g clip-path="url(#clip5)" fill="none" stroke-width="3.2">
<path d="M1472.7,1072.6 L1961.9,1073.3" stroke="#474747"/>
<path d="M1472.7,1370.1 L1961.9,1374.7" stroke="#ec3237"/>
<path d="M1472.7,1409.4 L1961.9,1413.4" stroke="#3b6de8"/>
<path d="M1472.7,1418.4 L1961.9,1420" stroke="#49b561"/>
<path d="M1472.7,1421.8 L1961.9,1422.5" stroke="#a466e6"/>
</g>
<rect x="1472.7" y="1031.1" width="489.2" height="394.3" fill="none" stroke="#000" stroke-width="3.4" stroke-linejoin="miter"/>
<text x="1463.8" y="1436" font-size="35.8" text-anchor="end">0.0</text>
<text x="1463.8" y="1240.5" font-size="35.8" text-anchor="end">0.1</text>
<text x="1463.8" y="1041.5" font-size="35.8" text-anchor="end">0.2</text>
<text x="1472.1" y="1459.8" font-size="34.3" text-anchor="middle">0</text>
<text x="1633.82" y="1465" font-size="34.3">3×10<tspan dy="-13.8" font-size="23.5">-3</tspan></text>
<text x="1843.52" y="1465" font-size="34.3">6×10<tspan dy="-13.8" font-size="23.5">-3</tspan></text>
<text x="1464.4" y="1493.75" font-size="35">Distance to the droplet center / m</text>
<text transform="translate(1399.4,1432) rotate(-90)" x="0" y="0" font-size="34.6">O<tspan dy="5.4" font-size="25.5">2</tspan><tspan dy="-5.4"> concentration / mol·m</tspan><tspan dy="-8" font-size="25.5">-3</tspan></text>
<line x1="1826.3" y1="1213.2" x2="1874.8" y2="1213.2" stroke="#474747" stroke-width="3.4" stroke-linecap="round"/>
<text x="1879" y="1219.6" font-size="27.7">0 h</text>
<line x1="1826.3" y1="1247.3" x2="1874.8" y2="1247.3" stroke="#ec3237" stroke-width="3.4" stroke-linecap="round"/>
<text x="1879" y="1253.7" font-size="27.7">0.5 h</text>
<line x1="1826.3" y1="1281.4" x2="1874.8" y2="1281.4" stroke="#3b6de8" stroke-width="3.4" stroke-linecap="round"/>
<text x="1879" y="1287.8" font-size="27.7">1 h</text>
<line x1="1826.3" y1="1315.5" x2="1874.8" y2="1315.5" stroke="#49b561" stroke-width="3.4" stroke-linecap="round"/>
<text x="1879" y="1321.9" font-size="27.7">1.5 h</text>
<line x1="1826.3" y1="1349.2" x2="1874.8" y2="1349.2" stroke="#a466e6" stroke-width="3.4" stroke-linecap="round"/>
<text x="1879" y="1355.6" font-size="27.7">2 h</text>
</svg></body></html>
